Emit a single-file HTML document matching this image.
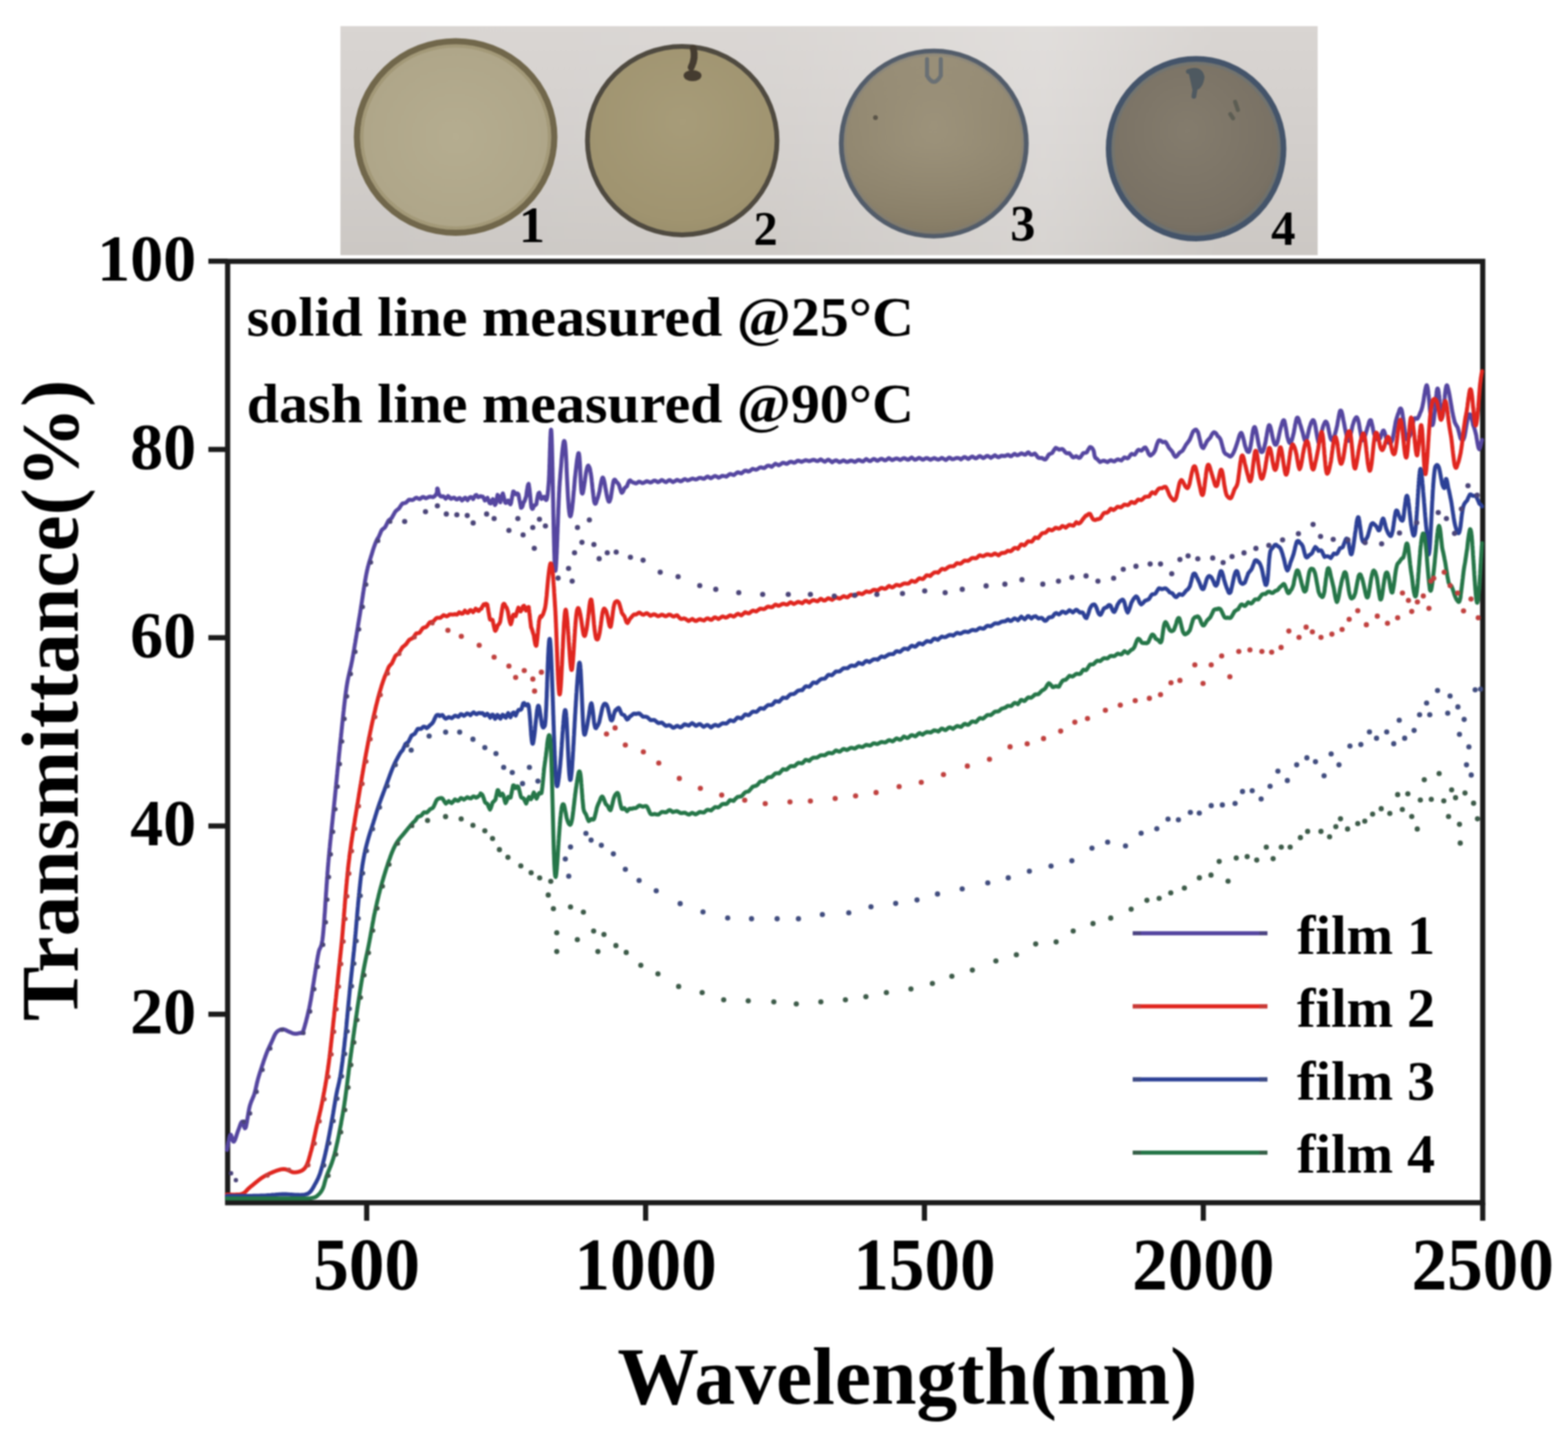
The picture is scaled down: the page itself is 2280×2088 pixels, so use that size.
<!DOCTYPE html><html><head><meta charset="utf-8"><style>html,body{margin:0;padding:0;background:#fff;}svg{display:block;filter:blur(1.3px)}</style></head><body>
<svg xmlns="http://www.w3.org/2000/svg" width="2280" height="2088" viewBox="0 0 2280 2088">
<defs>
<linearGradient id="pbg" x1="0" y1="0" x2="0" y2="1"><stop offset="0" stop-color="#d9d5d2"/><stop offset="0.5" stop-color="#d3cfcc"/><stop offset="1" stop-color="#ccc8c4"/></linearGradient>
<radialGradient id="c1" cx="0.5" cy="0.5" r="0.6"><stop offset="0" stop-color="#b5ad90"/><stop offset="0.8" stop-color="#afa689"/><stop offset="1" stop-color="#a39a76"/></radialGradient>
<radialGradient id="c2" cx="0.5" cy="0.4" r="0.65"><stop offset="0" stop-color="#a79c79"/><stop offset="0.8" stop-color="#a09470"/><stop offset="1" stop-color="#988d6b"/></radialGradient>
<radialGradient id="c3" cx="0.5" cy="0.4" r="0.65"><stop offset="0" stop-color="#9d937b"/><stop offset="0.8" stop-color="#918770"/><stop offset="1" stop-color="#877e6c"/></radialGradient>
<radialGradient id="c4" cx="0.45" cy="0.4" r="0.65"><stop offset="0" stop-color="#847c6d"/><stop offset="0.8" stop-color="#797164"/><stop offset="1" stop-color="#70695d"/></radialGradient>
<linearGradient id="phl" x1="0" y1="0" x2="1" y2="0"><stop offset="0" stop-color="#fff" stop-opacity="0"/><stop offset="0.45" stop-color="#fff" stop-opacity="0.06"/><stop offset="0.72" stop-color="#fff" stop-opacity="0.22"/><stop offset="0.8" stop-color="#fff" stop-opacity="0.12"/><stop offset="0.9" stop-color="#fff" stop-opacity="0"/><stop offset="1" stop-color="#fff" stop-opacity="0"/></linearGradient>
<linearGradient id="vs3" x1="0" y1="0" x2="0" y2="1"><stop offset="0" stop-color="#a49a84" stop-opacity="0.35"/><stop offset="0.5" stop-color="#8e846e" stop-opacity="0"/><stop offset="1" stop-color="#7a6f58" stop-opacity="0.45"/></linearGradient>
</defs>
<rect width="2280" height="2088" fill="#ffffff"/>
<rect x="495" y="38" width="1421" height="333" fill="url(#pbg)"/>
<rect x="495" y="38" width="1421" height="333" fill="url(#phl)"/>
<ellipse cx="662.5" cy="199.2" rx="143.5" ry="139.2" fill="url(#c1)" stroke="#71674b" stroke-width="9"/>
<ellipse cx="992" cy="204.4" rx="137.8" ry="137" fill="url(#c2)" stroke="#4f4a40" stroke-width="7"/>
<ellipse cx="1357.8" cy="208.7" rx="134.5" ry="134.5" fill="url(#c3)" stroke="#525c6a" stroke-width="7"/>
<ellipse cx="1739.2" cy="216.2" rx="127" ry="130.5" fill="url(#c4)" stroke="#44546a" stroke-width="8.5"/>
<ellipse cx="1357.8" cy="208.7" rx="132" ry="132" fill="url(#vs3)"/>
<ellipse cx="662.5" cy="199.2" rx="136.5" ry="132.5" fill="none" stroke="#978c68" stroke-opacity="0.5" stroke-width="5"/>
<ellipse cx="1739.2" cy="216.2" rx="121" ry="124.5" fill="none" stroke="#6a7478" stroke-opacity="0.5" stroke-width="5"/>
<ellipse cx="1357.8" cy="208.7" rx="129.5" ry="129.5" fill="none" stroke="#7c7f80" stroke-opacity="0.3" stroke-width="4"/>
<path d="M1008 70 Q1012 84 1005 98" fill="none" stroke="#453c30" stroke-width="10" stroke-linecap="round"/>
<ellipse cx="1007" cy="110" rx="13" ry="8" fill="#453c30"/>
<path d="M1348 86 L1348 110 Q1358 128 1368 110 L1368 86" fill="none" stroke="#6a7074" stroke-width="6" stroke-linecap="round"/>
<circle cx="1273" cy="171" r="3.5" fill="#5a5448"/>
<path d="M1728 104 Q1745 98 1748 112 Q1746 126 1738 128 L1736 140" fill="#4a5660" stroke="#4a5660" stroke-width="7" stroke-linecap="round" opacity="0.9"/>
<path d="M1796 148 L1800 160 M1789 166 L1793 172" stroke="#55584f" stroke-width="6" stroke-linecap="round" opacity="0.8"/>
<text x="754.8" y="352" font-size="75" font-family="Liberation Serif, Times New Roman, serif" font-weight="bold">1</text>
<text x="1095.8" y="355.5" font-size="70" font-family="Liberation Serif, Times New Roman, serif" font-weight="bold">2</text>
<text x="1469" y="350" font-size="73" font-family="Liberation Serif, Times New Roman, serif" font-weight="bold">3</text>
<text x="1848.3" y="355.5" font-size="71" font-family="Liberation Serif, Times New Roman, serif" font-weight="bold">4</text>
<rect x="331" y="380" width="1825" height="1368.8" fill="none" stroke="#1b1b1b" stroke-width="7.5"/>
<path d="M303 379.8H331M303 653.5H331M303 927.2H331M303 1200.9H331M303 1474.7H331M533.2 1748.8V1775M938.8 1748.8V1775M1344.2 1748.8V1775M1749.7 1748.8V1775M2156 1748.8V1775" stroke="#1b1b1b" stroke-width="7.5" fill="none"/>
<g fill="none" stroke-linejoin="round" stroke-linecap="round">
<path d="M330 1672L330.2 1671.1L330.4 1669.9L330.7 1668.5L331 1666.9L331.3 1665.1L331.6 1663.2L332 1661.3L332.4 1659.4L332.8 1657.6L333.1 1655.8L333.5 1654.1L333.9 1652.7L334.3 1651.5L334.7 1650.6L335 1650L335.7 1650L336.4 1651.3L337 1653.5L337.7 1656L338.4 1658.3L339.2 1659.8L340 1660L340.5 1659.5L341.1 1658.5L341.7 1657.3L342.3 1655.8L342.9 1654.1L343.5 1652.3L344.1 1650.4L344.7 1648.5L345.3 1646.7L345.9 1644.9L346.5 1643.3L347 1642L347.7 1640.2L348.4 1638.3L349 1636.5L349.6 1634.8L350.2 1633.4L350.8 1632.2L351.4 1631.4L352 1631L352.8 1631.8L353.6 1634L354.4 1636.8L355.3 1639.2L356.1 1640.6L357 1640L357.3 1639.4L357.5 1638.6L357.8 1637.6L358.1 1636.4L358.3 1635.1L358.6 1633.7L358.9 1632.2L359.2 1630.6L359.4 1628.9L359.7 1627.1L360 1625.4L360.3 1623.5L360.6 1621.7L360.9 1619.9L361.2 1618.1L361.5 1616.4L361.8 1614.7L362.1 1613.1L362.4 1611.6L362.7 1610.3L363 1609L363.5 1607.2L364 1605.5L364.6 1603.9L365.1 1602.4L365.7 1601L366.2 1599.7L366.8 1598.4L367.3 1597.1L367.9 1595.8L368.4 1594.5L369 1593.1L369.5 1591.6L370 1590L370.4 1588.7L370.8 1587.3L371.1 1585.9L371.5 1584.6L371.8 1583.2L372.1 1581.8L372.4 1580.3L372.8 1578.9L373.1 1577.4L373.4 1575.9L373.8 1574.3L374.2 1572.8L374.6 1571.1L375 1569.5L375.5 1567.8L376 1566L376.4 1564.7L376.8 1563.4L377.2 1562L377.7 1560.6L378.1 1559.1L378.6 1557.7L379.1 1556.1L379.6 1554.6L380.1 1553L380.6 1551.5L381.1 1549.9L381.6 1548.3L382.2 1546.8L382.7 1545.2L383.2 1543.7L383.7 1542.2L384.2 1540.8L384.7 1539.3L385.2 1538L385.7 1536.6L386.1 1535.4L386.6 1534.1L387 1533L387.7 1531.1L388.4 1529.4L389.1 1527.7L389.7 1526.2L390.3 1524.8L391 1523.5L391.5 1522.2L392.1 1520.9L392.7 1519.8L393.3 1518.6L393.9 1517.4L394.4 1516.2L395 1515L395.7 1513.4L396.4 1511.8L397.1 1510.2L397.8 1508.7L398.4 1507.1L399.1 1505.7L399.8 1504.4L400.5 1503.1L401.2 1502L402 1501L403.4 1499.6L404.9 1498.5L406.4 1497.7L407.9 1497.1L409.5 1496.8L411 1496.6L412.5 1496.7L414 1497.2L415.6 1497.8L417.1 1498.6L418.6 1499.4L420 1500L421.7 1500.7L423.3 1501.4L424.8 1502.1L426.4 1502.7L428 1503L429.6 1503.1L431.3 1503L433 1502.8L434.6 1502.4L436 1502L437.7 1502.2L439.1 1502.2L441 1498.7L441.3 1497.8L441.6 1496.8L442 1495.8L442.4 1494.6L442.7 1493.3L443.1 1492L443.5 1490.6L443.9 1489.1L444.3 1487.6L444.8 1486L445.2 1484.4L445.6 1482.7L446 1481.1L446.5 1479.4L446.9 1477.6L447.3 1475.9L447.7 1474.1L448.1 1472.4L448.5 1470.7L448.9 1469L449.3 1467.3L449.7 1465.6L450 1464L450.3 1462.6L450.6 1461.1L450.9 1459.7L451.1 1458.2L451.4 1456.8L451.7 1455.3L452 1453.8L452.2 1452.3L452.5 1450.8L452.7 1449.3L453 1447.8L453.2 1446.3L453.5 1444.8L453.7 1443.2L453.9 1441.7L454.2 1440.2L454.4 1438.7L454.7 1437.1L454.9 1435.6L455.1 1434.1L455.4 1432.6L455.6 1431L455.9 1429.5L456.1 1428L456.4 1426.5L456.6 1425L456.8 1423.5L457.1 1422L457.3 1420.4L457.6 1418.9L457.8 1417.3L458.1 1415.7L458.3 1414.2L458.6 1412.6L458.8 1411L459.1 1409.4L459.3 1407.8L459.6 1406.3L459.8 1404.7L460 1403.1L460.3 1401.6L460.5 1400.1L460.8 1398.5L461 1397L461.3 1395.6L461.5 1394.1L461.8 1392.7L462 1391.3L462.3 1389.9L462.5 1388.6L462.8 1387.3L463 1386L463.4 1384.3L463.8 1382.8L464.1 1381.6L464.5 1380.6L464.9 1379.8L465.3 1379L465.6 1378.3L466 1377.5L466.4 1376.6L466.8 1375.6L467.2 1374.4L467.6 1373L468 1371.2L468.4 1369.1L468.8 1366.6L469.2 1363.5L469.6 1360L469.7 1359L469.8 1358L469.9 1357L470 1355.9L470.1 1354.9L470.2 1353.7L470.3 1352.6L470.4 1351.4L470.5 1350.2L470.6 1348.9L470.8 1347.6L470.9 1346.3L471 1345L471.1 1343.7L471.2 1342.3L471.3 1340.9L471.4 1339.5L471.5 1338L471.6 1336.6L471.7 1335.1L471.8 1333.6L471.9 1332.1L472 1330.5L472.1 1329L472.3 1327.4L472.4 1325.8L472.5 1324.2L472.6 1322.6L472.7 1321L472.8 1319.4L472.9 1317.7L473 1316.1L473.1 1314.4L473.2 1312.8L473.3 1311.1L473.5 1309.4L473.6 1307.7L473.7 1306L473.8 1304.3L473.9 1302.6L474 1300.9L474.1 1299.2L474.2 1297.5L474.4 1295.8L474.5 1294.1L474.6 1292.4L474.7 1290.7L474.8 1289L474.9 1287.3L475 1285.6L475.2 1283.9L475.3 1282.3L475.4 1280.6L475.5 1278.9L475.6 1277.3L475.7 1275.7L475.9 1274L476 1272.4L476.1 1270.8L476.2 1269.2L476.3 1267.7L476.5 1266.1L476.6 1264.6L476.7 1263L476.8 1261.5L476.9 1260L477.1 1258.6L477.2 1257.1L477.3 1255.7L477.4 1254.1L477.6 1252.5L477.7 1250.8L477.9 1249.2L478 1247.7L478.2 1246.1L478.3 1244.5L478.4 1242.9L478.6 1241.3L478.7 1239.8L478.9 1238.2L479 1236.6L479.2 1235.1L479.3 1233.6L479.5 1232L479.6 1230.5L479.8 1228.9L479.9 1227.4L480.1 1225.9L480.2 1224.4L480.4 1222.9L480.5 1221.4L480.7 1219.8L480.8 1218.3L481 1216.8L481.1 1215.3L481.3 1213.8L481.5 1212.4L481.6 1210.9L481.8 1209.4L481.9 1207.9L482.1 1206.4L482.2 1204.9L482.4 1203.4L482.5 1201.9L482.7 1200.5L482.8 1199L483 1197.5L483.2 1196L483.3 1194.5L483.5 1193.1L483.6 1191.6L483.8 1190.1L483.9 1188.6L484.1 1187.1L484.2 1185.7L484.4 1184.2L484.6 1182.7L484.7 1181.2L484.9 1179.7L485 1178.2L485.2 1176.7L485.3 1175.2L485.5 1173.7L485.6 1172.2L485.8 1170.7L485.9 1169.2L486.1 1167.7L486.2 1166.2L486.4 1164.7L486.6 1163.2L486.7 1161.7L486.9 1160.1L487 1158.6L487.2 1157.1L487.3 1155.5L487.5 1154L487.6 1152.4L487.8 1150.9L487.9 1149.3L488.1 1147.8L488.2 1146.2L488.4 1144.7L488.5 1143.1L488.7 1141.5L488.8 1140L489 1138.4L489.2 1136.9L489.3 1135.3L489.5 1133.7L489.6 1132.2L489.8 1130.6L489.9 1129L490.1 1127.5L490.2 1125.9L490.4 1124.3L490.5 1122.8L490.7 1121.2L490.8 1119.7L491 1118.1L491.2 1116.6L491.3 1115L491.5 1113.5L491.6 1111.9L491.8 1110.4L491.9 1108.9L492.1 1107.3L492.2 1105.8L492.4 1104.3L492.5 1102.8L492.7 1101.2L492.8 1099.7L493 1098.2L493.1 1096.7L493.3 1095.2L493.4 1093.7L493.6 1092.3L493.7 1090.8L493.9 1089.3L494 1087.9L494.2 1086.4L494.3 1085L494.5 1083.5L494.6 1082.1L494.8 1080.7L494.9 1079.3L495.1 1077.9L495.2 1076.5L495.4 1075.1L495.5 1073.7L495.7 1072L495.9 1070.3L496 1068.7L496.2 1067L496.4 1065.3L496.6 1063.7L496.7 1062L496.9 1060.3L497.1 1058.7L497.2 1057L497.4 1055.4L497.6 1053.7L497.7 1052.1L497.9 1050.5L498.1 1048.8L498.3 1047.2L498.4 1045.6L498.6 1044L498.8 1042.4L498.9 1040.8L499.1 1039.3L499.3 1037.7L499.4 1036.1L499.6 1034.6L499.8 1033L499.9 1031.5L500.1 1030L500.3 1028.5L500.4 1027L500.6 1025.5L500.8 1024L500.9 1022.6L501.1 1021.1L501.3 1019.7L501.4 1018.3L501.6 1016.9L501.8 1015.5L501.9 1014.1L502.1 1012.7L502.3 1011.4L502.4 1010L502.6 1008.7L502.8 1007.4L502.9 1006.1L503.1 1004.9L503.3 1003.6L503.5 1002.4L503.6 1001.2L503.8 1000L504.1 998L504.4 996.1L504.7 994.2L505 992.5L505.3 990.9L505.6 989.3L505.9 987.8L506.2 986.3L506.5 984.9L506.8 983.5L507.1 982.2L507.4 980.9L507.7 979.6L508 978.3L508.3 977L508.6 975.8L508.9 974.5L509.2 973.2L509.5 971.9L509.8 970.5L510.2 969.1L510.5 967.7L510.8 966.2L511.1 964.7L511.5 963L511.8 961.3L512.2 959.6L512.5 957.7L512.7 956.5L513 955.2L513.2 953.9L513.4 952.6L513.7 951.3L513.9 949.9L514.1 948.5L514.4 947.1L514.6 945.7L514.9 944.2L515.1 942.8L515.4 941.3L515.6 939.8L515.9 938.3L516.1 936.8L516.4 935.2L516.7 933.7L516.9 932.2L517.2 930.6L517.4 929L517.7 927.5L518 925.9L518.2 924.3L518.5 922.7L518.7 921.2L519 919.6L519.3 918L519.5 916.4L519.8 914.9L520 913.3L520.3 911.7L520.5 910.2L520.8 908.6L521 907.1L521.3 905.6L521.5 904.1L521.8 902.6L522 901.1L522.3 899.6L522.5 898.2L522.7 896.8L523 895.4L523.2 894L523.4 892.6L523.7 890.9L523.9 889.3L524.2 887.6L524.5 886L524.7 884.3L525 882.6L525.2 881L525.5 879.3L525.8 877.6L526 876L526.3 874.4L526.5 872.7L526.8 871.1L527 869.5L527.3 867.9L527.5 866.3L527.7 864.7L528 863.1L528.2 861.6L528.4 860L528.7 858.5L528.9 857L529.1 855.5L529.4 854.1L529.6 852.6L529.8 851.2L530.1 849.8L530.3 848.4L530.5 847.1L530.7 845.8L530.9 844.5L531.1 843.2L531.4 842L531.6 840.8L531.8 839.6L532 838.5L532.4 836.2L532.8 834.2L533.2 832.3L533.6 830.5L533.9 828.9L534.3 827.4L534.6 826L534.9 824.6L535.3 823.3L535.6 822.1L536 820.8L536.3 819.5L536.7 818.2L537.1 816.9L537.5 815.5L538 814L538.5 812.4L538.9 811L539.3 809.7L539.8 808.2L540.2 806.8L540.7 805.4L541.1 803.9L541.6 802.4L542 800.9L542.5 799.4L543 797.9L543.5 796.4L544 794.9L544.6 793.5L545.1 791.9L545.7 790.4L546.3 788.9L546.9 787.5L547.5 786.1L548.1 784.9L548.7 783.6L549.4 782.5L550.1 781.9L550.9 780.3L551.6 778.4L552.5 776.5L553.3 774.6L554.1 772.7L555 770.8L555.9 770L556.7 769.3L557.7 768.5L558.6 767.9L559.5 767.2L560.4 765.9L561.3 764.1L562.2 762.3L563.1 760.4L564 758.7L564.9 756.9L565.8 756.1L566.7 755.5L567.7 754.8L568.6 754L569.6 753.3L570.5 751.5L571.5 749.7L572.5 748L573.4 746.3L574.4 744.6L575.3 743.2L576.3 742.4L577.3 741.6L578.2 740.8L579.2 740.1L580.1 739.5L581.1 737.9L582.1 736.4L583 735L584 733.6L585.4 732.1L586.7 731.8L588 731.5L589.3 731.3L590.6 730.6L591.9 729.3L593.2 728L594.6 726.7L596.1 726.6L597.8 726.9L599.5 727.2L601.4 726.3L602.7 725.3L604 724.2L605.5 723.7L607.1 724.4L608.7 725.2L610.4 725.7L612.1 724.4L613.8 723.1L615.6 722.6L617.4 723.6L619.1 724.6L620.8 724L622.5 723.2L624.1 722.4L625.7 722.2L627.1 722.5L628.4 722.7L629.7 722.9L630.8 722.3L631.7 721.7L633.7 719.6L634.8 717.5L635.4 715.6L635.5 713.6L635.6 711.8L635.6 710.6L636 710.3L636.5 710.8L636.9 712.1L637.2 713.9L637.6 716L638.2 718L638.9 719.8L640 721L641 721.8L642.2 722L643.5 721.6L644.9 721.8L646.4 723.3L648 725.1L649.7 723.6L651.5 721.4L653.4 722.8L654.7 724.7L656.1 725.3L657.5 724.5L659 723.8L660.5 723.6L662.1 724.9L663.7 726.2L665.3 726L666.9 724.5L668.6 724.1L670.2 725.9L671.8 727.7L673.4 726.5L675 724.4L676.6 723.7L678.2 725.6L679.8 727.3L681.5 725.1L683.1 723.2L684.8 722.7L686.4 723.6L688 725.7L689.6 722.9L691.2 720.3L692.7 719.8L694.1 721.7L695.5 723L696.8 722.3L698.7 721.5L700.4 722.1L702 722.2L703.5 724.3L704.9 727.7L706.3 726.9L707.5 725.3L708.8 723.8L710 726.8L712 731.5L713.6 732.1L715.1 727.8L716.7 725.7L718.5 731.2L719.7 734.3L720.9 732.6L722.2 726.2L723.5 719.5L724.8 721.6L726.2 725.9L727.5 730.4L728.8 723.9L730 720.2L731.2 717.4L732.3 721.3L733.4 725.9L734.5 730.7L735.6 731.4L736.7 730.4L737.8 729L738.9 727.8L740 730.5L740.8 731.8L741.5 732.7L742.3 733.2L743.1 731.3L743.8 727.2L744.6 723L745.4 718.8L746.2 714.7L746.9 714.7L747.7 715.6L748.5 716.7L749.2 718.3L750 718.7L750.6 717.9L751.3 717.4L751.9 717.4L752.5 717.6L753.2 718.1L753.8 719.1L754.5 722.4L755.1 725.8L755.8 729.1L756.4 732.3L757 735.4L757.6 738.4L758.2 738.2L758.8 737.7L759.4 736.8L760 735.5L760.4 734L760.9 732.2L761.3 730.4L761.7 730.1L762.2 729.5L762.6 728.8L763 727.8L763.4 726.7L763.8 725.6L764.2 724.4L764.6 723.2L765 722.1L765.4 720.1L765.7 717.1L766.1 714.3L766.5 711.8L766.9 709.5L767.2 707.5L767.6 705.9L768 704.7L768.3 704L768.7 703.6L769 705L769.3 707.1L769.6 709.5L770 712L770.3 714.7L770.6 717.6L770.9 720.5L771.2 723.5L771.5 726.6L771.8 729.6L772.1 732.7L772.4 735.7L772.7 737.4L773 738.3L773.4 739.1L773.7 739.6L774 739.9L774.3 739.9L774.7 739.7L775 739.1L775.5 737.5L776.1 735.4L776.6 734.9L777.1 735.1L777.7 735L778.2 734.6L778.8 734.1L779.3 733.6L779.9 733.2L780.5 729.1L781.1 725.7L781.7 722.5L782.3 719.7L783 717.2L784.3 716.3L785.7 720.5L787.2 725.5L788.8 724.7L790.3 722.5L791.7 722.3L792.9 725.9L794 727.1L794.4 727L794.8 726.6L795.1 725.7L795.4 724.3L795.7 723L795.9 721.6L796.2 720.2L796.4 718.7L796.5 717.2L796.7 715.5L796.9 713.7L797.1 711.8L797.2 709.8L797.4 707.6L797.6 705.2L797.8 702.7L798 700L798.1 698.9L798.2 697.6L798.2 696.2L798.3 694.6L798.4 692.9L798.5 691.1L798.6 689.2L798.6 687.2L798.7 685.1L798.8 682.9L798.9 680.7L798.9 678.3L799 676L799.1 673.5L799.2 671.1L799.2 668.6L799.3 666.1L799.4 663.6L799.5 661.1L799.5 658.6L799.6 656.1L799.7 653.6L799.8 651.2L799.9 648.9L799.9 646.5L800 644.3L800.1 642.1L800.2 640.1L800.2 638.1L800.3 636.2L800.4 634.4L800.5 632.8L800.6 631.2L800.6 629.8L800.7 628.6L800.8 627.5L800.9 626.6L801 625.8L801.1 625.2L801.1 624.8L801.2 624.7L801.3 624.7L801.4 624.9L801.5 625.4L801.6 626.1L801.7 627L801.8 628.3L801.8 628.8L801.9 629.3L801.9 629.9L801.9 630.5L802 631.2L802 632L802 632.7L802.1 633.6L802.1 634.4L802.2 635.3L802.2 636.3L802.2 637.3L802.3 638.3L802.3 639.4L802.3 640.5L802.4 641.7L802.4 642.8L802.4 644.1L802.5 645.3L802.5 646.6L802.6 647.9L802.6 649.3L802.6 650.7L802.7 652.1L802.7 653.6L802.7 655L802.8 656.6L802.8 658.1L802.9 659.7L802.9 661.3L802.9 662.9L803 664.5L803 666.2L803 667.9L803.1 669.6L803.1 671.4L803.2 673.1L803.2 674.9L803.2 676.7L803.3 678.5L803.3 680.4L803.4 682.2L803.4 684.1L803.4 686L803.5 687.9L803.5 689.8L803.5 691.7L803.6 693.7L803.6 695.6L803.7 697.6L803.7 699.6L803.7 701.6L803.8 703.5L803.8 705.5L803.9 707.6L803.9 709.6L803.9 711.6L804 713.6L804 715.7L804.1 717.8L804.1 719.9L804.1 722L804.2 724L804.2 726.1L804.3 728.2L804.3 730.3L804.4 732.4L804.4 734.5L804.4 736.6L804.5 738.7L804.5 740.8L804.6 742.8L804.6 744.9L804.6 747L804.7 749L804.7 751.1L804.8 753.1L804.8 755.1L804.9 757.2L804.9 759.2L804.9 761.2L805 763.1L805 765.1L805.1 767.1L805.1 769L805.2 770.9L805.2 772.8L805.2 774.7L805.3 776.6L805.3 778.5L805.4 780.3L805.4 782.1L805.5 783.9L805.5 785.7L805.5 787.4L805.6 789.1L805.6 790.8L805.7 792.5L805.7 794.1L805.8 795.8L805.8 797.4L805.8 798.9L805.9 800.5L805.9 802L806 803.4L806 804.9L806.1 806.3L806.1 807.7L806.2 809L806.2 810.3L806.2 811.6L806.3 812.8L806.3 814L806.4 815.2L806.4 816.3L806.5 817.4L806.5 818.4L806.6 819.4L806.6 820.4L806.7 821.3L806.7 822.2L806.7 823L806.8 823.8L806.8 824.5L806.9 825.2L806.9 825.9L807 826.4L807 827L807.1 827.5L807.1 827.9L807.2 828.3L807.2 828.7L807.3 829.1L807.3 829.4L807.4 829.7L807.5 829.8L807.6 829.9L807.6 829.8L807.7 829.7L807.8 829.5L807.9 829.2L807.9 828.8L808 828.1L808.1 827.5L808.2 826.7L808.2 825.9L808.3 825L808.4 824.1L808.5 823L808.5 821.9L808.6 820.8L808.7 819.6L808.8 818.3L808.8 816.9L808.9 815.5L809 814.1L809.1 812.6L809.2 811L809.2 809.4L809.3 807.7L809.4 806L809.5 804.3L809.6 802.5L809.6 800.6L809.7 798.8L809.8 796.9L809.9 794.9L810 792.9L810 790.9L810.1 788.9L810.2 786.8L810.3 784.7L810.4 782.6L810.4 780.5L810.5 778.4L810.6 776.2L810.7 774L810.8 771.8L810.8 769.6L810.9 767.4L811 765.2L811.1 763L811.2 760.7L811.3 758.5L811.3 756.3L811.4 754L811.5 751.8L811.6 749.6L811.7 747.4L811.8 745.2L811.8 743L811.9 740.8L812 738.7L812.1 736.7L812.2 734.7L812.3 732.7L812.3 730.8L812.4 728.9L812.5 727L812.6 725.1L812.7 723.3L812.8 721.5L812.8 719.8L812.9 718L813 716.4L813.1 714.7L813.2 713.1L813.3 711.6L813.3 710.1L813.4 708.6L813.5 707.2L813.6 705.9L813.7 704.6L813.8 703.3L813.8 702.2L813.9 701.1L814 700L814.2 697.7L814.4 695.4L814.6 693.1L814.7 690.8L814.9 688.5L815.1 686.2L815.3 683.9L815.5 681.7L815.7 679.5L815.9 677.3L816.1 674.6L816.3 672.3L816.4 669.9L816.6 667.6L816.8 665.4L817 663.3L817.2 661.2L817.4 659.1L817.6 657.2L817.8 655.3L818 653.5L818.2 651.8L818.4 650.3L818.6 648.8L818.8 647.4L819 646.1L819.2 645L819.3 643.9L819.5 643L819.7 642.3L819.9 641.6L820.1 641.3L820.3 641.2L820.5 641.2L820.7 641.4L820.9 641.8L821.1 642.3L821.3 643L821.4 643.5L821.5 644L821.6 644.7L821.7 645.5L821.8 646.3L821.9 647.2L822 648.3L822.1 649.4L822.2 650.5L822.3 651.8L822.4 653.1L822.5 654.5L822.6 656L822.7 657.5L822.8 659.1L822.9 660.8L823 662.5L823.1 664.2L823.2 666L823.3 667.9L823.4 669.8L823.5 671.7L823.6 673.7L823.7 675.7L823.7 677.7L823.8 679.8L823.9 681.9L824 685.1L824.1 687.1L824.2 689.1L824.3 691.1L824.4 693.1L824.5 695.1L824.6 697.1L824.7 699.2L824.8 701.2L824.9 703.2L825 705.2L825.1 707.2L825.2 709.2L825.3 711.2L825.4 713.2L825.5 715.1L825.6 717L825.7 718.9L825.8 720.8L825.9 722.6L826 724.4L826.1 726.1L826.3 727.8L826.4 729.5L826.5 731.1L826.6 732.6L826.7 734.1L826.8 735.6L826.9 737L827 738.3L827.1 739.5L827.3 740.7L827.4 741.8L827.5 742.9L827.6 743.8L827.7 744.7L827.9 745.5L828 746.2L828.1 747.1L828.2 747.9L828.4 748.6L828.5 749.2L828.6 749.7L828.8 750.1L828.9 750.4L829.1 750.7L829.2 750.8L829.4 750.7L829.6 750.6L829.7 750.3L829.9 749.9L830.1 749.4L830.3 748.7L830.5 748L830.6 747.2L830.8 746.2L831 745.2L831.2 744.1L831.4 742.9L831.6 741.6L831.8 740.3L832 738.4L832.2 736.5L832.4 734.5L832.6 732.5L832.9 730.4L833.1 728.2L833.3 726L833.5 723.8L833.7 721.5L833.9 719.2L834.1 716.8L834.3 714.5L834.6 712.1L834.8 709.7L835 707.3L835.2 704.9L835.4 702.4L835.6 700L835.8 697.6L836 695.3L836.3 693.3L836.5 691.4L836.7 689.4L836.9 687.5L837.1 685.6L837.3 683.8L837.5 682L837.7 680.2L837.9 678.5L838.1 676.8L838.3 675.2L838.5 673.7L838.7 672.2L838.8 670.8L839 669.5L839.2 668.3L839.4 667.1L839.6 666L839.7 665L839.9 664.2L840 663.4L840.2 662.4L840.4 661.6L840.5 660.8L840.7 660.2L840.8 659.7L841 659.2L841.2 658.9L841.4 658.9L841.6 659.1L841.8 659.5L841.9 660.2L842.1 661L842.3 662.1L842.4 663.3L842.5 664.6L842.7 666.1L842.8 667.8L842.9 669.5L843 671.4L843.2 673.3L843.3 675.4L843.4 677.4L843.5 679.6L843.6 681.8L843.7 684L843.8 686.2L843.9 688.4L844 690.6L844.1 692.9L844.2 695.3L844.3 697.6L844.4 699.8L844.5 701.9L844.7 704L844.8 706L844.9 707.8L845.1 709.6L845.2 711.2L845.3 712.6L845.5 713.9L845.7 715L845.8 715.9L846 716.7L846.2 717.2L846.5 717.6L846.8 717.7L847.1 717.4L847.4 716.9L847.7 716.1L848 714.4L848.3 712.6L848.7 710.6L849 708.4L849.4 706.1L849.7 703.7L850.1 701.2L850.5 698.6L850.8 696L851.2 693.4L851.6 690.8L852 688.3L852.3 686.3L852.7 684.5L853.1 682.8L853.5 681.3L853.8 679.9L854.2 678.8L854.6 677.9L854.9 677.3L855.3 677L855.6 677L856 678.4L856.3 678.4L856.5 678.5L856.8 678.9L857 679.4L857.3 680.1L857.5 680.9L857.8 681.9L858 683L858.3 684.2L858.5 685.5L858.8 686.9L859 688.4L859.3 689.9L859.5 691.6L859.8 693.3L860 695.1L860.3 697.4L860.5 699.8L860.8 702.3L861 704.7L861.3 707.1L861.5 709.5L861.8 711.9L862 714.2L862.3 716.5L862.6 718.7L862.8 720.8L863.1 722.9L863.3 724.8L863.6 726.7L863.8 728.5L864.1 729.7L864.4 730.6L864.6 731.3L864.9 731.9L865.2 732.3L865.4 732.5L865.7 732.5L866.1 732.3L866.5 731.6L867 730.5L867.4 729.2L867.8 727.5L868.3 726.3L868.7 725.2L869.2 723.9L869.6 722.4L870.1 720.9L870.5 719.2L871 717.4L871.4 715.7L871.9 713.9L872.3 710.5L872.8 708L873.2 705.6L873.7 703.4L874.1 701.2L874.5 699.3L875 697.6L875.4 696.2L875.8 695L876.2 694.5L876.6 694.5L877 694.9L877.4 695.7L877.8 696.8L878.2 698.2L878.6 699.8L879 701.7L879.4 703.7L879.8 705.9L880.1 708.4L880.5 710.3L880.9 712.2L881.2 714.2L881.6 716.1L881.9 718L882.3 719.9L882.6 721.6L883 723.2L883.4 724.5L883.7 725.7L884.1 726.8L884.5 728L884.8 728.8L885.2 729.4L885.6 729.5L886 729.4L886.4 728.9L886.7 728.1L887.1 727.1L887.5 725.8L887.9 724.4L888.3 722.9L888.6 720.5L889 718L889.4 715.5L889.8 712.9L890.2 710.4L890.6 707.9L891 705.4L891.4 703.1L891.8 701L892.2 699.4L892.6 698.5L893 697.8L893.5 697.4L893.9 697.4L894.7 698L895.5 699.3L896.3 700.6L897.1 701.2L898 702.1L898.8 703.2L899.7 704.4L900.6 706.8L901.4 709.7L902.3 712.4L903.1 714.7L904 716.6L904.8 716.3L905.7 715.1L906.6 713.4L907.4 711.3L908.3 709.6L909.1 709.1L910 708.4L910.8 707.7L911.7 707L912.5 704.6L913.4 702.4L914.2 700.6L915 699.3L916.3 698.5L917.3 699.3L918.3 700.2L919.5 701.1L921.4 701.7L924.3 702.9L925.4 702.6L926.5 702L927.8 701.2L929.2 700.3L930.6 700.7L932.2 701.5L933.8 702.3L935.4 702.3L937.1 701.4L938.8 700.5L940.6 699.7L942.3 700.3L944.1 700.9L945.8 701.6L947.5 701L949.2 699.9L950.8 698.9L952.4 698.9L954 699.7L955.4 700.4L956.8 701.1L958.6 700.4L960.4 699.1L962.1 698L963.7 698.5L965.3 699.6L966.9 700.6L968.4 701.1L969.9 700.1L971.4 699.1L972.8 698.2L974.3 698.2L975.7 699.2L977.1 700.1L978.6 701L980 700.3L981.6 699.4L983.1 698.5L984.4 697.7L985.7 698.2L987 698.8L988.3 699.3L989.6 699.9L991 699.5L992.5 698.5L994.1 697.4L995.9 696.6L997.8 697.5L1000 698.5L1001.2 698.2L1002.5 697.7L1003.9 697.1L1005.3 696.4L1006.8 695.9L1008.4 696.3L1010 696.7L1011.7 697.1L1013.4 696.7L1015.1 695.7L1016.8 694.8L1018.6 694.8L1020.4 695.3L1022.1 695.9L1023.8 696.2L1025.6 694.9L1027.3 693.6L1028.9 692.9L1030.5 693.7L1032.1 694.6L1033.6 695.4L1035.1 694.6L1036.4 693.7L1037.7 693L1038.9 692.3L1040 692.1L1042.4 693.1L1043.8 693.8L1044.5 694.2L1044.9 694.6L1045.3 694.4L1046.1 694L1047.7 693.3L1050.3 691.8L1054.4 692.5L1055.3 692.6L1056.3 693L1057.3 692.2L1058.4 691.4L1059.5 690.5L1060.7 689.6L1061.9 689.1L1063.2 689.6L1064.5 690L1065.8 690.4L1067.2 690.8L1068.6 689.6L1070.1 688.4L1071.6 687.2L1073.1 686.6L1074.6 687.2L1076.2 687.8L1077.8 688.4L1079.4 687.3L1081 686L1082.7 684.6L1084.3 684.2L1086 684.8L1087.7 685.5L1089.4 685.3L1091.1 684.1L1092.8 682.9L1094.5 681.7L1096.2 682.2L1097.9 682.6L1099.7 683L1101.4 682.2L1103.1 681L1104.7 679.8L1106.4 679.5L1108.1 679.9L1109.7 680.4L1111.3 680.6L1113 679.4L1114.5 678.2L1116.1 677.1L1117.7 677.1L1119.2 677.6L1120.6 678.1L1122.1 678.8L1123.5 677.6L1124.9 676.4L1126.2 675.3L1127.5 674.3L1128.8 674.9L1130.7 675.7L1132.5 676.6L1134.2 675.6L1136 674.4L1137.7 673.2L1139.3 672.9L1141 673.5L1142.5 674.1L1144.1 674.5L1145.7 673.5L1147.2 672.5L1148.7 671.6L1150.1 671.3L1151.6 671.8L1153 672.3L1154.4 672.8L1155.9 672.5L1157.3 671.6L1158.6 670.7L1160 669.8L1161.4 669.9L1162.8 670.5L1164.2 671.1L1165.5 671.7L1166.9 671L1168.3 670.4L1169.7 669.8L1171.1 669.2L1172.5 669.4L1174 669.8L1175.4 670.2L1176.9 670.6L1178.4 670.1L1179.9 669.5L1181.4 668.9L1182.9 668.6L1184.4 669.1L1185.9 669.6L1187.4 670.2L1188.9 670.5L1190.4 669.7L1191.9 668.8L1193.4 667.9L1194.9 668.8L1196.4 669.8L1197.9 670.7L1199.4 671.4L1200.9 670.4L1202.4 669.4L1204 668.4L1205.5 668.8L1207 669.9L1208.5 671.1L1210 672.3L1211.5 671.1L1213 670.3L1214.5 669.6L1216 669.3L1217.5 670.2L1219 671.1L1220.5 672L1222 671.6L1223.5 670.9L1225 670.2L1226.5 669.5L1228 670.2L1229.5 670.9L1231 671.6L1232.5 671.6L1234 671L1235.5 670.3L1237 669.7L1238.5 669.8L1240 670.4L1241.5 670.9L1243 671.7L1244.5 670.9L1246 670L1247.5 669.1L1249 668.8L1250.5 669.5L1252 670.2L1253.6 670.9L1255.1 670.8L1256.6 669.7L1258.1 668.5L1259.6 667.4L1261.1 668.4L1262.6 669.4L1264.1 670.4L1265.6 670.4L1267.1 669.3L1268.6 668.3L1270.1 667.3L1271.6 667.6L1273.1 668.5L1274.6 669.4L1276.1 669.9L1277.6 669L1279.1 668.2L1280.6 667.3L1282.1 667.1L1283.6 667.8L1285.1 668.6L1286.6 669.4L1288.1 669.1L1289.6 668.1L1291.1 667L1292.6 666.1L1294.1 667.1L1295.6 668.1L1297.1 669L1298.6 668.6L1300.1 667.9L1301.6 667.2L1303.2 666.6L1304.7 666.9L1306.2 667.5L1307.7 668.1L1309.2 668.8L1310.7 668L1312.2 667.1L1313.7 666.3L1315.2 666.2L1316.7 667L1318.2 667.7L1319.7 668.5L1321.2 668.3L1322.7 667.2L1324.2 666.1L1325.7 665.3L1327.2 666.4L1328.7 667.4L1330.2 668.5L1331.7 668.2L1333.2 667.4L1334.7 666.5L1336.2 665.7L1337.7 666.2L1339.2 667.1L1340.7 667.9L1342.2 668.4L1343.7 667.6L1345.2 666.9L1346.7 666.1L1348.2 666.1L1349.7 666.9L1351.2 667.7L1352.8 668.5L1354.3 667.8L1355.8 667.2L1357.3 666.6L1358.8 666.1L1360.3 666.8L1361.8 667.5L1363.3 668.1L1364.8 668.3L1366.3 667.5L1367.8 666.7L1369.3 665.8L1370.8 666.4L1372.3 667.2L1373.8 668L1375.3 668.9L1376.8 667.8L1378.3 666.7L1379.8 665.5L1381.4 665.6L1382.9 666.7L1384.5 667.7L1386 667.7L1387.6 667.1L1389.2 666.5L1390.8 665.9L1392.3 665.9L1393.9 666.3L1395.5 666.8L1397.1 668L1398.7 666.9L1400.2 665.8L1401.8 664.7L1403.4 664.7L1404.9 665.6L1406.5 666.5L1408 667.4L1409.5 666.3L1411.1 665.3L1412.5 664.2L1414 663.8L1415.5 664.7L1416.9 665.6L1418.4 666.4L1419.8 666.3L1421.1 665.3L1422.5 664.3L1423.8 663.3L1425.1 663.2L1426.4 664L1428.3 665.2L1430 666.1L1431.8 665L1433.4 663.9L1435 662.8L1436.6 663.1L1438.1 664L1439.6 664.8L1441 665.7L1442.5 664.7L1443.9 663.8L1445.3 662.8L1446.7 662L1448.1 662.9L1449.5 663.7L1450.9 664.6L1452.3 664.8L1453.8 663.9L1455.3 663.1L1456.8 662.6L1458.4 662.8L1460 663L1461.4 663.1L1462.9 662.6L1464.4 661.6L1465.9 661.3L1467.5 662.3L1469 663.3L1470.6 663.3L1472.2 662L1473.9 660.7L1475.5 660L1477.1 661L1478.8 661.9L1480.4 661.9L1482 660.9L1483.6 660L1485.2 659.2L1486.7 659.8L1488.3 660.4L1489.8 661L1491.2 661L1492.6 659.6L1494 658.3L1495.3 657.7L1496.6 658.9L1497.8 660.1L1499 661.2L1501.1 661.1L1503.1 660.2L1504.8 659.5L1506.4 661.2L1507.9 663.3L1509.3 665.2L1510.6 665.8L1511.9 665.9L1513.1 666L1514.4 665.8L1515.7 666.3L1517.1 667.2L1518.5 667.9L1519.7 668.2L1520.9 667.5L1522 665.8L1523.2 664L1524.3 662L1525.4 660.6L1526.6 660.1L1527.7 659.6L1528.9 659.1L1530.1 658.6L1531.3 656.5L1532.5 654.5L1533.8 652.7L1535.1 651.2L1536.5 651.7L1538 652.6L1539.2 653.5L1540.5 653.8L1541.8 653.3L1543.2 653L1544.6 652.8L1546 653.9L1547.5 655.7L1549 657.6L1550.5 658.9L1552 659L1553.5 659L1555 659L1556.5 660.9L1558 662.7L1559.4 664.4L1560.8 665.1L1562.2 664.6L1563.6 664L1564.9 663.3L1566.2 664.2L1567.7 665.1L1569.1 665.8L1570.6 665.4L1572 663.4L1573.4 661.3L1574.8 659.1L1576.2 658.7L1577.6 658.5L1578.9 658.3L1580.2 657.8L1581.4 655.6L1582.6 653.6L1583.7 651.8L1584.8 650.1L1585.9 650.2L1586.9 650.6L1587.8 651.3L1588.8 652.5L1589.6 654L1590.1 655.2L1590.5 656.4L1590.8 657.9L1591.1 659.6L1591.3 661.3L1591.7 663L1592.2 664.5L1592.8 665.8L1593.7 666.6L1594.9 667L1596.5 668.8L1597.5 669.8L1598.6 670.9L1599.8 671.9L1601.1 671.1L1602.4 670.6L1603.9 670.1L1605.4 669.8L1606.9 670.5L1608.5 671.2L1610.2 672L1611.8 671L1613.5 669.9L1615.3 669.1L1617 669.9L1618.7 670.7L1620.5 670.9L1622.2 669.7L1623.9 668.5L1625.6 667.9L1627.2 668.5L1628.8 669.1L1630.4 669.6L1631.9 668.1L1633.3 666.7L1634.8 665.1L1636.4 665.4L1637.9 666L1639.5 666.5L1641 665.6L1642.6 663.3L1644.1 661.1L1645.7 660L1647.2 660.5L1648.7 660.9L1650.1 661L1651.6 658.9L1653 656.7L1654.4 654.7L1655.7 653.9L1657 654.4L1658.2 654.8L1659.5 655.3L1660.6 654.7L1661.7 653.4L1662.7 652.2L1663.7 651.1L1665.6 650.7L1667.1 652.9L1668.4 655.3L1669.4 657.9L1670.3 660L1671.1 661L1671.9 661.9L1672.6 662.4L1673.5 662.2L1674.5 661.2L1675.2 660.4L1675.8 660.2L1676.5 659.6L1677.2 658.9L1677.8 658L1678.5 656.9L1679.1 655.7L1679.8 654.5L1680.5 651.8L1681.2 649.6L1681.8 647.5L1682.5 645.5L1683.2 643.7L1683.9 642L1684.7 640.7L1685.4 640.1L1686.8 640.3L1688.2 641.1L1689.7 642.3L1691.2 643L1692.7 642.6L1694.2 642.4L1695.6 643.5L1697 646.1L1698.4 648.6L1699.4 650.6L1700.3 652L1701.2 652.8L1702 653.8L1702.8 654.8L1703.7 655.8L1704.5 656.7L1705.4 658.1L1706.2 660.1L1707.2 661.9L1708.2 663.3L1709.2 664.4L1710.2 664L1711.1 663.2L1712.2 662.1L1713.2 660.8L1714.3 659.3L1715.4 658L1716.5 657.4L1717.7 656.6L1718.8 655.8L1719.9 654.9L1721.1 652.8L1722.2 650.8L1723.3 648.9L1724.4 646.9L1725.3 645.6L1726.1 644.6L1727 643.5L1727.9 642.3L1728.8 641L1729.7 639.7L1730.6 637.7L1731.5 635.6L1732.4 633.4L1733.2 631.3L1734.1 629.3L1734.9 627.4L1735.8 626.5L1736.6 625.7L1737.4 625.1L1738.1 624.8L1738.8 624.7L1739.5 624.9L1740.1 626.3L1740.7 626.5L1741.2 627.1L1741.7 628L1742.2 629.1L1742.6 630.5L1743 632.1L1743.4 633.8L1743.8 635.6L1744.2 637.3L1744.6 639L1745.1 640.7L1745.5 642.9L1746 645L1746.4 646.8L1747 648.4L1747.6 649.7L1748.2 650.6L1749 651.3L1749.8 651.6L1750.7 649.9L1751.7 648.2L1752.7 646.4L1753.7 644.3L1754.8 642L1755.8 640.6L1756.9 639.5L1757.9 638.3L1758.9 637.2L1759.9 636.2L1760.9 634.2L1761.8 632.5L1762.6 631.1L1763.4 630L1765.2 628.4L1766.7 628.9L1768 630L1769.2 631.7L1770.5 634.1L1772 635.2L1772.5 635.7L1773.1 636.4L1773.7 637.3L1774.3 638.3L1774.9 639.4L1775.5 641.3L1776.1 643.5L1776.7 645.8L1777.3 648.1L1777.9 650.3L1778.6 652.6L1779.2 654.8L1779.8 656.8L1780.4 657.8L1781.1 658.8L1781.7 659.5L1782.3 660.2L1782.9 660.5L1784.4 661L1786 662L1787.5 663.3L1789.1 663.9L1790.6 662.9L1792.2 660.8L1793.7 658.1L1794.2 657L1794.8 655.6L1795.3 654.3L1795.9 653L1796.4 651.6L1796.9 650.1L1797.5 648.5L1798 646.8L1798.6 645.2L1799.1 643.5L1799.6 641.8L1800.2 640.2L1800.7 638.2L1801.3 636.3L1801.8 634.6L1802.3 633L1802.9 631.7L1803.4 630.7L1804 629.9L1804.5 629.4L1805 629.4L1805.6 630.3L1806.2 631.6L1806.7 633.1L1807.3 635L1807.8 637L1808.4 639.3L1809 641.6L1809.5 644.1L1810.1 646.9L1810.6 648.7L1811.2 650.4L1811.8 652L1812.3 653.4L1812.8 654.7L1813.4 655.7L1813.9 656.4L1814.4 656.9L1814.9 656.9L1815.4 657.1L1815.8 657.1L1816.2 656.7L1816.5 656.1L1816.9 655.2L1817.2 654.1L1817.6 652.8L1817.9 651.3L1818.2 649.7L1818.6 647.9L1818.9 646.1L1819.2 644.2L1819.5 642.3L1819.9 640.4L1820.2 637.7L1820.5 635.5L1820.8 633.2L1821.2 631.1L1821.5 629.2L1821.8 627.3L1822.2 625.7L1822.5 624.2L1822.9 623L1823.2 622L1823.6 621.4L1824 621L1824.4 620.9L1824.8 621.2L1825.2 622L1825.6 623.3L1826 624.9L1826.5 626.6L1826.9 628.6L1827.3 630.7L1827.8 632.9L1828.2 635.3L1828.6 637.7L1829.1 640.1L1829.5 642.6L1830 645L1830.4 647.1L1830.9 648.9L1831.3 650.6L1831.8 652.2L1832.2 653.6L1832.7 654.9L1833.1 655.9L1833.6 656.7L1834 657.2L1834.5 657.4L1834.9 657.3L1835.3 657.2L1835.7 656.9L1836.2 656.4L1836.6 655.7L1837 654.7L1837.4 653.5L1837.9 652.1L1838.3 650.6L1838.7 648.9L1839.1 647.1L1839.6 645.3L1840 643.4L1840.4 641.5L1840.8 639L1841.2 636.4L1841.7 634L1842.1 631.5L1842.5 629.2L1842.9 627L1843.3 625L1843.7 623.1L1844.1 621.4L1844.5 619.9L1844.9 618.7L1845.3 618.2L1845.7 618.2L1846.2 618.6L1846.7 619.5L1847.2 620.9L1847.7 622.6L1848.2 624.6L1848.7 626.9L1849.2 629.3L1849.6 632L1850.1 634.2L1850.6 636.2L1851 638.2L1851.5 640.1L1852 641.9L1852.5 643.5L1853 644.8L1853.5 645.8L1854 646.4L1854.5 646.7L1855 646.5L1855.4 646.6L1855.8 646.3L1856.2 645.7L1856.7 644.8L1857.1 643.7L1857.5 642.3L1858 640.8L1858.4 639L1858.9 637.1L1859.3 635.1L1859.8 632.9L1860.2 630.7L1860.7 628.6L1861.1 626.6L1861.6 624.7L1862 622.9L1862.5 621.3L1862.9 619.8L1863.4 618.3L1863.8 616.7L1864.3 615.2L1864.7 613.9L1865.1 612.8L1865.6 611.9L1866 611.3L1866.5 611L1866.9 611.1L1867.4 611.5L1867.9 613L1868.3 614.9L1868.8 617L1869.2 619.3L1869.7 621.8L1870.1 624.4L1870.6 627L1871 629.7L1871.4 632.4L1871.9 635.1L1872.3 636.4L1872.8 638.2L1873.2 639.8L1873.7 641.2L1874.1 642.4L1874.6 643.3L1875.1 643.9L1875.5 644.1L1876 643.9L1876.4 643.4L1876.8 643L1877.3 642.5L1877.7 641.6L1878.1 640.6L1878.6 639.4L1879 637.9L1879.4 636.4L1879.9 634.7L1880.3 632.9L1880.8 631.1L1881.2 629.4L1881.7 626.9L1882.1 624.3L1882.6 621.8L1883 619.4L1883.4 617L1883.9 614.8L1884.3 612.7L1884.8 610.7L1885.2 609L1885.7 607.8L1886.1 607.4L1886.6 607.2L1887 607.3L1887.5 607.9L1888 608.8L1888.5 610L1889 611.6L1889.5 613.4L1890 615.5L1890.5 616.8L1891 618.3L1891.5 619.9L1892 621.6L1892.5 623.3L1893 625.1L1893.5 626.8L1894 628.4L1894.5 630L1895 632.3L1895.5 634.4L1896 636.3L1896.5 638L1897 639.4L1897.5 640.4L1898 641.1L1898.5 641.5L1899.1 640.9L1899.6 639.7L1900.1 638.1L1900.7 636.2L1901.2 634.2L1901.7 631.9L1902.3 629.6L1902.8 627.1L1903.4 624.5L1903.9 622.5L1904.4 620.8L1905 619.1L1905.5 617.5L1906 616L1906.5 614.8L1907 613.7L1907.5 612.9L1908 612.2L1908.5 611.3L1909 610.8L1909.5 610.8L1909.9 611.1L1910.3 611.7L1910.8 612.5L1911.2 613.7L1911.6 615L1912 616.5L1912.4 618.2L1912.8 620.4L1913.2 622.8L1913.6 625.2L1914 627.7L1914.4 630L1914.8 632.4L1915.2 634.6L1915.6 636.6L1916 638.5L1916.4 640.2L1916.8 641.7L1917.2 643.8L1917.6 643.9L1918 643.6L1918.4 642.8L1918.9 641.7L1919.3 640.2L1919.8 638.4L1920.2 636.3L1920.6 634L1921.1 631.5L1921.5 628.9L1921.9 627.2L1922.4 625.5L1922.8 623.8L1923.3 622.2L1923.7 620.6L1924.2 619.2L1924.6 618L1925.1 616.9L1925.5 616.2L1926 615.1L1926.5 614L1927 613.2L1927.5 612.9L1928 613L1928.5 613.5L1929.1 614.2L1929.6 615.3L1930.1 616.5L1930.7 618.3L1931.2 620.9L1931.8 623.6L1932.3 626.3L1932.9 629.1L1933.4 631.7L1934 634.3L1934.6 636.7L1935.1 638.2L1935.7 639.1L1936.3 639.8L1936.9 640.1L1937.4 640L1938 639.4L1938.4 638.8L1938.8 637.8L1939.2 636.7L1939.6 635.5L1940 634.6L1940.5 633.5L1940.9 632.2L1941.3 630.8L1941.7 629.3L1942.1 627.7L1942.6 626L1943 624.3L1943.4 622.6L1943.8 620.8L1944.3 619.1L1944.7 616.6L1945.1 614.1L1945.5 611.7L1946 609.3L1946.4 607L1946.8 604.9L1947.2 602.8L1947.6 601L1948 599.3L1948.4 597.8L1948.8 597.2L1949.2 597L1949.6 597L1950 597.2L1950.4 597.8L1950.8 598.6L1951.1 599.7L1951.5 601.1L1951.9 602.6L1952.2 604.4L1952.6 606.3L1952.9 608.4L1953.3 610.3L1953.6 611.9L1954 613.5L1954.3 615.2L1954.7 617L1955 618.8L1955.3 620.6L1955.7 622.4L1956 624.1L1956.4 625.8L1956.7 627.4L1957.1 628.9L1957.4 630.3L1957.8 632.1L1958.1 634L1958.5 635.7L1958.9 637.2L1959.2 638.5L1959.6 639.5L1960 640.3L1960.5 640.8L1960.9 641L1961.4 640.9L1961.9 640.5L1962.4 637.8L1962.9 636.1L1963.4 634.1L1963.9 632L1964.4 629.7L1965 627.3L1965.5 624.9L1966 622.4L1966.5 620L1967 618.1L1967.6 616.4L1968.1 614.7L1968.6 613.1L1969.1 611.7L1969.6 610.5L1970.1 609.4L1970.6 608.6L1971.1 608L1971.5 607.2L1972 606.8L1972.5 606.7L1972.9 606.9L1973.4 607.4L1973.9 608.3L1974.3 609.4L1974.8 610.7L1975.2 612.1L1975.6 613.9L1976.1 616.2L1976.5 618.6L1976.9 621L1977.3 623.5L1977.8 625.9L1978.2 628.3L1978.6 630.6L1979 632.8L1979.4 634.9L1979.9 636.8L1980.3 638.3L1980.7 639.2L1981.1 639.8L1981.6 640.2L1982 640.2L1982.5 639.7L1983.1 638.8L1983.6 637.5L1984.1 635.9L1984.6 634.1L1985.2 632.7L1985.7 631.1L1986.2 629.3L1986.7 627.5L1987.3 625.6L1987.8 623.8L1988.3 622L1988.8 620.3L1989.4 619.1L1989.9 616.8L1990.4 614.9L1990.9 613.2L1991.5 612L1992 611.2L1992.5 610.8L1993.1 610.8L1993.6 611.3L1994.1 613.1L1994.6 615.1L1995.2 617.4L1995.7 619.8L1996.2 622.4L1996.7 625.1L1997.3 627.8L1997.8 630.5L1998.3 631.6L1998.8 633.2L1999.4 634.7L1999.9 636L2000.4 637.1L2000.9 638L2001.5 638.5L2002 638.7L2003 639L2004 639.2L2005 638.6L2006 637.6L2007 637.2L2008 634L2009 631L2010 628.3L2011 626.3L2012 626L2012.8 627.4L2013.5 629.4L2014.2 631.9L2014.9 634.7L2015.7 637.7L2016.4 639.9L2017.1 641.3L2017.9 642.5L2018.6 643.4L2019.4 643.8L2020.2 643.7L2021.1 644L2022 644.2L2022.3 644L2022.7 643.6L2023.1 643.1L2023.4 642.4L2023.8 641.6L2024.2 640.7L2024.6 639.6L2025 638.3L2025.4 636.2L2025.8 634L2026.2 631.7L2026.7 629.4L2027.1 627L2027.5 624.6L2027.9 622.1L2028.4 619.7L2028.8 617.2L2029.2 614.7L2029.6 612.5L2030.1 611L2030.5 609.4L2030.9 607.9L2031.3 606.5L2031.8 605.2L2032.2 603.9L2032.6 602.7L2033 601.7L2033.4 600.7L2033.8 599.9L2034.2 598.4L2034.6 597.2L2034.9 596.1L2035.3 595.3L2035.7 594.6L2036 594.2L2036.4 594L2036.8 594L2037.1 594.3L2037.5 594.8L2037.8 595.5L2038.2 596.4L2038.5 597.6L2038.9 599.4L2039.2 601.3L2039.5 603.3L2039.8 605.5L2040.2 607.7L2040.5 610L2040.8 612.4L2041.1 614.7L2041.4 617.1L2041.7 619.6L2042 621.9L2042.3 624.3L2042.6 626.6L2042.9 628.9L2043.2 631.8L2043.5 633.3L2043.8 634.6L2044.1 635.8L2044.4 636.8L2044.7 637.7L2045 638.3L2045.4 638.8L2045.7 639L2046 639L2046.5 638.6L2047.1 637.7L2047.6 636.7L2048.1 636.5L2048.6 636L2049.2 635.3L2049.7 634.3L2050.2 633.2L2050.7 631.9L2051.3 630.6L2051.8 629.1L2052.3 626.6L2052.8 623.9L2053.4 621.2L2053.9 618.6L2054.4 616.1L2054.9 613.8L2055.5 611.7L2056 609.9L2057 608.2L2058 608.1L2059 608.4L2060 608.8L2061.1 608.8L2062.1 607.1L2063.1 605.2L2064.1 603L2065 600.4L2066 598.3L2066.4 597.6L2066.7 596.7L2067.1 595.6L2067.4 594.3L2067.8 592.9L2068.2 591.4L2068.5 589.9L2068.9 588.2L2069.2 586.5L2069.6 584.7L2069.9 582.9L2070.3 580.2L2070.6 577.9L2071 575.6L2071.3 573.4L2071.7 571.3L2072 569.3L2072.3 567.4L2072.7 565.7L2073 564.2L2073.3 562.8L2073.7 561.7L2074 560.9L2074.3 560.2L2074.7 560.2L2075 560.7L2075.2 561.2L2075.4 561.9L2075.7 562.8L2075.9 563.8L2076.1 565.1L2076.3 566.4L2076.5 567.9L2076.7 569.5L2076.9 571.3L2077.1 573.1L2077.4 575.1L2077.6 577.1L2077.8 579.2L2078 581.4L2078.2 583.6L2078.4 585.8L2078.6 588.1L2078.8 590.4L2079 593.4L2079.2 595.3L2079.4 597.2L2079.6 599.1L2079.8 601L2080 602.9L2080.2 604.6L2080.4 606.3L2080.6 608L2080.8 609.5L2081 611L2081.2 612.4L2081.4 613.6L2081.6 614.7L2081.8 615.7L2082 616.5L2082.2 617.2L2082.4 617.7L2082.6 618L2082.8 618.2L2083 618.1L2083.2 617.8L2083.4 617.3L2083.6 616.8L2083.8 616.3L2084 615.5L2084.2 614.6L2084.4 613.6L2084.6 612.3L2084.8 611L2085 609.5L2085.2 607.9L2085.4 606.2L2085.6 604.3L2085.8 602.5L2086 600.5L2086.2 598.6L2086.4 596.5L2086.6 594.5L2086.8 592.5L2086.9 590.4L2087.1 588.4L2087.3 586.4L2087.5 584.5L2087.7 582.6L2087.9 580.8L2088.1 578.5L2088.3 576.5L2088.5 574.6L2088.7 572.8L2088.8 571.2L2089 569.8L2089.2 568.5L2089.4 567.4L2089.6 566.4L2089.8 565.7L2090 565.2L2090.3 564.9L2090.5 564.9L2090.8 565.3L2091 565.9L2091.3 566.8L2091.6 568L2091.8 569.3L2092.1 570.9L2092.3 572.6L2092.6 574.6L2092.9 577L2093.1 579.5L2093.4 582L2093.6 584.5L2093.9 587.1L2094.1 589.6L2094.4 592L2094.7 594.4L2094.9 596.6L2095.2 598.7L2095.4 600.6L2095.7 602.3L2096 603.8L2096.2 605.1L2096.5 606L2096.7 606.7L2097 607.3L2097.2 606.8L2097.5 606.1L2097.7 605.1L2097.9 604L2098.2 602.6L2098.4 601L2098.6 599.2L2098.8 597.3L2099.1 595.3L2099.3 593.1L2099.5 590.9L2099.8 588.5L2100 586.1L2100.2 583.7L2100.4 581.3L2100.7 578.8L2100.9 576.4L2101.1 574L2101.4 571.7L2101.6 569.6L2101.8 568L2102.1 566.4L2102.3 565L2102.5 563.7L2102.8 562.6L2103 561.6L2103.3 560.9L2103.5 560.5L2103.8 560.2L2104 560.3L2104.3 560.6L2104.6 561.1L2104.8 561.9L2105.1 562.9L2105.4 564.1L2105.7 565.5L2106 566.6L2106.3 567.7L2106.6 569L2106.9 570.4L2107.2 571.8L2107.5 573.4L2107.8 575L2108.1 576.7L2108.4 578.5L2108.7 580.2L2109 582L2109.3 583.8L2109.6 585.5L2109.9 587.2L2110.2 588.9L2110.5 590.5L2110.8 592.5L2111.1 594.4L2111.4 596.2L2111.7 597.8L2112 599.4L2112.5 601.6L2112.9 603.8L2113.4 606L2113.9 608.1L2114.4 610.1L2114.8 612.1L2115.3 613.9L2115.8 614.9L2116.2 615.9L2116.7 616.7L2117.2 617.6L2117.6 618.4L2118.1 619.2L2118.6 620L2119.1 620.7L2119.5 621.5L2120 623.1L2120.7 625.8L2121.5 628.7L2122.2 631.7L2123 634.6L2123.7 637.4L2124.4 638.3L2125.2 639.3L2125.9 640L2126.6 640.2L2127.3 639.9L2128 638.9L2128.3 638.1L2128.6 637.3L2129 636.4L2129.3 635.4L2129.6 634.1L2129.9 632.8L2130.2 631.2L2130.5 629.6L2130.8 627.9L2131.1 626.1L2131.4 624.3L2131.7 622.4L2132 620.6L2132.3 618.8L2132.6 617L2132.9 615.3L2133.2 613.9L2133.5 612L2133.8 610.2L2134.1 608.7L2134.4 607.3L2134.7 606.1L2135 605.2L2135.9 603.4L2136.7 602.5L2137.6 602.6L2138.4 604.6L2139.3 607.1L2140.2 610L2141.1 613.3L2142 617.9L2142.3 618.6L2142.7 619.4L2143 620.3L2143.4 621.3L2143.7 622.5L2144.1 623.7L2144.5 625L2144.8 626.3L2145.2 627.7L2145.6 629.2L2145.9 630.6L2146.3 632L2146.7 633.9L2147 636.2L2147.4 638.4L2147.8 640.6L2148.1 642.6L2148.4 644.5L2148.8 646.3L2149.1 647.9L2149.4 649.4L2149.7 650.6L2150 651.6L2150.9 653.2L2151.8 651.4L2152.6 648.8L2153.4 645.9L2154 643.1L2154.6 640.9L2155 639.6" stroke="#5546a0" stroke-width="5.8"/>
<path d="M330 1737L330.9 1737L332 1737L333.4 1737L334.9 1737L336.6 1737.1L338.3 1737.1L340.1 1737.1L342 1737.1L343.8 1737L345.6 1736.9L347.3 1736.8L348.9 1736.6L350.4 1736.3L351.7 1736L353.2 1735.4L354.5 1734.7L355.6 1734L356.6 1733.1L357.6 1732.2L358.5 1731.1L359.5 1730.1L360.6 1728.9L361.9 1727.7L363.4 1726.4L364.3 1725.6L365.3 1724.8L366.4 1724L367.5 1723.1L368.6 1722.2L369.7 1721.2L370.9 1720.2L372.1 1719.2L373.3 1718.2L374.6 1717.2L375.8 1716.2L377.1 1715.2L378.4 1714.3L379.7 1713.3L381 1712.4L382.4 1711.6L383.7 1710.8L385 1710L386.3 1709.3L387.7 1708.5L389.2 1707.8L390.6 1707.1L392.1 1706.3L393.7 1705.6L395.2 1705L396.7 1704.3L398.3 1703.7L399.8 1703.1L401.3 1702.5L402.8 1702L404.3 1701.5L405.7 1701.1L407.1 1700.7L408.5 1700.4L409.8 1700.2L411 1700L412.8 1699.9L414.4 1700.1L416 1700.4L417.5 1700.9L419 1701.5L420.4 1702.1L421.7 1702.8L423.1 1703.4L424.4 1704L425.7 1704.4L427.1 1704.7L428.4 1704.7L429.9 1704.6L431.4 1704.4L432.9 1704.2L434.4 1703.8L435.8 1703.4L437.3 1702.8L438.7 1702.2L440 1701.4L441.3 1700.4L442.5 1699.3L443.6 1698L444.3 1697L445 1695.9L445.6 1694.7L446.2 1693.5L446.8 1692.1L447.4 1690.7L447.9 1689.3L448.4 1687.8L448.9 1686.2L449.4 1684.6L449.8 1682.9L450.3 1681.2L450.8 1679.5L451.2 1677.8L451.7 1676L452.2 1674.3L452.6 1673L452.9 1671.7L453.2 1670.4L453.6 1669.1L453.9 1667.7L454.2 1666.4L454.5 1665L454.9 1663.6L455.2 1662.2L455.5 1660.7L455.8 1659.3L456.1 1657.8L456.4 1656.3L456.7 1654.8L457.1 1653.3L457.4 1651.7L457.7 1650.2L458.1 1648.6L458.4 1647L458.8 1645.3L459.1 1643.7L459.5 1642L459.8 1640.7L460.1 1639.3L460.4 1638L460.7 1636.6L461.1 1635.2L461.4 1633.9L461.7 1632.5L462.1 1631.1L462.4 1629.6L462.8 1628.2L463.1 1626.8L463.4 1625.3L463.8 1623.8L464.1 1622.4L464.5 1620.9L464.8 1619.3L465.2 1617.8L465.6 1616.3L465.9 1614.7L466.3 1613.2L466.6 1611.6L467 1610L467.3 1608.3L467.6 1606.7L468 1605.1L468.3 1603.4L468.7 1601.7L469 1600L469.3 1598.7L469.5 1597.3L469.8 1596L470 1594.6L470.3 1593.3L470.5 1591.9L470.8 1590.6L471 1589.2L471.3 1587.9L471.6 1586.5L471.8 1585.1L472.1 1583.7L472.3 1582.3L472.6 1580.9L472.8 1579.5L473.1 1578L473.3 1576.6L473.6 1575.1L473.8 1573.7L474.1 1572.2L474.3 1570.7L474.6 1569.2L474.8 1567.6L475.1 1566.1L475.3 1564.5L475.6 1562.9L475.8 1561.3L476 1559.7L476.3 1558.1L476.5 1556.4L476.8 1554.7L477 1553L477.3 1551.3L477.5 1549.6L477.8 1547.8L478 1546L478.2 1544.7L478.4 1543.4L478.5 1542L478.7 1540.6L478.9 1539.2L479.1 1537.8L479.2 1536.4L479.4 1535L479.6 1533.5L479.8 1532.1L479.9 1530.6L480.1 1529.1L480.3 1527.6L480.5 1526.1L480.6 1524.5L480.8 1523L481 1521.4L481.2 1519.9L481.3 1518.3L481.5 1516.7L481.7 1515.2L481.9 1513.6L482 1512L482.2 1510.4L482.4 1508.8L482.6 1507.2L482.7 1505.6L482.9 1504L483.1 1502.4L483.2 1500.8L483.4 1499.2L483.6 1497.6L483.7 1496L483.9 1494.4L484.1 1492.8L484.3 1491.2L484.4 1489.6L484.6 1488.1L484.7 1486.5L484.9 1485L485.1 1483.4L485.2 1481.9L485.4 1480.3L485.6 1478.8L485.7 1477.3L485.9 1475.8L486 1474.3L486.2 1472.9L486.3 1471.4L486.5 1470L486.7 1468.4L486.8 1466.8L487 1465.1L487.2 1463.5L487.4 1461.9L487.5 1460.3L487.7 1458.6L487.9 1457L488.1 1455.4L488.2 1453.8L488.4 1452.1L488.6 1450.5L488.7 1448.9L488.9 1447.3L489.1 1445.7L489.2 1444.1L489.4 1442.5L489.6 1440.9L489.7 1439.4L489.9 1437.8L490 1436.2L490.2 1434.7L490.4 1433.1L490.5 1431.6L490.7 1430L490.8 1428.5L491 1427L491.1 1425.5L491.3 1424L491.4 1422.6L491.6 1421.1L491.7 1419.6L491.9 1418.2L492 1416.8L492.2 1415.4L492.3 1414L492.5 1412.6L492.6 1411.2L492.7 1409.9L492.9 1408.5L493 1407.2L493.1 1405.9L493.3 1404.7L493.4 1403.4L493.6 1401.6L493.8 1399.8L493.9 1398.2L494.1 1396.7L494.2 1395.3L494.4 1393.9L494.5 1392.7L494.7 1391.4L494.8 1390.2L494.9 1389.1L495 1388L495.2 1386.8L495.3 1385.7L495.4 1384.6L495.5 1383.5L495.6 1382.3L495.8 1381.1L495.9 1379.9L496 1378.6L496.2 1377.2L496.3 1375.7L496.5 1374.2L496.6 1372.5L496.8 1370.8L497 1368.9L497.2 1366.9L497.4 1364.8L497.6 1362.5L497.8 1360L497.9 1358.9L498 1357.8L498.1 1356.7L498.2 1355.5L498.3 1354.3L498.4 1353.1L498.5 1351.9L498.6 1350.6L498.7 1349.3L498.8 1348L498.9 1346.7L499 1345.3L499.2 1343.9L499.3 1342.5L499.4 1341.1L499.5 1339.7L499.6 1338.3L499.7 1336.8L499.8 1335.3L500 1333.8L500.1 1332.3L500.2 1330.8L500.3 1329.3L500.4 1327.7L500.6 1326.1L500.7 1324.6L500.8 1323L500.9 1321.4L501.1 1319.8L501.2 1318.2L501.3 1316.6L501.4 1314.9L501.6 1313.3L501.7 1311.6L501.8 1310L502 1308.4L502.1 1306.7L502.2 1305L502.4 1303.4L502.5 1301.7L502.7 1300.1L502.8 1298.4L502.9 1296.7L503.1 1295.1L503.2 1293.4L503.4 1291.7L503.5 1290.1L503.6 1288.4L503.8 1286.8L503.9 1285.1L504.1 1283.5L504.2 1281.9L504.4 1280.2L504.5 1278.6L504.7 1277L504.8 1275.4L505 1273.8L505.1 1272.2L505.3 1270.7L505.5 1269.1L505.6 1267.6L505.8 1266L505.9 1264.5L506.1 1263L506.2 1261.5L506.4 1260L506.6 1258.6L506.7 1257.1L506.9 1255.7L507.1 1254.1L507.3 1252.5L507.5 1250.9L507.7 1249.4L507.9 1247.8L508 1246.2L508.2 1244.7L508.4 1243.1L508.6 1241.6L508.8 1240L509 1238.5L509.3 1237L509.5 1235.4L509.7 1233.9L509.9 1232.4L510.1 1230.9L510.3 1229.4L510.5 1227.9L510.7 1226.4L510.9 1224.9L511.2 1223.4L511.4 1221.9L511.6 1220.4L511.8 1218.9L512 1217.5L512.3 1216L512.5 1214.5L512.7 1213L512.9 1211.6L513.2 1210.1L513.4 1208.6L513.6 1207.2L513.8 1205.7L514.1 1204.3L514.3 1202.8L514.5 1201.3L514.8 1199.9L515 1198.4L515.2 1197L515.5 1195.5L515.7 1194.1L515.9 1192.6L516.2 1191.1L516.4 1189.7L516.6 1188.2L516.9 1186.8L517.1 1185.3L517.4 1183.9L517.6 1182.4L517.8 1180.9L518.1 1179.5L518.3 1178L518.6 1176.5L518.8 1175.1L519 1173.6L519.3 1172.1L519.5 1170.6L519.8 1169.2L520 1167.7L520.3 1166.2L520.5 1164.7L520.7 1163.2L521 1161.7L521.2 1160.2L521.5 1158.7L521.7 1157.2L522 1155.6L522.2 1154.1L522.5 1152.6L522.7 1151.1L523 1149.5L523.2 1148L523.5 1146.4L523.8 1144.9L524 1143.4L524.3 1141.8L524.5 1140.3L524.8 1138.7L525 1137.1L525.3 1135.6L525.6 1134L525.8 1132.5L526.1 1130.9L526.4 1129.4L526.6 1127.8L526.9 1126.3L527.2 1124.7L527.4 1123.2L527.7 1121.6L528 1120.1L528.2 1118.5L528.5 1117L528.8 1115.5L529 1113.9L529.3 1112.4L529.6 1110.9L529.8 1109.4L530.1 1107.9L530.4 1106.3L530.6 1104.8L530.9 1103.3L531.2 1101.8L531.4 1100.4L531.7 1098.9L532 1097.4L532.2 1095.9L532.5 1094.5L532.8 1093L533.1 1091.6L533.3 1090.2L533.6 1088.7L533.9 1087.3L534.1 1085.9L534.4 1084.5L534.7 1083.1L534.9 1081.7L535.2 1080.4L535.4 1079L535.7 1077.7L536 1076.3L536.2 1075L536.5 1073.7L536.8 1072L537.2 1070.3L537.5 1068.5L537.9 1066.8L538.2 1065.1L538.6 1063.4L538.9 1061.8L539.3 1060.1L539.6 1058.4L540 1056.8L540.3 1055.1L540.7 1053.5L541 1051.9L541.4 1050.3L541.7 1048.7L542.1 1047.1L542.5 1045.5L542.8 1043.9L543.2 1042.3L543.5 1040.8L543.9 1039.3L544.2 1037.7L544.6 1036.2L544.9 1034.7L545.3 1033.2L545.6 1031.8L546 1030.3L546.3 1028.9L546.6 1027.4L547 1026L547.3 1024.6L547.7 1023.2L548 1021.9L548.4 1020.5L548.7 1019.2L549.1 1017.8L549.4 1016.5L549.7 1015.2L550.1 1013.9L550.4 1012.7L550.7 1011.4L551.1 1010.2L551.4 1009L551.7 1007.8L552.1 1006.7L552.4 1005.5L553 1003.5L553.5 1001.6L554.1 999.8L554.6 998L555.1 996.3L555.7 994.7L556.2 993.1L556.7 991.6L557.2 990.1L557.7 988.7L558.2 987.3L558.7 986L559.2 984.6L559.7 983.3L560.2 982.1L560.7 981L561.3 979.8L561.8 978.5L562.4 977.2L562.9 975.8L563.5 974.3L564.1 972.7L564.7 971.1L565.4 969.7L566 968.7L566.7 967.9L567.5 967.1L568.2 966.2L569.1 965.4L569.9 964.6L570.7 962.8L571.6 960.8L572.5 958.9L573.4 956.9L574.3 954.9L575.2 953.3L576.2 952.6L577.1 952L578 951.4L579 950.8L579.9 950.2L580.9 947.8L581.9 946.3L582.8 944.8L583.8 943.3L584.7 941.8L585.6 940.8L586.6 940L587.5 939.2L588.4 938.5L589.5 937.6L590.7 936.4L591.8 934.8L592.9 933.3L594 931.8L595.1 930.4L596.2 929.8L597.3 929.2L598.4 928.6L599.5 928L600.6 927.6L601.7 925.9L602.9 924.3L604 922.6L605.2 921.1L606.3 920.9L607.5 920.7L608.8 920.5L610 920.2L611.1 918.6L612.3 916.9L613.5 915.2L614.6 913.4L615.8 912.7L617 912.4L618.3 912.1L619.5 911.8L620.7 910.6L622 908.9L623.2 907.1L624.5 905.4L625.7 904.5L627 904.3L628.3 904.1L629.6 904L630.8 902.7L632.1 901.3L633.4 899.9L634.7 898.7L636 898.3L637.4 898.3L638.9 898.4L640.4 898.4L641.9 897.1L643.5 895.8L645 894.5L646.5 895L648.1 895.6L649.6 896.2L651.2 895.4L652.7 894.3L654.3 893.3L655.8 893.3L657.3 893.7L658.7 893.7L660.2 893.3L661.6 893L663 893.5L664.3 893.7L666.1 892.2L667.8 890.2L669.5 891.1L671.2 892.3L672.9 892.2L674.5 890L676 887.9L677.6 889.5L679.1 891L680.6 891.1L682 889.1L683.4 887.3L684.7 887.1L686 888.3L687.9 890.2L689.8 887.9L691.6 885.1L693.2 886L694.8 887.9L696.2 888.4L697.6 886.4L698.9 885.4L700 885L701.2 882.3L702.2 880.6L702.9 879.4L703.5 878.6L704.1 878.5L704.7 879.8L705.5 878.8L706 878.4L706.4 878L706.8 877.9L707.3 878.1L707.7 878.4L708.2 878.8L708.7 879.3L709.1 882L709.7 885.3L710.2 888.7L710.8 892.1L711.4 895.5L712 898.8L712.6 901L713.3 901L714 901.1L714.8 901.1L715.5 901.2L716.3 901.6L717.1 905.6L717.9 909.5L718.8 913.2L719.6 916.7L720.4 917.2L721.2 916L722 914.3L722.8 912.2L723.2 910.8L723.7 909.1L724.1 908.7L724.6 908.5L725 908.1L725.4 907.6L725.9 906.9L726.3 906.1L726.8 905.2L727.2 904.2L727.7 901.5L728.1 898.7L728.6 895.9L729 893L729.5 890.3L729.9 887.5L730.3 884.9L730.8 882.4L731.2 880.1L731.6 879.1L732 878.5L732.4 878.1L732.8 877.9L733.2 878L733.6 878.3L734.1 879.2L734.6 880.5L735.1 881.7L735.6 882L736.1 882.6L736.6 883.5L737 884.6L737.5 885.9L737.9 887.2L738.4 888.6L738.8 890.2L739.2 893L739.7 895.8L740.1 898.3L740.6 900.7L741.1 902.7L741.5 904.5L742 905.9L742.8 907.7L743.7 905.1L744.5 901.9L745.3 898.2L746.1 894.2L746.9 893.6L747.8 894L748.8 894.6L749.9 895.8L751 892L752.3 888L753.8 883.5L755.3 886.1L757 889L758.7 886.5L760.4 881.7L762 880.7L763.5 884.2L764.8 887.7L766 887.1L766.7 885.2L767.3 883.9L767.9 883.1L768.3 882.6L768.8 882.6L769.1 885.4L769.5 888.2L769.8 891.1L770.2 894L770.5 897L770.8 900L771.2 903.1L771.6 906.4L772 909.8L772.3 912.3L772.6 912.7L772.9 913.5L773.3 914.4L773.6 915.4L773.9 916.5L774.3 917.6L774.6 918.7L774.9 919.8L775.3 920.9L775.6 921.9L775.9 922.9L776.3 923.9L776.6 926.5L777 928.9L777.3 931.1L777.7 933.1L778 934.9L778.3 936.4L778.7 937.6L779 938.4L779.3 938.8L779.5 939L779.8 939L780 938.7L780.3 936.8L780.6 934.8L780.8 932.6L781.1 930.3L781.4 927.8L781.6 925.3L781.9 922.7L782.2 920L782.4 917.3L782.7 914.5L783 911.8L783.2 909L783.5 906.2L783.7 903.5L784 902.3L784.3 901.1L784.5 900L784.8 899.1L785 898.2L785.3 897.4L785.5 896.8L785.8 896.4L786 896.1L787.2 897L788.3 895.1L789.5 893.7L790.6 890.4L792 885.9L792.2 885.4L792.3 884.8L792.5 884L792.7 883.2L792.8 882.2L793 881.2L793.2 880L793.4 878.7L793.6 877.4L793.8 875.9L793.9 874.4L794.1 872.8L794.3 871.1L794.5 869.3L794.7 867.5L794.9 865.6L795.1 863.1L795.3 860.8L795.5 858.5L795.7 856.2L795.9 854L796.1 851.8L796.3 849.6L796.5 847.4L796.7 845.3L796.9 843.3L797.1 841.3L797.3 839.4L797.5 837.5L797.7 835.7L797.9 834L798.1 832.4L798.3 830.8L798.5 829.2L798.7 827.8L798.9 826.4L799.1 825.2L799.3 824L799.5 822.9L799.7 822L799.8 821.2L800 820.5L800.2 819.9L800.4 819.5L800.5 819.2L800.7 819.1L800.9 819.1L801.1 819.2L801.2 819.4L801.4 819.7L801.6 820.1L801.7 820.5L801.9 821.1L802.1 821.7L802.2 822.5L802.4 823.3L802.6 824.2L802.7 825.2L802.9 826.2L803 827.3L803.2 828.5L803.3 829.8L803.5 831.1L803.6 832.5L803.8 833.9L803.9 835.4L804.1 837L804.2 838.8L804.4 840.6L804.5 842.5L804.7 844.4L804.8 846.4L805 848.5L805.1 850.5L805.3 852.7L805.4 854.8L805.6 857L805.7 859.3L805.8 861.5L806 863.8L806.1 866.1L806.3 868.5L806.4 870.8L806.6 873.2L806.7 875.6L806.9 878L807 880.3L807.2 882.7L807.3 884L807.4 885.2L807.4 886.5L807.5 887.9L807.6 889.3L807.7 890.7L807.7 892.2L807.8 893.8L807.9 895.3L808 897L808 898.3L808.1 899.9L808.2 901.5L808.2 903.2L808.3 904.8L808.4 906.6L808.5 908.3L808.5 910.1L808.6 911.9L808.7 913.7L808.8 915.5L808.8 917.4L808.9 919.2L809 921.1L809 923L809.1 925L809.2 926.9L809.3 928.8L809.3 930.8L809.4 932.8L809.5 934.7L809.5 936.7L809.6 938.7L809.7 940.7L809.8 942.6L809.8 944.6L809.9 946.6L810 948.6L810.1 950.5L810.1 952.5L810.2 954.5L810.3 956.4L810.3 958.3L810.4 960.2L810.5 962.1L810.6 964L810.6 965.9L810.7 967.7L810.8 969.5L810.9 971.3L810.9 973.1L811 974.9L811.1 976.6L811.2 978.3L811.2 979.9L811.3 981.5L811.4 983.1L811.5 984.7L811.5 986.2L811.6 987.7L811.7 989.1L811.8 990.5L811.9 991.9L811.9 993.2L812 994.5L812.1 995.8L812.2 997.1L812.3 998.3L812.3 999.5L812.4 1000.6L812.5 1001.6L812.6 1002.6L812.7 1003.6L812.8 1004.5L812.8 1005.3L812.9 1006.1L813 1006.7L813.1 1007.4L813.2 1007.9L813.3 1008.4L813.3 1008.9L813.4 1009.2L813.5 1009.5L813.6 1009.7L813.7 1009.8L813.8 1009.8L813.9 1009.8L814 1009.6L814.1 1009.3L814.2 1009L814.3 1008.5L814.4 1008L814.5 1007.3L814.6 1006.6L814.7 1005.8L814.8 1004.9L814.9 1004L815 1002.9L815.1 1001.8L815.2 1000.6L815.3 999.4L815.4 998.1L815.5 996.7L815.6 995.2L815.7 993.7L815.8 992.2L815.9 990.6L816 988.9L816.1 987.6L816.2 985.7L816.3 983.7L816.4 981.7L816.5 979.7L816.6 977.6L816.7 975.5L816.8 973.3L816.9 971.2L817 969L817.2 966.7L817.3 964.5L817.4 962.2L817.5 960L817.6 957.7L817.7 955.4L817.8 953.1L817.9 950.8L818 948.5L818.1 946.1L818.2 943.8L818.4 941.5L818.5 939.2L818.6 936.9L818.7 934.6L818.8 932.4L818.9 930.1L819 927.9L819.1 925.7L819.2 923.5L819.4 921.3L819.5 919.2L819.6 917.1L819.7 915L819.8 913L819.9 911L820 909.1L820.1 907.4L820.2 905.8L820.3 904.2L820.5 902.6L820.6 901.1L820.7 899.7L820.8 898.3L820.9 897L821 895.8L821.1 894.6L821.2 893.5L821.3 892.4L821.4 891.5L821.5 890.6L821.7 889.8L821.8 889.1L821.9 888.4L822 887.9L822.1 887.4L822.2 887L822.3 886.7L822.4 886.6L822.5 886.5L822.7 886.5L822.8 886.8L823 887.2L823.1 887.7L823.3 888.4L823.4 889.3L823.6 890.3L823.7 891.4L823.9 892.6L824 894.5L824.2 895.7L824.3 896.9L824.5 898.3L824.6 899.7L824.8 901.3L824.9 902.9L825.1 904.6L825.2 906.3L825.4 908.1L825.5 910L825.7 912L825.8 913.9L826 916L826.1 918L826.3 920.1L826.4 922.2L826.6 924.4L826.7 926.5L826.8 928.6L827 930.8L827.1 932.9L827.3 935L827.4 937.1L827.6 939.2L827.7 941.3L827.9 943.3L828 945.3L828.2 947.6L828.3 949.9L828.5 952.1L828.6 954.2L828.8 956.2L828.9 958.2L829.1 960L829.2 961.8L829.4 963.5L829.5 965.1L829.7 966.6L829.8 968L830 969.2L830.1 970.4L830.3 971.4L830.4 972.2L830.6 972.9L830.7 973.5L830.9 973.9L831 974.1L831.1 974.2L831.3 974.2L831.4 974L831.6 973.7L831.7 973.3L831.9 972.8L832 971.7L832.2 970.6L832.3 969.4L832.4 968.1L832.6 966.8L832.7 965.3L832.9 963.8L833 962.2L833.2 960.5L833.3 958.7L833.4 956.8L833.6 954.9L833.7 953L833.9 951L834 948.9L834.1 946.8L834.3 944.7L834.4 942.5L834.6 940.3L834.7 938L834.8 935.8L835 933.5L835.1 931.2L835.3 928.9L835.4 926.6L835.6 924.3L835.7 922L835.9 919.7L836 917.4L836.1 915.5L836.3 913.5L836.4 911.6L836.6 909.7L836.7 907.9L836.9 906.1L837 904.3L837.2 902.6L837.3 901L837.5 899.4L837.6 897.8L837.8 896.4L837.9 895L838.1 893.7L838.3 892.4L838.4 891.3L838.6 890.2L838.7 889.3L838.9 888.4L839 887.6L839.2 887L839.4 886.5L839.5 886L839.7 885.7L840.1 884.7L840.4 884.2L840.8 884.2L841.2 884.4L841.5 885L841.9 885.9L842.3 887.1L842.7 888.5L843.1 890.1L843.5 891.8L843.9 893.7L844.3 896.2L844.7 898.9L845.2 901.6L845.6 904.4L846 907.1L846.4 909.8L846.8 912.4L847.2 915L847.6 917.4L848 919.6L848.4 921.9L848.8 923L849.1 923.9L849.5 924.5L849.9 924.8L850.2 924.7L850.6 924.3L850.9 923.7L851.1 922.9L851.4 921.8L851.7 920.6L851.9 919.2L852.2 918.1L852.5 917L852.7 915.7L853 914.3L853.2 912.8L853.5 911.2L853.7 909.4L854 907.7L854.2 905.8L854.4 903.9L854.7 902L854.9 900.1L855.2 898.1L855.4 896.2L855.6 894.3L855.9 892.5L856.1 890.3L856.3 888.1L856.6 885.9L856.8 883.8L857 881.9L857.3 880L857.5 878.3L857.7 876.8L858 875.4L858.2 874.3L858.5 873.3L858.7 872.5L859 872L859.2 871.7L859.4 871.6L859.6 871.8L859.9 872.1L860.1 872.8L860.3 874L860.5 875.3L860.7 876.8L860.9 878.5L861.2 880.2L861.4 882.1L861.6 884.1L861.8 886.2L862 888.3L862.2 890.6L862.4 892.9L862.7 895.2L862.9 897.6L863.1 900L863.3 902.4L863.5 904.9L863.7 907.3L864 909.7L864.2 911.7L864.4 913.5L864.6 915.4L864.8 917.2L865.1 918.9L865.3 920.5L865.5 922L865.7 923.4L866 924.7L866.2 925.9L866.4 926.9L866.7 927.8L866.9 928.6L867.2 929.1L867.4 929.5L867.7 929.7L867.9 929.7L868.2 929.8L868.5 929.9L868.8 929.8L869.2 929.4L869.5 928.9L869.8 928.1L870.2 927.2L870.5 926.1L870.8 924.8L871.2 923.4L871.5 922L871.9 920.4L872.2 918.4L872.6 915.9L872.9 913.3L873.3 910.7L873.7 908.1L874 905.5L874.4 902.9L874.7 900.3L875.1 897.8L875.4 895.4L875.8 893L876.1 891L876.4 889.7L876.8 888.4L877.1 887.4L877.4 886.5L877.8 885.8L878.1 885.2L878.4 884.9L878.7 884.8L879.2 885.2L879.8 886.1L880.3 886.7L880.8 887.4L881.3 888.4L881.8 889.8L882.2 891.4L882.7 893.2L883.2 895L883.7 896.9L884.1 899L884.6 901.7L885 904.3L885.5 906.5L886 908.4L886.4 910L886.9 911L887.4 911.5L887.7 911.5L888.1 911.1L888.4 909.8L888.7 908.3L889 906.6L889.3 904.8L889.6 902.7L889.9 900.6L890.2 898.3L890.5 895.9L890.8 893.5L891.1 891L891.4 888.6L891.8 886.1L892.1 883.8L892.4 882.2L892.8 880.7L893.1 879.3L893.5 878L893.9 876.9L894.2 876.1L894.7 875.4L895.1 875.1L895.5 875L896 874.6L896.6 874.2L897.1 874.1L897.8 874.2L898.4 874.7L899.1 875.3L899.8 876.2L900.5 877.9L901.2 880.2L901.9 882.6L902.6 885.1L903.4 887.7L904.1 891L904.9 892L905.6 893.1L906.4 894.1L907.1 895L907.8 895.7L908.6 897.8L909.3 900L910 902L910.6 903.7L911.3 905.1L912.5 905.9L913.5 904.4L914.5 902.6L915.4 900.7L916.3 899.3L917.2 898.5L918.2 897.4L919.4 895.9L920.8 894.3L922.4 893.4L924.3 893.7L925.4 893.2L926.7 892.4L928 891.5L929.4 890.6L930.9 891.4L932.4 892.4L934 893.5L935.7 893.8L937.4 893L939.1 892.1L940.8 891.6L942.5 892.8L944.2 894.1L945.9 895.4L947.6 894.5L949.3 893.8L950.9 893.2L952.5 893.6L954 894.5L955.4 895.3L956.8 896.1L958.6 895.5L960.4 894.6L962.1 893.7L963.7 894.1L965.3 894.9L966.9 895.8L968.4 896L969.9 895.2L971.4 894.4L972.8 893.7L974.3 893.8L975.7 894.6L977.1 895.4L978.6 896.3L980 896.5L981.6 895.7L983.2 895L984.6 894.6L986.1 896.2L987.5 897.7L988.9 899.2L990.3 900L991.8 899.8L993.2 899.5L994.8 899.2L996.4 899.7L998.2 901L1000 902.2L1001.3 903L1002.6 902.3L1003.9 901.5L1005.3 900.7L1006.6 899.9L1008 900.9L1009.3 901.8L1010.8 902.7L1012.2 902.9L1013.7 902.1L1015.2 901.3L1016.8 900.5L1018.4 900.5L1020.1 901.2L1021.9 901.8L1023.7 902.3L1025.6 900.8L1027.6 899.3L1029.6 899.2L1030.8 899.9L1032.1 900.6L1033.4 901.3L1034.7 901.2L1036 900.1L1037.4 899L1038.8 897.8L1040.2 897.7L1041.7 898.5L1043.2 899.3L1044.7 900.1L1046.2 899.1L1047.7 898.1L1049.2 897.1L1050.8 896.3L1052.4 896.9L1053.9 897.5L1055.5 898.1L1057.1 897.6L1058.7 896.4L1060.3 895.3L1061.9 894.6L1063.5 895.2L1065.1 895.9L1066.7 896.5L1068.3 895.8L1069.9 894.4L1071.5 893.1L1073.1 892.5L1074.6 893.2L1076.2 894L1077.7 894.8L1079.2 893.8L1080.7 892.6L1082.1 891.3L1083.6 890.2L1085 890.8L1086.5 891.3L1088 891.9L1089.4 891.7L1090.9 890.5L1092.3 889.4L1093.8 888.3L1095.2 887.9L1096.7 888.3L1098.2 888.6L1099.6 889L1101.1 888L1102.5 887L1104 886L1105.5 885L1106.9 885.2L1108.4 885.4L1109.8 885.6L1111.3 885.6L1112.8 884.6L1114.2 883.5L1115.7 882.5L1117.1 882L1118.6 882.3L1120 882.6L1121.5 883L1123 882.7L1124.4 881.5L1125.9 880.3L1127.3 879.1L1128.8 879.5L1130.3 880.2L1131.8 880.8L1133.3 880.6L1134.8 879.7L1136.3 878.9L1137.8 878.1L1139.3 877.9L1140.8 878.3L1142.3 878.7L1143.8 879.1L1145.3 878.9L1146.8 877.6L1148.3 876.4L1149.8 875.7L1151.3 876.5L1152.8 877.4L1154.4 878.3L1155.9 877.5L1157.4 876.7L1158.9 875.9L1160.4 875.1L1161.9 875.4L1163.4 875.9L1164.9 876.4L1166.4 877.2L1167.9 876L1169.4 874.8L1170.9 873.6L1172.4 873.6L1173.9 874.5L1175.4 875.4L1176.9 876.2L1178.4 874.8L1179.9 873.9L1181.4 873.1L1182.9 872.6L1184.4 873.1L1185.9 873.6L1187.4 874.1L1188.9 874.3L1190.4 873L1191.9 871.8L1193.4 870.6L1194.9 871.4L1196.4 872.3L1197.9 873.2L1199.4 873.2L1200.9 872.1L1202.4 871.1L1204 870L1205.5 870.1L1207 870.8L1208.5 871.5L1210 872.3L1211.5 871.1L1213 870.1L1214.5 869.1L1216 868.6L1217.5 869.2L1219 869.8L1220.5 870.4L1222 869.9L1223.5 868.9L1225 867.8L1226.5 866.8L1228 867.3L1229.5 867.9L1231 868.4L1232.5 868.5L1234 867.3L1235.5 866.1L1237 864.9L1238.5 865L1240 865.5L1241.5 866.1L1243 866.5L1244.5 865.4L1246 864.2L1247.5 863L1249 862.4L1250.5 862.9L1252 863.4L1253.6 863.9L1255.1 863L1256.6 862L1258.1 860.9L1259.6 859.9L1261.1 860.3L1262.6 860.6L1264.1 860.9L1265.6 860.6L1267.1 859.6L1268.6 858.6L1270.1 857.7L1271.6 857.6L1273.1 857.9L1274.6 858.1L1276.1 858.7L1277.6 857.5L1279.1 856.4L1280.6 855.3L1282.1 854.8L1283.6 855.3L1285.1 855.8L1286.6 856.2L1288.1 855.8L1289.6 854.5L1291.1 853.1L1292.6 852L1294.1 852.7L1295.6 853.5L1297.1 854.2L1298.6 853.8L1300.1 852.6L1301.6 851.5L1303.2 850.3L1304.7 850.5L1306.2 851L1307.7 851.6L1309.2 851.3L1310.7 850.5L1312.2 849.6L1313.7 848.7L1315.2 848.3L1316.7 848.4L1318.2 848.6L1319.7 848.7L1321.2 848.5L1322.7 847.1L1324.2 845.7L1325.7 844.5L1327.2 845L1328.6 845.5L1330 846L1331.5 845.7L1332.9 844.4L1334.3 843L1335.7 841.6L1337.1 840.9L1338.5 841.3L1340 841.6L1341.4 841.9L1342.8 841.4L1344.2 839.8L1345.6 838.3L1347 836.7L1348.5 836.5L1349.9 836.8L1351.3 837.2L1352.7 837.6L1354.1 835.9L1355.5 834.8L1357 833.6L1358.4 832.4L1359.8 832.3L1361.2 832.2L1362.6 832.2L1364 832.7L1365.5 831.2L1366.9 829.8L1368.3 828.3L1369.7 827.1L1371.1 827.4L1372.5 827.7L1374 828.1L1375.4 827.3L1376.8 826.2L1378.2 825.2L1379.7 824.2L1381.1 823.5L1382.6 823.5L1384 823.4L1385.5 823.4L1387 823.1L1388.5 821.7L1389.9 820.2L1391.4 818.8L1392.9 819L1394.4 819.4L1395.9 819.7L1397.4 819.2L1398.9 818L1400.4 816.8L1401.9 815.6L1403.3 815.1L1404.8 815.3L1406.3 815.4L1407.7 815.5L1409.2 814.6L1410.6 813.5L1412 812.4L1413.4 811.4L1414.8 811.4L1416.2 811.5L1417.5 811.6L1418.8 811.8L1420.2 811.4L1421.4 810.1L1422.7 808.9L1424 807.7L1425.2 807.4L1426.4 807.9L1428.2 808.7L1430 808.7L1431.7 807.7L1433.4 806.9L1434.9 806.1L1436.5 806.1L1437.9 806.5L1439.4 806.9L1440.8 807.4L1442.2 807.2L1443.6 806.4L1445 805.6L1446.4 804.8L1447.7 805.3L1449.1 806L1450.6 806.6L1452 807.5L1453.5 806.3L1455.1 805L1456.6 804.1L1458.3 804L1460 803.9L1461.3 803.6L1462.6 803L1463.9 802L1465.3 800.9L1466.7 801L1468.1 801.3L1469.5 801.6L1471 800.6L1472.5 799.1L1474 797.6L1475.5 796.7L1477 796.9L1478.6 797.1L1480.1 798L1481.6 795.8L1483.2 793.7L1484.7 791.6L1486.2 791.6L1487.7 792.3L1489.1 793L1490.6 792L1492 790.4L1493.4 788.7L1494.8 787.1L1496.1 787.1L1497.4 787.3L1498.7 787.5L1499.9 787.7L1501.1 786.7L1502.2 785.2L1503.3 783.7L1505.2 781.5L1506.9 781.9L1508.4 782.3L1509.7 782.5L1511 780.5L1512.1 779.2L1513.1 777.9L1514.2 776.6L1515.2 775.5L1516.2 775.2L1517.3 775L1518.6 774.8L1519.9 774.7L1521.4 773.6L1523.1 771.8L1525 769.8L1526.2 770.1L1527.4 770.5L1528.7 771L1530.1 771.1L1531.6 769.9L1533.1 768.7L1534.6 767.5L1536.2 767.6L1537.9 768.1L1539.5 768.7L1541.2 768.3L1542.9 766.5L1544.6 764.8L1546.3 765.2L1548.1 766.2L1549.8 767.3L1551.5 765.6L1553.1 764.4L1554.8 763.2L1556.4 763.4L1558 763.8L1559.5 764.2L1560.9 764.4L1562.4 762.6L1563.7 760.9L1565 759.3L1566.2 760L1567.3 760.7L1568.3 761.3L1570.4 760.4L1572.2 758.3L1573.7 756.3L1574.9 754.4L1575.9 753.4L1576.7 752.4L1577.4 751.4L1578.1 750.6L1578.8 749.9L1579.5 749.4L1580.3 749.7L1581.3 748.5L1582.6 747.5L1583.8 747.1L1585.1 747.1L1586.3 749.4L1587.5 751.9L1588.8 754.3L1590.1 755.6L1591.4 756L1592.8 756L1594.3 755.4L1595.3 755L1596.3 755L1597.3 754.8L1598.2 754.5L1599.1 754L1600.1 753.7L1601.1 752L1602.2 750.2L1603.4 748.4L1604.7 746.4L1606.2 745.7L1607.8 745.5L1609.6 745.5L1611.7 743.9L1612.8 742.5L1613.9 741L1615.1 739.6L1616.3 740.2L1617.7 740.9L1619 741.6L1620.5 740.8L1622 739.5L1623.5 738.1L1625 736.8L1626.6 737.1L1628.2 737.4L1629.8 737.8L1631.4 736.6L1633.1 735.1L1634.7 733.7L1636.4 733.8L1638 734.1L1639.6 734.5L1641.2 733.9L1642.8 732.1L1644.3 730.3L1645.8 729.9L1647.3 730.6L1648.7 731.3L1650.1 731.4L1651.4 730.1L1652.7 728.8L1653.9 727.5L1655 726.3L1657 726.8L1658.8 727.3L1660.5 726.6L1662 725.2L1663.5 723.7L1664.9 722.4L1666.2 722.3L1667.5 722.2L1668.7 722.1L1669.8 722L1671 721.8L1672.1 720.1L1673.2 718.3L1674.3 716.6L1675.5 715.8L1676.7 716.4L1678.3 717.1L1679.9 717.7L1681.4 714.8L1683 712.9L1684.4 711L1685.9 710.1L1687.3 709.9L1688.7 709.9L1690.1 709.8L1691.4 708.8L1692.7 708.1L1694 707.8L1695 707.9L1696 709.4L1696.9 711.1L1697.8 713.1L1698.7 715.3L1699.6 717.7L1700.5 719.9L1701.3 721.3L1702.2 722.7L1703 723.8L1703.8 724.8L1704.6 725.5L1705.4 726.3L1706.2 727.3L1707 727.7L1707.6 727.6L1708.1 727.3L1708.7 726.7L1709.2 725.8L1709.8 724.8L1710.3 723.4L1710.9 721.3L1711.4 719L1711.9 716.7L1712.5 714.3L1713 711.9L1713.5 709.5L1714 707.1L1714.5 704.8L1715 702.7L1715.5 701.4L1716 700.3L1716.5 699.4L1717 698.7L1717.4 698.2L1717.9 698L1718.8 698.5L1719.7 700L1720.6 701.5L1721.4 702.9L1722.2 704.6L1723 706.3L1723.8 707.6L1724.7 708.5L1725.6 709.4L1726.5 709.8L1726.9 709.6L1727.4 709.1L1727.9 708.3L1728.3 707.3L1728.8 706.1L1729.3 704.7L1729.8 703.2L1730.3 700.3L1730.8 697.9L1731.3 695.5L1731.8 693L1732.3 690.6L1732.8 688.3L1733.3 686.1L1733.9 684L1734.4 682L1734.9 680.3L1735.4 679.2L1735.9 678.4L1736.4 678L1736.9 677.9L1737.4 678.1L1737.8 678.6L1738.2 679.4L1738.6 680.4L1739 681.7L1739.4 683.2L1739.8 684.8L1740.2 686.8L1740.6 688.3L1741 689.9L1741.4 691.7L1741.7 693.5L1742.1 695.4L1742.5 697.3L1742.9 699.2L1743.3 701.1L1743.7 703L1744.1 704.9L1744.5 706.6L1744.9 708.3L1745.3 710.2L1745.7 712.1L1746 713.9L1746.4 715.5L1746.8 716.8L1747.1 718L1747.5 718.9L1747.8 719.5L1748.2 719.8L1748.5 719.9L1748.9 719.6L1749.2 719.1L1749.5 718.4L1749.8 717.5L1750.1 715.8L1750.4 714.2L1750.7 712.4L1751 710.4L1751.3 708.4L1751.6 706.3L1751.8 704.1L1752.1 701.8L1752.4 699.5L1752.7 697.2L1753 694.9L1753.3 692.6L1753.5 690.4L1753.8 688.2L1754.1 686.1L1754.4 684.1L1754.7 682.2L1755 680.4L1755.3 679.1L1755.6 678L1755.9 677.1L1756.2 676.4L1756.6 675.9L1756.9 675.7L1757.4 675.8L1757.9 676.4L1758.4 677.3L1758.9 678.6L1759.4 680.1L1759.9 681.9L1760.4 684L1761 685.6L1761.5 687.3L1762 689.1L1762.6 690.9L1763.1 692.7L1763.6 694.5L1764.2 696.2L1764.7 697.8L1765.2 699.6L1765.7 701.6L1766.2 703.3L1766.7 704.7L1767.2 705.8L1767.7 706.5L1768.3 706.9L1769 706.7L1769.6 705.9L1770.2 704.8L1770.8 702.3L1771.3 699.6L1771.9 696.7L1772.5 693.9L1773 691.1L1773.6 688.4L1774.1 686.1L1774.7 684.1L1775.3 683L1775.8 683L1776.4 683.7L1776.7 684.5L1777.1 685.5L1777.4 686.7L1777.7 688.1L1778 689.7L1778.3 691.4L1778.6 693.3L1778.9 695.3L1779.2 697.4L1779.5 699.6L1779.8 701.9L1780.1 703.9L1780.4 705.7L1780.7 707.5L1781.1 709.3L1781.4 711L1781.7 712.7L1782 714.3L1782.4 715.8L1782.7 717.1L1783.1 718.3L1783.4 719.4L1783.8 720.3L1784.2 720.9L1784.6 721.4L1785 721.6L1785.8 722.8L1786.7 723.7L1787.6 724.2L1788.5 724.5L1789.5 724.5L1790.5 723.5L1791.5 721.2L1792.5 718.6L1793.5 715.9L1794.5 713L1795.4 710.9L1796.3 709.6L1797.2 708.3L1798 706.9L1798.4 706.1L1798.7 705.2L1799.1 704.1L1799.4 702.9L1799.7 701.6L1800 699.9L1800.4 697.8L1800.7 695.7L1800.9 693.5L1801.2 691.3L1801.5 689.1L1801.8 686.9L1802.1 684.6L1802.4 682.4L1802.6 680.2L1802.9 678.1L1803.2 676L1803.4 674L1803.7 672L1804 670.1L1804.3 668.4L1804.5 666.7L1804.8 665.2L1805.1 664L1805.4 663.3L1805.7 662.8L1806 662.4L1806.4 662.2L1806.7 662.3L1807.1 662.7L1807.5 663.5L1807.9 664.6L1808.3 665.9L1808.8 667.6L1809.2 669.5L1809.6 671.6L1810.1 673.9L1810.5 675.5L1811 677.2L1811.4 679L1811.9 680.8L1812.3 682.7L1812.8 684.5L1813.2 686.3L1813.7 688L1814.1 689.7L1814.6 691.1L1815 692.5L1815.4 694.4L1815.9 696.1L1816.3 697.5L1816.7 698.6L1817.1 699.4L1817.5 699.8L1817.8 699.9L1818.2 699.6L1818.5 699.2L1818.8 698.4L1819.1 697.5L1819.4 696.4L1819.7 695.1L1820.1 693.4L1820.4 691.3L1820.7 689.1L1821 686.8L1821.2 684.4L1821.5 682L1821.8 679.5L1822.1 677.1L1822.4 674.7L1822.7 672.3L1823 669.9L1823.3 667.6L1823.6 665.5L1823.9 663.4L1824.1 661.5L1824.4 659.7L1824.7 658.1L1825 656.7L1825.3 656L1825.6 655.5L1825.9 655.3L1826.2 655.4L1826.5 655.8L1826.8 656.5L1827.1 657.4L1827.4 658.6L1827.7 660.1L1828 661.7L1828.3 663.6L1828.6 665.6L1828.9 667.7L1829.2 670L1829.5 672.3L1829.8 674.7L1830.1 676.7L1830.4 678.7L1830.7 680.7L1831 682.7L1831.3 684.7L1831.6 686.5L1831.9 688.3L1832.3 690L1832.6 691.5L1832.9 692.8L1833.2 693.9L1833.5 694.9L1833.9 695.6L1834.2 696L1834.6 696.2L1834.9 696L1835.2 695.9L1835.5 695.7L1835.9 695.2L1836.2 694.6L1836.5 693.8L1836.9 692.7L1837.2 691.6L1837.6 690.3L1837.9 688.8L1838.3 687.3L1838.7 685.6L1839 683.9L1839.4 682.1L1839.8 680.3L1840.1 677.9L1840.5 675.6L1840.8 673.2L1841.2 670.9L1841.6 668.7L1841.9 666.4L1842.3 664.3L1842.7 662.2L1843 660.3L1843.4 658.4L1843.7 656.7L1844.1 655.2L1844.4 653.8L1844.7 652.6L1845.1 651.7L1845.4 651.3L1845.7 651.2L1846.1 651.3L1846.6 651.9L1847 652.9L1847.4 654.2L1847.8 655.8L1848.3 657.7L1848.7 659.8L1849.1 662L1849.5 664.4L1849.9 666.8L1850.2 669.6L1850.6 671.6L1851 673.5L1851.4 675.4L1851.8 677.2L1852.2 678.8L1852.5 680.3L1852.9 681.5L1853.3 682.4L1853.7 683L1854 683.3L1854.4 683.3L1854.8 682.9L1855.1 682.3L1855.4 681.7L1855.8 680.7L1856.1 679.5L1856.5 678.1L1856.8 676.4L1857.1 674.5L1857.4 672.5L1857.8 670.4L1858.1 668.2L1858.4 665.9L1858.7 663.7L1859 661.5L1859.4 659.4L1859.7 657.3L1860 655.4L1860.3 653.8L1860.7 652.4L1861 651.4L1861.3 650.6L1861.7 650.3L1862 650.3L1862.3 650.7L1862.6 651.5L1862.9 652.5L1863.1 653.4L1863.4 654.7L1863.7 656.1L1864 657.7L1864.3 659.5L1864.6 661.3L1864.8 663.2L1865.1 665.2L1865.4 667.2L1865.7 669.2L1866 671.3L1866.3 673.3L1866.6 675.2L1866.9 677.1L1867.2 678.9L1867.5 680.6L1867.8 682.5L1868.1 684.3L1868.4 685.9L1868.7 687.2L1869 688.4L1869.3 689.3L1869.7 689.9L1870 690.2L1870.3 690.2L1870.6 689.9L1870.9 689.4L1871.2 688.6L1871.6 687.7L1871.9 686.6L1872.2 685.6L1872.5 683.6L1872.9 681.5L1873.2 679.3L1873.5 677L1873.9 674.6L1874.2 672.2L1874.5 669.7L1874.9 667.2L1875.2 664.7L1875.6 662.2L1875.9 659.8L1876.2 657.4L1876.6 655.2L1876.9 653.6L1877.3 652.1L1877.6 650.7L1878 649.5L1878.3 648.4L1878.7 647.6L1879 646.9L1879.3 646.4L1879.7 646.1L1880 646.2L1880.4 646.5L1880.8 647.3L1881.2 648.5L1881.7 649L1882.1 649.8L1882.5 650.8L1882.9 652L1883.3 653.4L1883.8 654.9L1884.2 656.6L1884.6 658.3L1885 660L1885.4 661.8L1885.8 664.3L1886.2 667L1886.7 669.6L1887.1 672L1887.5 674.3L1887.9 676.4L1888.3 678.3L1888.8 679.9L1889.2 681.2L1889.6 682.2L1890 681.6L1890.4 681.1L1890.7 680.3L1891.1 679.2L1891.5 677.9L1891.9 676.3L1892.2 674.6L1892.6 672.7L1893 670.6L1893.3 668.4L1893.7 666.1L1894.1 663.8L1894.4 661.3L1894.8 659.3L1895.2 657.4L1895.6 655.4L1895.9 653.5L1896.3 651.7L1896.7 650L1897 648.4L1897.4 646.9L1897.8 645.5L1898.1 644.4L1898.5 643.4L1898.9 642.7L1899.3 642.6L1899.6 641.8L1900 641.3L1900.4 641.1L1900.7 641.3L1901.1 641.7L1901.4 642.4L1901.8 643.3L1902.1 644.4L1902.5 645.7L1902.8 647.2L1903.1 648.8L1903.5 650.5L1903.8 653L1904.2 655.6L1904.5 658.2L1904.9 660.8L1905.2 663.5L1905.6 666.1L1905.9 668.6L1906.3 671.1L1906.6 673.5L1907 675.7L1907.4 677.8L1907.7 679.8L1908.1 681L1908.5 681.8L1908.8 682.3L1909.2 682.6L1909.6 682.6L1910 682.2L1910.3 681.7L1910.6 680.9L1911 679.9L1911.3 678.7L1911.6 677.3L1912 675.7L1912.3 674L1912.7 672.4L1913 671L1913.4 669.5L1913.8 667.9L1914.1 666.2L1914.5 664.5L1914.8 662.7L1915.2 660.8L1915.6 658.9L1915.9 657L1916.3 655.1L1916.7 653.3L1917 651.5L1917.4 649.1L1917.7 646.6L1918.1 644.3L1918.5 642L1918.8 639.9L1919.1 637.8L1919.5 635.9L1919.8 634.2L1920.2 632.6L1920.5 631.2L1920.8 630L1921.1 628.9L1921.4 628.2L1921.7 628L1922 628.3L1922.2 628.7L1922.5 629.4L1922.7 630.2L1922.9 631.2L1923.2 632.4L1923.4 633.7L1923.6 635.1L1923.8 636.7L1924 638.4L1924.2 640.2L1924.4 642.2L1924.6 644.2L1924.8 646.3L1924.9 648.5L1925.1 650.7L1925.3 653L1925.5 655.3L1925.6 657.6L1925.8 660L1926 661.8L1926.2 663.9L1926.4 665.9L1926.5 668L1926.7 670L1926.9 672L1927.1 673.9L1927.2 675.7L1927.4 677.5L1927.6 679.2L1927.8 680.8L1928 682.2L1928.2 683.6L1928.4 684.8L1928.6 685.9L1928.8 686.8L1929.1 687.6L1929.3 688.2L1929.5 688.6L1929.8 688.8L1930 688.8L1930.3 688.5L1930.6 688.1L1930.8 687.8L1931.1 687.4L1931.5 686.7L1931.8 685.9L1932.1 684.9L1932.4 683.8L1932.7 682.5L1933.1 681.1L1933.4 679.6L1933.7 678L1934.1 676.3L1934.4 674.6L1934.8 672.7L1935.1 672L1935.5 669.3L1935.8 666.7L1936.2 664.1L1936.5 661.4L1936.9 658.8L1937.2 656.1L1937.6 653.6L1937.9 651L1938.3 648.6L1938.6 646.2L1938.9 643.9L1939.3 641.7L1939.6 639.9L1939.9 638.8L1940.2 637.8L1940.5 637L1940.9 636.3L1941.2 635.8L1941.4 635.4L1941.7 635.3L1942 635.3L1942.4 635.7L1942.7 636.4L1943 637.5L1943.4 638.8L1943.7 640.3L1944 642.1L1944.3 642.4L1944.5 644L1944.8 645.8L1945.1 647.6L1945.3 649.6L1945.6 651.7L1945.9 653.8L1946.1 656L1946.4 658.1L1946.7 660.2L1946.9 662.2L1947.2 664.1L1947.5 665.9L1947.7 667.5L1948 668.9L1948.3 670.2L1948.6 671.4L1949 672.6L1949.3 673.5L1949.6 674.1L1950 674.4L1950.3 674.4L1950.6 674.1L1950.9 673.7L1951.3 673L1951.6 672.2L1951.9 671.1L1952.3 670L1952.6 668.7L1953 667.3L1953.4 665.7L1953.7 663.4L1954.1 661L1954.5 658.5L1954.9 656L1955.2 653.4L1955.6 650.9L1956 648.3L1956.4 645.7L1956.8 643.1L1957.1 640.6L1957.5 638.2L1957.9 636.6L1958.3 635L1958.6 633.6L1959 632.3L1959.4 631L1959.7 630L1960.1 629L1960.4 628.3L1960.7 627.7L1961.1 627.3L1961.4 627.1L1961.7 627.1L1962 627L1962.3 627L1962.5 627.1L1962.8 627.5L1963 628.1L1963.3 628.9L1963.5 629.8L1963.7 630.9L1963.9 632.1L1964.1 633.5L1964.3 635L1964.5 636.6L1964.7 638.3L1964.9 640.1L1965.1 642L1965.3 643.9L1965.5 645.9L1965.7 647.9L1965.9 649.9L1966.1 651.9L1966.3 653.9L1966.5 655.9L1966.7 658.2L1966.9 660.5L1967.1 662.7L1967.3 664.8L1967.5 666.9L1967.7 668.9L1967.9 670.8L1968.1 672.5L1968.3 674.2L1968.5 675.7L1968.7 677L1969 678.2L1969.2 679.3L1969.5 680.1L1969.7 680.7L1970 681.1L1970.3 681.3L1970.6 681.3L1970.9 681L1971.2 679.5L1971.6 678.3L1971.9 676.9L1972.2 675.4L1972.6 673.6L1972.9 671.8L1973.3 669.8L1973.7 667.6L1974 665.4L1974.4 663.1L1974.8 660.7L1975.1 658.3L1975.5 655.9L1975.9 653.9L1976.3 651.8L1976.6 649.8L1977 647.9L1977.4 646L1977.8 644.1L1978.1 642.4L1978.5 640.7L1978.9 639.1L1979.2 637.7L1979.6 636.4L1980 635.2L1980.3 634.7L1980.7 633.3L1981 632.2L1981.3 631.3L1981.7 630.6L1982 630.3L1982.3 630.1L1982.6 630.2L1982.9 630.6L1983.2 631.1L1983.5 631.8L1983.8 632.6L1984 633.7L1984.3 634.8L1984.6 636.4L1984.9 638.4L1985.2 640.5L1985.5 642.7L1985.7 644.9L1986 647.3L1986.3 649.7L1986.6 652.1L1986.8 654.6L1987.1 657.1L1987.4 659.6L1987.7 662L1987.9 664.5L1988.2 666.9L1988.5 669.3L1988.7 671.6L1989 673.8L1989.2 674.9L1989.5 676.5L1989.8 678L1990 679.4L1990.3 680.6L1990.5 681.7L1990.8 682.6L1991 683.4L1991.3 684L1991.5 684.4L1991.8 684.5L1992 684.5L1992.2 684.2L1992.5 683.7L1992.7 683L1992.9 682.2L1993.2 681.1L1993.4 680L1993.6 678.8L1993.8 677.6L1994 676.3L1994.3 674.9L1994.5 673.3L1994.7 671.7L1994.9 670L1995.1 668.2L1995.3 666.4L1995.5 664.5L1995.7 662.5L1995.9 660.5L1996.1 658.6L1996.3 656.6L1996.5 654.6L1996.7 652.6L1996.9 650.7L1997.1 648.8L1997.3 646.9L1997.5 645.2L1997.7 643.4L1998 641.8L1998.2 639.9L1998.4 638.2L1998.6 636.6L1998.8 635.2L1999.1 633.8L1999.3 632.7L1999.5 631.7L1999.8 630.8L2000 630.2L2000.5 629.3L2001.1 629L2001.7 629.3L2002.3 630L2002.9 631.6L2003.5 633.9L2004.1 636.4L2004.7 639.1L2005.3 641.9L2005.9 644.7L2006.5 647.4L2007.1 649.8L2007.7 651.5L2008.3 652.8L2008.9 653.8L2009.5 654.4L2010 654.5L2010.6 654L2011.2 652.9L2011.8 651.7L2012.4 650.4L2012.9 648.8L2013.5 647L2014 645.2L2014.5 643.3L2015.1 641.5L2015.6 639.9L2016.2 638.6L2016.8 637L2017.4 635.8L2018 635.2L2018.5 635.2L2019.1 635.7L2019.7 636.7L2020.3 637.9L2020.9 640L2021.5 642.6L2022.1 645.3L2022.7 648.2L2023.3 650.9L2023.9 653.6L2024.5 656.2L2025.1 658.2L2025.7 659.3L2026.3 660.1L2026.9 660.5L2027.5 660.3L2028 659.5L2028.3 658.8L2028.5 657.9L2028.8 656.8L2029.1 655.6L2029.3 654.1L2029.6 652.6L2029.8 651.2L2030.1 649.6L2030.3 648L2030.5 646.2L2030.8 644.3L2031 642.4L2031.2 640.5L2031.5 638.4L2031.7 636.4L2031.9 634.4L2032.2 632.3L2032.4 630.3L2032.6 628.3L2032.9 626.4L2033.1 624.5L2033.3 622.7L2033.6 621L2033.8 619.5L2034 618.8L2034.3 617.1L2034.5 615.6L2034.8 614.2L2035 613L2035.2 612L2035.5 611.2L2035.7 610.6L2036 610.3L2036.2 610.2L2036.5 610.4L2036.7 610.7L2036.9 611.3L2037.2 612L2037.4 613L2037.7 614L2037.9 615.2L2038.2 616.6L2038.4 618.1L2038.7 620L2038.9 622.2L2039.2 624.5L2039.4 626.8L2039.7 629.2L2039.9 631.7L2040.2 634.2L2040.4 636.7L2040.7 639.2L2040.9 641.7L2041.2 644.1L2041.4 646.6L2041.7 648.9L2041.9 651.2L2042.2 653.5L2042.4 655.6L2042.7 657.7L2042.9 659.6L2043.2 660.8L2043.4 662L2043.6 663L2043.9 663.9L2044.1 664.6L2044.3 665L2044.6 665.3L2044.8 665.4L2045 665.2L2045.2 664.9L2045.4 664.3L2045.6 663.6L2045.8 662.6L2046 661.5L2046.1 660.3L2046.3 658.8L2046.5 657.3L2046.7 655.6L2046.9 653.8L2047 651.9L2047.2 649.9L2047.4 647.8L2047.6 645.8L2047.7 643.9L2047.9 642L2048.1 640L2048.2 637.9L2048.4 635.9L2048.6 633.8L2048.7 631.8L2048.9 629.7L2049.1 627.7L2049.2 625.7L2049.4 623.8L2049.6 621.9L2049.7 620.1L2049.9 618.3L2050.1 616.6L2050.2 615.1L2050.4 613.6L2050.6 612.3L2050.7 611.1L2050.9 610L2051.1 609.1L2051.3 608.3L2051.4 607.8L2051.6 607.4L2051.8 607.2L2052 608L2052.2 607.8L2052.4 607.8L2052.6 608L2052.8 608.4L2053 609L2053.3 609.7L2053.5 610.7L2053.7 611.7L2053.9 613L2054.1 614.3L2054.3 615.7L2054.6 617.3L2054.8 618.9L2055 620.6L2055.2 622.4L2055.4 624.2L2055.7 626.1L2055.9 628L2056.1 629.9L2056.3 631.8L2056.6 633.8L2056.8 636.3L2057 638.7L2057.2 641.1L2057.4 643.4L2057.7 645.6L2057.9 647.8L2058.1 649.8L2058.3 651.7L2058.5 653.5L2058.7 655.2L2059 656.7L2059.2 658.1L2059.4 659.3L2059.6 660.3L2059.8 661.1L2060 661.7L2060.3 662.1L2060.6 662.2L2060.8 661.9L2061.1 660.9L2061.4 659.3L2061.6 657.5L2061.9 655.4L2062.2 653.1L2062.4 650.7L2062.7 648.1L2063 645.4L2063.2 642.7L2063.5 640L2063.8 637.2L2064 634.5L2064.3 631.8L2064.5 629.2L2064.8 626.7L2065 624.4L2065.3 622.3L2065.5 620.5L2065.8 619.4L2066 618.7L2066.3 618.2L2066.5 618.1L2066.8 618.4L2067 619L2067.1 619.6L2067.3 620.4L2067.4 621.3L2067.6 622.4L2067.7 623.6L2067.8 625L2068 626.5L2068.1 628.1L2068.2 629.8L2068.4 631.6L2068.5 633.5L2068.6 635.6L2068.7 637.6L2068.9 639.8L2069 642L2069.1 644.3L2069.2 646.6L2069.4 649L2069.5 651.3L2069.6 653.8L2069.7 656.2L2069.9 658.6L2070 661.1L2070.1 663.2L2070.3 665.3L2070.4 667.3L2070.5 669.3L2070.6 671.2L2070.8 673.1L2070.9 675L2071 676.7L2071.1 678.4L2071.3 680L2071.4 681.5L2071.5 682.9L2071.6 684.2L2071.8 685.4L2071.9 686.4L2072 687.3L2072.2 688L2072.3 688.6L2072.4 689.1L2072.6 689.3L2072.7 689.4L2072.9 689.3L2073 689L2073.1 688.6L2073.2 688.2L2073.3 687.6L2073.4 686.9L2073.5 686.2L2073.7 685.3L2073.8 684.3L2073.9 683.3L2074 682.2L2074.1 681L2074.2 679.7L2074.3 678.4L2074.4 676.9L2074.5 675.6L2074.7 674.3L2074.8 673L2074.9 671.6L2075 670.2L2075.1 668.7L2075.2 667.2L2075.3 665.7L2075.5 664.1L2075.6 662.4L2075.7 660.7L2075.8 659L2075.9 657.3L2076 655.5L2076.1 653.7L2076.3 651.9L2076.4 650.1L2076.5 648.3L2076.6 646.5L2076.7 644.6L2076.8 642.8L2077 640.9L2077.1 639.1L2077.2 637.2L2077.3 635.4L2077.4 633.6L2077.6 631.8L2077.7 630L2077.8 628.3L2077.9 626.6L2078 624.9L2078.2 623.2L2078.3 621.6L2078.4 620L2078.5 618.4L2078.6 616.9L2078.8 615.5L2078.9 614.1L2079 611.5L2079.1 609.9L2079.3 608.4L2079.4 607L2079.5 605.6L2079.6 604.4L2079.8 603.2L2079.9 602L2080 601L2080.5 596.8L2081.1 593.1L2081.7 589.9L2082.2 587L2082.8 584.4L2083.4 582.2L2084 581.2L2084.6 580.5L2085.2 580.1L2085.8 580L2086.3 580.2L2086.9 580.5L2087.5 581L2088 582.1L2088.4 582.2L2088.7 582.6L2089.1 583.4L2089.5 584.4L2089.8 585.7L2090.2 587.1L2090.5 588.7L2090.9 590.5L2091.2 592.3L2091.6 594.1L2091.9 595.9L2092.2 597.7L2092.6 599.6L2092.9 601.8L2093.3 603.8L2093.6 605.7L2094 607.3L2094.3 608.6L2094.7 609.6L2095 610.2L2095.4 610.5L2095.8 610.1L2096.2 609.4L2096.6 608.2L2097.1 606.3L2097.5 603.8L2097.9 601.2L2098.3 598.5L2098.7 595.8L2099.1 593.2L2099.5 590.6L2099.9 588.4L2100.4 586.4L2100.8 584.7L2101.2 583.6L2101.6 583L2102 583.6L2102.2 584.2L2102.5 584.9L2102.7 585.8L2102.9 586.8L2103.2 587.9L2103.4 589.2L2103.6 590.5L2103.8 591.9L2104.1 593.4L2104.3 595.1L2104.5 596.7L2104.8 598.5L2105 600.3L2105.2 602.2L2105.4 604.1L2105.7 606.1L2105.9 608.1L2106.1 610.5L2106.4 612.1L2106.6 613.8L2106.8 615.4L2107.1 617L2107.3 618.7L2107.5 620.3L2107.8 621.9L2108 623.5L2108.3 625L2108.5 626.4L2108.8 627.9L2109 629.2L2109.2 630.5L2109.5 631.8L2109.7 633.2L2109.9 634.6L2110.2 636.1L2110.4 637.7L2110.6 639.5L2110.9 641.6L2111.1 643.7L2111.4 645.9L2111.6 648.1L2111.8 650.2L2112.1 652.4L2112.3 654.6L2112.6 656.7L2112.8 658.8L2113.1 660.9L2113.3 663L2113.6 665L2113.8 666.9L2114 668.8L2114.3 670.7L2114.5 672.4L2114.8 674.1L2115 675.7L2115.3 676.7L2115.5 677.5L2115.8 678.3L2116 678.9L2116.3 679.5L2116.5 679.9L2116.8 680.1L2117 680.3L2117.4 680.2L2117.8 679.7L2118.2 679L2118.6 678L2119 676.7L2119.4 675.2L2119.8 674.2L2120.2 673.1L2120.7 671.9L2121.1 670.5L2121.5 669L2121.9 667.4L2122.3 665.7L2122.7 664L2123.1 662.2L2123.5 660.4L2123.9 658.6L2124.2 656.6L2124.6 654L2125 651.5L2125.2 650L2125.5 648.4L2125.7 646.8L2125.9 645.2L2126.1 643.5L2126.3 641.8L2126.6 640L2126.8 638.3L2127 636.5L2127.2 634.6L2127.4 632.8L2127.6 630.9L2127.8 629L2128 627.1L2128.2 625.2L2128.5 623.3L2128.7 621.8L2128.9 620.4L2129.1 619L2129.3 617.6L2129.5 616.2L2129.7 614.8L2129.9 613.5L2130.1 612.1L2130.3 610.8L2130.5 609.5L2130.7 608.3L2130.9 607L2131.2 605.8L2131.4 604.7L2131.6 603.6L2131.8 602.5L2132 601.5L2132.3 599.9L2132.7 598.2L2133 596.3L2133.3 593.7L2133.7 591.1L2134 588.5L2134.3 585.9L2134.7 583.4L2135 580.9L2135.3 578.5L2135.7 576.2L2136 574.1L2136.3 572L2136.7 570.2L2137 568.5L2137.3 567.1L2137.7 566.3L2138 566L2138.3 566.1L2138.7 566.5L2139 567.2L2139.2 567.8L2139.4 568.7L2139.6 569.8L2139.8 571L2140 572.5L2140.2 574.1L2140.5 575.9L2140.7 577.9L2140.9 579.9L2141.1 582.1L2141.3 584.3L2141.5 586.6L2141.7 589L2141.9 591.5L2142.1 592.9L2142.4 595L2142.6 597.1L2142.8 599.2L2143 601.2L2143.2 603.2L2143.4 605.2L2143.6 607L2143.8 608.8L2144 610.5L2144.2 612.1L2144.4 613.6L2144.6 614.9L2144.8 616L2145 617L2145.2 617.7L2145.4 618.3L2145.6 618.6L2145.8 618.8L2146 618.6L2146.2 618.3L2146.3 617.8L2146.5 617.2L2146.7 616.7L2146.8 616.1L2147 615.3L2147.1 614.4L2147.3 613.4L2147.5 612.3L2147.6 611.1L2147.8 609.8L2148 608.4L2148.1 606.9L2148.3 605.3L2148.5 603.7L2148.6 602L2148.8 600.3L2148.9 598.5L2149.1 596.7L2149.2 594.9L2149.4 593L2149.6 591.2L2149.7 589.3L2149.9 587.4L2150 585.5L2150.2 583.6L2150.3 581.7L2150.5 579.8L2150.6 578L2150.7 576.2L2150.9 574.4L2151 572.9L2151.1 571.1L2151.3 569.3L2151.4 567.6L2151.5 566.1L2151.6 564.6L2151.8 563.2L2151.9 561.9L2152 560.8L2152.3 557.6L2152.7 554.8L2153 552.4L2153.2 550.2L2153.5 548.4L2153.8 546.8L2154 545.4L2154.2 544.2L2154.4 543.1L2154.6 542.1L2154.7 541.3L2154.9 540.5L2155 539.7" stroke="#e0261f" stroke-width="5.8"/>
<path d="M330 1739L330.8 1739L331.7 1739L332.7 1739L333.8 1739L335 1739L336.3 1739L337.7 1739L339.1 1738.9L340.5 1738.9L342.1 1738.9L343.7 1738.9L345.3 1738.9L347 1738.9L348.7 1738.9L350.4 1738.9L352.2 1738.9L354 1738.9L355.7 1738.9L357.5 1738.8L359.3 1738.8L361.1 1738.8L362.9 1738.8L364.6 1738.8L366.4 1738.8L368.1 1738.7L369.8 1738.7L371.4 1738.7L373 1738.7L374.5 1738.6L376 1738.6L377.4 1738.6L378.7 1738.5L380 1738.5L382 1738.4L383.9 1738.3L385.8 1738.3L387.6 1738.1L389.3 1738L391 1737.9L392.7 1737.8L394.2 1737.7L395.8 1737.5L397.3 1737.4L398.8 1737.3L400.2 1737.2L401.6 1737L403 1736.9L404.4 1736.8L405.7 1736.7L407.1 1736.7L408.4 1736.6L409.7 1736.5L411 1736.5L412.8 1736.5L414.6 1736.5L416.3 1736.5L418 1736.6L419.6 1736.7L421.2 1736.8L422.8 1736.9L424.2 1737L425.6 1737.1L427 1737.2L428.3 1737.3L429.6 1737.4L430.8 1737.5L432 1737.5L434.1 1737.5L436 1737.6L437.6 1737.6L439 1737.5L440.4 1737.4L441.7 1737.3L443 1737L444.8 1736.5L446.5 1736L448 1735.3L449.5 1734.3L451 1733L451.9 1732L452.8 1730.8L453.7 1729.5L454.6 1728.1L455.5 1726.6L456.3 1725.1L457.2 1723.5L458 1722L458.7 1720.7L459.5 1719.4L460.2 1718L460.9 1716.7L461.6 1715.3L462.3 1713.9L463 1712.3L463.6 1710.7L464.3 1709L464.8 1707.8L465.2 1706.5L465.7 1705.2L466.1 1703.8L466.5 1702.4L467 1701L467.4 1699.6L467.8 1698.1L468.2 1696.6L468.7 1695L469.1 1693.4L469.6 1691.7L470 1690L470.3 1688.7L470.7 1687.3L471 1686L471.4 1684.6L471.7 1683.2L472.1 1681.8L472.4 1680.3L472.7 1678.9L473.1 1677.4L473.4 1675.8L473.8 1674.3L474.2 1672.7L474.5 1671L474.9 1669.3L475.2 1667.6L475.6 1665.8L476 1664L476.3 1662.7L476.5 1661.4L476.8 1660.1L477.1 1658.7L477.4 1657.3L477.6 1655.8L477.9 1654.4L478.2 1652.9L478.5 1651.4L478.8 1649.9L479.1 1648.4L479.4 1646.8L479.6 1645.3L479.9 1643.7L480.2 1642.2L480.5 1640.6L480.8 1639.1L481.1 1637.5L481.4 1636L481.6 1634.4L481.9 1632.9L482.2 1631.4L482.5 1629.9L482.7 1628.5L483 1627L483.3 1625.4L483.6 1623.9L483.8 1622.3L484.1 1620.8L484.4 1619.2L484.6 1617.7L484.9 1616.1L485.1 1614.6L485.4 1613L485.6 1611.5L485.9 1610L486.2 1608.4L486.4 1606.9L486.7 1605.4L486.9 1603.9L487.2 1602.4L487.4 1600.9L487.7 1599.4L487.9 1597.9L488.2 1596.4L488.5 1594.9L488.7 1593.5L489 1592L489.3 1590.4L489.6 1588.9L489.9 1587.4L490.2 1586L490.5 1584.6L490.8 1583.2L491.2 1581.9L491.5 1580.5L491.8 1579.1L492.1 1577.8L492.4 1576.4L492.8 1575L493.1 1573.5L493.4 1572L493.7 1570.5L494 1568.9L494.3 1567.3L494.7 1565.6L495 1563.8L495.3 1562L495.6 1560L495.8 1558.8L496 1557.5L496.2 1556.2L496.4 1554.9L496.6 1553.6L496.7 1552.2L496.9 1550.9L497.1 1549.5L497.3 1548.1L497.5 1546.7L497.7 1545.2L497.9 1543.8L498.1 1542.3L498.2 1540.8L498.4 1539.3L498.6 1537.8L498.8 1536.2L499 1534.7L499.2 1533.1L499.4 1531.5L499.5 1530L499.7 1528.3L499.9 1526.7L500.1 1525.1L500.3 1523.4L500.5 1521.8L500.7 1520.1L500.9 1518.4L501 1516.7L501.2 1515L501.4 1513.2L501.6 1511.5L501.8 1509.8L502 1508L502.1 1506.7L502.3 1505.3L502.4 1503.9L502.6 1502.5L502.7 1501.1L502.9 1499.7L503 1498.2L503.2 1496.8L503.3 1495.3L503.5 1493.8L503.6 1492.3L503.8 1490.8L503.9 1489.3L504 1487.8L504.2 1486.2L504.3 1484.7L504.5 1483.1L504.6 1481.6L504.8 1480L504.9 1478.4L505.1 1476.9L505.2 1475.3L505.4 1473.7L505.5 1472.1L505.7 1470.6L505.8 1469L506 1467.4L506.1 1465.8L506.3 1464.2L506.4 1462.7L506.6 1461.1L506.7 1459.5L506.9 1458L507 1456.4L507.1 1454.9L507.3 1453.3L507.4 1451.8L507.6 1450.3L507.7 1448.8L507.9 1447.3L508 1445.8L508.2 1444.3L508.3 1442.9L508.5 1441.4L508.6 1440L508.8 1438.4L508.9 1436.9L509.1 1435.4L509.2 1434L509.4 1432.6L509.5 1431.2L509.6 1429.8L509.8 1428.5L509.9 1427.2L510.1 1425.9L510.2 1424.7L510.3 1423.4L510.4 1422.2L510.6 1421L510.7 1419.7L510.8 1418.5L511 1417.3L511.1 1416L511.2 1414.8L511.4 1413.5L511.5 1412.2L511.7 1410.9L511.8 1409.6L511.9 1408.2L512.1 1406.9L512.2 1405.4L512.4 1404L512.6 1402.5L512.7 1400.9L512.9 1399.3L513.1 1397.7L513.2 1396L513.4 1394.2L513.6 1392.4L513.8 1390.5L514 1388.6L514.2 1386.5L514.4 1384.4L514.7 1382.3L514.9 1380L515 1378.9L515.1 1377.7L515.2 1376.6L515.4 1375.4L515.5 1374.1L515.6 1372.9L515.7 1371.6L515.8 1370.3L516 1369L516.1 1367.7L516.2 1366.3L516.3 1364.9L516.5 1363.5L516.6 1362.1L516.7 1360.7L516.8 1359.2L517 1357.8L517.1 1356.3L517.2 1354.8L517.4 1353.3L517.5 1351.8L517.6 1350.2L517.8 1348.7L517.9 1347.1L518 1345.5L518.2 1343.9L518.3 1342.3L518.4 1340.7L518.6 1339.1L518.7 1337.5L518.9 1335.8L519 1334.2L519.2 1332.6L519.3 1330.9L519.4 1329.2L519.6 1327.6L519.7 1325.9L519.9 1324.2L520 1322.6L520.2 1320.9L520.3 1319.2L520.5 1317.5L520.6 1315.9L520.8 1314.2L520.9 1312.5L521.1 1310.8L521.3 1309.1L521.4 1307.5L521.6 1305.8L521.7 1304.1L521.9 1302.5L522 1300.8L522.2 1299.2L522.4 1297.5L522.5 1295.9L522.7 1294.3L522.9 1292.7L523 1291.1L523.2 1289.5L523.4 1287.9L523.5 1286.3L523.7 1284.7L523.9 1283.2L524 1281.6L524.2 1280.1L524.4 1278.6L524.5 1277.1L524.7 1275.6L524.9 1274.2L525.1 1272.7L525.2 1271.3L525.4 1269.9L525.6 1268.5L525.8 1267.1L525.9 1265.7L526.1 1264.4L526.3 1263.1L526.5 1261.8L526.7 1260.5L526.8 1259.3L527 1258.1L527.2 1256.9L527.4 1255.7L527.7 1253.7L528.1 1251.7L528.4 1249.7L528.8 1247.8L529.1 1245.9L529.5 1244.1L529.8 1242.3L530.2 1240.5L530.6 1238.8L530.9 1237.1L531.3 1235.4L531.7 1233.7L532.1 1232.1L532.5 1230.5L532.9 1229L533.3 1227.4L533.7 1225.9L534.1 1224.4L534.5 1223L534.9 1221.5L535.3 1220.1L535.7 1218.7L536.1 1217.3L536.5 1215.9L536.9 1214.6L537.3 1213.3L537.7 1211.9L538.1 1210.6L538.5 1209.4L538.9 1208.1L539.4 1206.8L539.8 1205.6L540.2 1204.3L540.6 1203.1L541 1201.9L541.4 1200.6L541.8 1199.4L542.2 1198.2L542.6 1197L543 1195.8L543.3 1194.6L543.7 1193.4L544.1 1192.2L544.5 1191L544.9 1189.8L545.2 1188.6L545.6 1187.4L546.1 1185.6L546.7 1183.9L547.2 1182.2L547.7 1180.6L548.2 1178.9L548.8 1177.3L549.3 1175.7L549.8 1174.2L550.3 1172.6L550.8 1171.1L551.3 1169.7L551.8 1168.2L552.3 1166.8L552.8 1165.3L553.3 1164L553.8 1162.6L554.3 1161.2L554.8 1159.9L555.3 1158.5L555.8 1157.2L556.3 1155.9L556.8 1154.6L557.3 1153.3L557.7 1152L558.2 1150.8L558.7 1149.5L559.2 1148.2L559.6 1147L560.1 1145.7L560.6 1144.5L561 1143.2L561.5 1142L562.1 1140.4L562.7 1138.7L563.3 1137.2L563.8 1135.6L564.4 1134.1L564.9 1132.6L565.5 1131.1L566 1129.6L566.5 1128.2L567.1 1126.7L567.6 1125.3L568.1 1123.9L568.6 1122.5L569.2 1121.2L569.7 1119.8L570.2 1118.5L570.8 1117.1L571.3 1115.8L571.9 1114.4L572.5 1113.1L573.1 1111.8L573.7 1110.5L574.3 1109.1L575 1107.8L575.7 1106.4L576.4 1105L577.2 1103.6L577.9 1102.2L578.7 1100.8L579.5 1099.4L580.3 1098L581.1 1096.5L581.9 1095.1L582.8 1093.9L583.6 1092.8L584.4 1091.9L585.3 1091.2L586.1 1089.5L586.9 1087.6L587.8 1085.7L588.6 1083.9L589.4 1082L590.2 1081.3L591 1080.7L591.8 1080.2L592.5 1079.6L593.3 1079.1L594.4 1077.7L595.4 1075.6L596.4 1073.6L597.4 1071.6L598.4 1069.6L599.4 1069L600.4 1068.4L601.4 1067.8L602.4 1067.3L603.4 1066.7L604.3 1064.9L605.3 1063.2L606.3 1061.6L607.2 1060L608.2 1059.6L609.2 1059.6L610.8 1059.9L612.4 1059.8L614.1 1058.1L615.7 1056.6L617.4 1056.6L619 1057.7L620.6 1058.7L622.1 1057.5L623.6 1056.2L625 1054.7L626 1053.8L627 1053.1L627.9 1052.3L628.8 1051.3L629.6 1050.2L630.5 1048.6L631.3 1046.7L632.1 1044.8L633 1043.1L633.8 1041.4L634.7 1040.1L635.6 1039.7L636.5 1039.5L637.9 1039.7L639.2 1041.2L640.6 1040.4L642 1040L643.4 1039.6L644.9 1041.7L646.5 1043.9L648.2 1045L650 1044.1L651.3 1043.4L652.7 1042.6L654.1 1043.2L655.5 1043.8L657 1044.3L658.5 1043.1L660 1041.8L661.6 1040.6L663.2 1041.1L664.9 1041.7L666.5 1042.3L668.3 1040.3L670 1038.3L671.4 1038.5L672.8 1039.6L674.3 1040.9L675.9 1040L677.5 1038.7L679.1 1037.3L680.7 1037.7L682.4 1038.6L684 1039.9L685.6 1038.3L687.2 1036.7L688.8 1035.7L690.3 1036.9L691.8 1038.1L693.2 1038.5L694.5 1037.5L695.7 1036.8L697.8 1036.6L699.6 1037.3L701.3 1036.8L702.8 1037.7L704.2 1039.9L705.6 1040.4L707 1039.1L708.4 1037.7L710 1039.2L711.4 1041.3L712.8 1043.6L714.1 1041.4L715.5 1039.2L716.8 1039.1L718.3 1042.1L719.8 1045.2L721.4 1043.4L723.1 1039.5L725 1040.8L726.3 1043.6L727.7 1045L729.1 1042.2L730.7 1039.3L732.3 1039.9L733.9 1042.6L735.6 1043.6L737.2 1039.9L738.9 1036.8L740.6 1039.9L742.3 1042.9L743.9 1040.1L745.5 1036.6L747 1036L748.4 1038.3L749.8 1040.5L751.3 1037L752.8 1034.2L754.2 1032.1L755.6 1032.2L757 1032.1L758.3 1030.9L759.6 1026.6L760.9 1022.5L762.1 1022.2L763.2 1023.7L764.3 1025.5L765.4 1025.7L766.4 1024.5L767.3 1024L767.6 1024.1L767.9 1024.3L768.2 1024.8L768.5 1025.4L768.8 1026.3L769 1028.2L769.3 1030.1L769.5 1032.2L769.8 1034.3L770 1036.6L770.2 1038.8L770.4 1041.1L770.6 1043.5L770.8 1045.9L771 1048.3L771.2 1050.7L771.3 1053.2L771.5 1055.6L771.7 1058L771.8 1060.4L772 1062.8L772.2 1065.1L772.3 1067.4L772.5 1069.6L772.6 1070.6L772.8 1072.2L772.9 1073.7L773.1 1075.1L773.2 1076.4L773.4 1077.5L773.6 1078.6L773.7 1079.5L773.9 1080.2L774.1 1080.8L774.2 1081.2L774.4 1081.5L774.6 1081.5L774.8 1081.4L775 1081L775.2 1080.4L775.4 1079.6L775.6 1078.5L775.8 1077.3L776 1076L776.2 1074.4L776.4 1073.2L776.6 1072L776.8 1070.6L777 1069.1L777.2 1067.5L777.4 1065.9L777.6 1064.1L777.8 1062.3L778 1060.5L778.1 1058.6L778.3 1056.7L778.5 1054.8L778.7 1052.9L778.9 1051L779.1 1049.1L779.3 1047.3L779.5 1045.5L779.8 1043.8L780 1042.2L780.2 1039.6L780.4 1037.6L780.6 1035.7L780.8 1034L781 1032.4L781.3 1031L781.5 1029.7L781.7 1028.6L782 1027.7L782.2 1026.9L782.6 1026.2L783.1 1026.2L783.5 1026.7L784 1028.2L784.5 1030.7L784.9 1033.5L785.4 1036.6L785.9 1039.9L786.4 1043.3L786.9 1046.8L787.4 1050.2L788 1054.1L788.5 1055.5L789 1056.7L789.4 1057.5L789.9 1057.9L790.4 1057.8L790.9 1057.1L791.3 1056.1L791.8 1056.1L792.2 1055.2L792.3 1054.8L792.4 1054.4L792.5 1053.8L792.6 1053.1L792.7 1052.4L792.8 1051.5L792.9 1050.6L793 1049.6L793.1 1048.5L793.2 1047.3L793.3 1046.1L793.4 1044.7L793.5 1043.4L793.6 1041.9L793.7 1040.4L793.7 1038.8L793.8 1037.1L793.9 1035.4L794 1033.7L794.1 1031.9L794.2 1030L794.3 1028.1L794.4 1026.2L794.5 1024.2L794.5 1022.1L794.6 1020.1L794.7 1018L794.8 1015.9L794.9 1013.7L795 1011.5L795 1008.8L795.1 1006.4L795.2 1004L795.3 1001.7L795.4 999.3L795.5 996.9L795.5 994.5L795.6 992.2L795.7 989.8L795.8 987.4L795.9 985.1L796 982.8L796 980.4L796.1 978.2L796.2 975.9L796.3 973.6L796.4 971.4L796.4 969.2L796.5 967.1L796.6 964.9L796.7 962.8L796.8 960.8L796.9 958.8L796.9 956.8L797 954.9L797.1 953L797.2 951.2L797.3 949.5L797.4 947.8L797.5 946.1L797.5 944.5L797.6 943L797.7 941.6L797.8 940.2L797.9 938.9L798 937.7L798.1 936.5L798.2 935.4L798.2 934.3L798.3 933.4L798.4 932.5L798.5 931.8L798.6 931.1L798.7 930.5L798.8 930L798.9 929.5L799 929.2L799.1 929L799.2 928.9L799.3 928.9L799.4 929L799.5 929.2L799.6 929.6L799.7 930L799.8 930.3L799.8 930.7L799.9 931.1L799.9 931.6L800 932.1L800.1 932.7L800.1 933.3L800.2 934L800.3 934.7L800.3 935.5L800.4 936.3L800.4 937.1L800.5 938L800.6 939L800.6 939.9L800.7 940.9L800.8 942L800.8 943L800.9 944.1L801 945.3L801 946.5L801.1 947.7L801.1 948.9L801.2 950.2L801.3 951.5L801.3 952.9L801.4 954.3L801.5 955.7L801.5 957.1L801.6 958.6L801.7 960.1L801.7 961.6L801.8 963.1L801.9 964.7L801.9 966.3L802 967.9L802.1 969.5L802.1 971.2L802.2 972.9L802.3 974.6L802.3 976.3L802.4 978.1L802.5 979.8L802.5 981.6L802.6 983.4L802.7 985.2L802.7 987.1L802.8 988.9L802.9 990.8L802.9 992.7L803 994.6L803.1 996.5L803.1 998.4L803.2 1000.3L803.3 1002.2L803.3 1004.2L803.4 1006.1L803.5 1008.1L803.5 1010.1L803.6 1012.1L803.7 1014L803.8 1016L803.8 1018L803.9 1020L804 1022L804 1024.1L804.1 1026.2L804.2 1028.3L804.2 1030.4L804.3 1032.5L804.4 1034.6L804.4 1036.8L804.5 1038.9L804.6 1041L804.7 1043.1L804.7 1045.3L804.8 1047.4L804.9 1049.5L804.9 1051.6L805 1053.7L805.1 1055.8L805.2 1058L805.2 1060.1L805.3 1062.1L805.4 1064.2L805.4 1066.3L805.5 1068.4L805.6 1070.4L805.7 1072.5L805.7 1074.5L805.8 1076.5L805.9 1078.6L806 1080.6L806 1082.5L806.1 1084.5L806.2 1086.5L806.2 1088.4L806.3 1090.3L806.4 1092.2L806.5 1094.1L806.5 1096L806.6 1097.8L806.7 1099.6L806.8 1101.4L806.8 1103.2L806.9 1105L807 1106.7L807.1 1108.4L807.1 1110.1L807.2 1111.7L807.3 1113.3L807.4 1114.9L807.4 1116.5L807.5 1118L807.6 1119.5L807.7 1121L807.7 1122.4L807.8 1123.8L807.9 1125.2L808 1126.6L808 1128L808.1 1129.1L808.2 1130.2L808.3 1131.2L808.4 1132.2L808.4 1133.1L808.5 1134L808.6 1134.9L808.7 1135.8L808.7 1136.6L808.8 1137.3L808.9 1138L809 1138.7L809 1139.3L809.1 1139.9L809.2 1140.4L809.3 1140.9L809.4 1141.3L809.4 1141.7L809.5 1142.1L809.6 1142.4L809.8 1142.8L809.9 1143.1L810.1 1143.2L810.2 1143.2L810.4 1143L810.5 1142.7L810.7 1142.3L810.9 1141.7L811 1141L811.2 1140.2L811.4 1139.2L811.5 1138.1L811.7 1137L811.9 1135.7L812.1 1134.4L812.2 1133.3L812.4 1132.2L812.6 1130.9L812.8 1129.5L812.9 1128.1L813.1 1126.6L813.3 1125L813.5 1123.3L813.7 1121.6L813.8 1119.8L814 1118L814.2 1116.1L814.4 1114.1L814.6 1112.2L814.8 1110.1L814.9 1108.1L815.1 1106L815.3 1103.8L815.5 1101.7L815.7 1099.5L815.9 1097.3L816 1094.8L816.2 1092.2L816.4 1089.6L816.6 1087L816.8 1084.4L816.9 1081.8L817.1 1079.2L817.3 1076.6L817.5 1074L817.7 1071.5L817.8 1069L818 1066.5L818.2 1064.1L818.4 1061.7L818.5 1059.4L818.7 1057.1L818.9 1054.9L819.1 1052.7L819.2 1050.6L819.4 1048.5L819.6 1046.6L819.7 1044.7L819.9 1042.9L820 1041.2L820.2 1039.9L820.4 1038.7L820.5 1037.6L820.7 1036.5L820.8 1035.6L821 1034.8L821.1 1034.1L821.3 1033.5L821.4 1033L821.6 1032.6L821.7 1032.4L821.9 1032.3L822 1032.3L822.1 1032.5L822.3 1032.8L822.4 1033.2L822.6 1033.8L822.7 1034.5L822.8 1035.4L823 1036.3L823.1 1037.4L823.2 1038.6L823.3 1039.9L823.4 1041.3L823.6 1042.8L823.7 1044.4L823.8 1046L823.9 1047.8L824 1049.9L824.1 1051.5L824.2 1053.3L824.3 1055.1L824.4 1057L824.5 1058.9L824.6 1060.9L824.7 1062.9L824.8 1065L824.9 1067.1L825 1069.3L825.1 1071.5L825.2 1073.7L825.3 1076L825.4 1078.2L825.5 1080.5L825.6 1082.8L825.7 1085L825.8 1087.3L825.9 1089.6L826 1091.9L826.1 1094.1L826.2 1096.3L826.3 1098.5L826.4 1100.7L826.5 1102.8L826.6 1104.9L826.7 1107L826.8 1109L826.9 1110.9L827 1112.8L827.1 1114.7L827.2 1116.4L827.3 1118.1L827.4 1119.7L827.5 1121.2L827.6 1122.7L827.7 1124L827.8 1125.3L827.9 1126.4L828 1127.6L828.2 1128.8L828.3 1129.9L828.4 1130.9L828.5 1131.8L828.6 1132.5L828.8 1133.1L828.9 1133.6L829 1134L829.2 1134.2L829.3 1134.2L829.5 1134.2L829.6 1133.9L829.7 1133.7L829.8 1133.4L829.9 1133.1L830 1132.7L830.1 1132.2L830.2 1131.7L830.2 1131.1L830.3 1130.5L830.4 1129.8L830.5 1129.1L830.6 1128.3L830.7 1127.4L830.8 1126.6L830.9 1125.6L831 1124.6L831.1 1123.6L831.3 1122.5L831.4 1121.4L831.5 1120.3L831.6 1119.1L831.7 1117.8L831.8 1116.5L831.9 1115.2L832 1113.1L832.1 1111.5L832.2 1109.9L832.3 1108.2L832.4 1106.5L832.6 1104.7L832.7 1102.9L832.8 1101.1L832.9 1099.3L833 1097.4L833.1 1095.5L833.2 1093.6L833.4 1091.7L833.5 1089.7L833.6 1087.7L833.7 1085.7L833.8 1083.6L834 1081.6L834.1 1079.5L834.2 1077.4L834.3 1075.3L834.4 1073.2L834.5 1071.1L834.7 1068.9L834.8 1066.8L834.9 1064.6L835 1062.4L835.1 1060.3L835.3 1058.1L835.4 1055.9L835.5 1053.7L835.6 1051.5L835.7 1049.3L835.9 1047.1L836 1044.9L836.1 1042.9L836.2 1040.9L836.3 1038.9L836.5 1036.9L836.6 1034.9L836.7 1032.9L836.8 1031L836.9 1029L837.1 1027.1L837.2 1025.2L837.3 1023.2L837.4 1021.3L837.5 1019.4L837.7 1017.6L837.8 1015.7L837.9 1013.9L838 1012L838.1 1010.3L838.2 1008.5L838.4 1006.7L838.5 1005L838.6 1003.3L838.7 1001.6L838.8 1000L838.9 998.3L839 996.7L839.2 995.2L839.3 993.6L839.4 992.1L839.5 990.7L839.6 989.2L839.7 987.9L839.8 986.5L839.9 985.2L840 984.4L840.1 982.9L840.2 981.5L840.4 980.2L840.5 978.9L840.6 977.6L840.7 976.4L840.8 975.2L840.9 974.1L841 973L841.1 972L841.2 971.1L841.3 970.1L841.4 969.3L841.5 968.5L841.5 967.8L841.6 967.1L841.7 966.5L841.8 965.9L841.9 965.4L842 965L842.1 964.4L842.3 964L842.4 963.7L842.6 963.5L842.7 963.5L842.8 963.6L843 963.9L843.1 964.3L843.2 964.7L843.3 965.3L843.5 966.1L843.6 966.9L843.7 967.8L843.8 968.8L843.9 969.9L844 971.3L844.2 972.8L844.3 974.4L844.4 976.1L844.5 977.9L844.6 979.7L844.7 981.6L844.8 983.6L844.9 985.6L845 987.7L845.1 989.8L845.2 992L845.3 994.2L845.4 996.4L845.5 998.7L845.6 1001L845.7 1003.3L845.8 1005.7L845.9 1008.1L846 1010.4L846.1 1012.8L846.2 1015.2L846.3 1017.6L846.4 1020L846.5 1022.4L846.6 1024.8L846.7 1027.2L846.8 1029.5L846.9 1031.8L847 1034.1L847.1 1036.4L847.2 1038.6L847.3 1040.8L847.4 1043L847.5 1045.1L847.6 1047.2L847.7 1049.2L847.8 1051.2L847.9 1053.1L848 1054.9L848.1 1056L848.2 1057.5L848.3 1058.9L848.4 1060.2L848.5 1061.4L848.6 1062.6L848.8 1063.6L848.9 1064.5L849 1065.4L849.1 1066.1L849.2 1066.7L849.4 1067.2L849.5 1067.6L849.8 1068.2L850.1 1068.3L850.4 1068.1L850.8 1067.5L851.1 1066.5L851.4 1065.3L851.8 1063.7L852.1 1062.2L852.5 1060.8L852.9 1059.3L853.2 1057.6L853.6 1055.7L854 1053.7L854.3 1051.7L854.7 1049.6L855 1047.5L855.4 1045.3L855.8 1043.2L856.1 1041.6L856.5 1038.9L856.9 1036.3L857.2 1033.8L857.6 1031.5L857.9 1029.5L858.2 1027.6L858.6 1026L858.9 1024.7L859.2 1023.7L859.5 1023L859.9 1022.6L860.2 1023.1L860.6 1024.3L860.9 1025.8L861.2 1027.6L861.5 1029.6L861.8 1031.8L862.1 1034.2L862.4 1036.7L862.7 1039.3L863 1041.9L863.2 1044.6L863.5 1047.3L863.8 1049.9L864.1 1052L864.4 1053.7L864.8 1055.3L865.1 1056.6L865.4 1057.6L865.8 1058.4L866.2 1058.8L866.6 1058.9L867 1058.5L867.4 1057.9L867.8 1056.9L868.2 1056.2L868.7 1055.7L869.1 1055.1L869.6 1054.2L870 1053.2L870.5 1052.1L871 1050.9L871.5 1049.5L872 1047L872.5 1044.6L873 1042.2L873.6 1039.8L874.1 1037.4L874.6 1035.1L875.1 1032.8L875.6 1030.6L876.1 1028.6L876.6 1027.3L877.1 1026.1L877.6 1025.1L878 1024.3L878.5 1023.7L879 1023.3L879.4 1023.2L880.1 1023.5L880.7 1023.5L881.3 1023.9L882 1024.8L882.6 1026L883.2 1027.4L883.8 1029L884.4 1031.3L885 1034L885.6 1036.6L886.2 1039.1L886.7 1041.5L887.3 1043.8L887.8 1045.7L888.4 1047L888.9 1047.5L889.4 1047.6L890.1 1047.1L890.7 1045.9L891.3 1044.2L891.8 1042L892.3 1040.1L892.8 1038.3L893.4 1036.5L893.9 1034.7L894.6 1033.3L895.3 1032.2L896 1032.7L896.9 1031.1L897.7 1030.2L898.7 1029.6L899.6 1029.2L900.7 1030.7L901.8 1033.4L902.9 1036.2L904 1038.3L905.2 1038.9L906.4 1039.4L907.5 1039.8L908.6 1041.2L909.7 1043.2L910.8 1044.9L911.8 1046.3L913.2 1045.5L914.5 1043.7L915.7 1042L916.8 1041.3L918 1040.6L919.3 1039.4L920.7 1038.1L922.4 1037.6L924.3 1038.1L925.4 1038L926.6 1037.6L927.9 1037.3L929.2 1037.1L930.5 1038L931.9 1039.3L933.4 1040.7L934.9 1042.1L936.4 1042.2L937.9 1042.2L939.5 1042.2L941.1 1042.7L942.7 1044.2L944.3 1045.7L945.9 1047.2L947.6 1047.1L949.2 1047L950.5 1046.8L951.9 1047.1L953.3 1048.3L954.8 1049.5L956.3 1050.8L957.7 1051.5L959.3 1051.2L960.8 1050.9L962.3 1050.6L963.8 1051.8L965.4 1053.2L966.9 1054.6L968.4 1055.5L970 1055.1L971.5 1054.7L973 1054.3L974.4 1054.9L975.9 1056L977.3 1057.1L978.7 1058.1L980 1058.1L981.7 1057.1L983.3 1055.9L984.9 1055.3L986.4 1056.2L987.9 1057L989.4 1057.7L990.9 1057L992.3 1055.8L993.8 1054.5L995.2 1053.2L996.7 1053.4L998.2 1054L999.8 1054.6L1001.4 1055.1L1003.1 1053.8L1004.8 1052.5L1006.2 1051.5L1007.6 1052.1L1009 1053.2L1010.5 1054.3L1012 1055.4L1013.5 1054.6L1015.1 1053.7L1016.6 1052.9L1018.2 1053L1019.8 1054.3L1021.4 1055.6L1023 1056.8L1024.6 1056.1L1026.2 1055.1L1027.8 1054.1L1029.3 1054.3L1030.9 1055.5L1032.5 1056.7L1034 1057.8L1035.5 1056.5L1037 1055.5L1038.5 1054.4L1040 1053.9L1041.5 1054.5L1043 1055.1L1044.4 1055.7L1045.9 1054.8L1047.3 1053.8L1048.7 1052.9L1050.2 1051.9L1051.6 1051.7L1053 1051.8L1054.5 1051.9L1055.9 1052L1057.4 1051.3L1058.9 1049.8L1060.4 1048.2L1062 1047.2L1063.5 1047.7L1065.1 1048.2L1066.8 1048.7L1068.1 1047.7L1069.4 1046.3L1070.8 1044.9L1072.1 1043.4L1073.5 1043.3L1074.9 1043.8L1076.3 1044.2L1077.7 1044.7L1079.1 1043.5L1080.6 1041.9L1082 1040.3L1083.5 1038.8L1084.9 1039.1L1086.4 1039.6L1087.9 1040L1089.4 1039.6L1090.8 1038.1L1092.3 1036.7L1093.8 1035.2L1095.3 1034.6L1096.7 1034.8L1098.2 1035L1099.7 1035.2L1101.1 1034.2L1102.6 1032.7L1104 1031.2L1105.4 1029.8L1106.8 1029.9L1108.1 1030.1L1109.5 1030.3L1110.9 1030.6L1112.3 1028.9L1113.6 1027.8L1115 1026.6L1116.4 1025.4L1117.8 1025.2L1119.2 1025.1L1120.5 1025.1L1121.9 1025L1123.3 1024.2L1124.7 1022.7L1126 1021.1L1127.4 1019.5L1128.8 1019.7L1130.2 1019.9L1131.6 1020.2L1132.9 1020.4L1134.3 1018.8L1135.7 1017.4L1137.1 1016L1138.4 1014.5L1139.8 1014.6L1141.2 1014.7L1142.6 1014.8L1143.9 1014.9L1145.3 1013.4L1146.6 1012.1L1147.9 1010.9L1149.2 1009.7L1150.5 1009.3L1151.8 1009.3L1153.1 1009.2L1154.4 1009.1L1155.7 1008.2L1157.1 1007.1L1158.4 1005.9L1159.7 1004.8L1161 1004L1162.4 1003.8L1163.7 1003.6L1165.1 1003.4L1166.5 1003.6L1167.9 1001.9L1169.3 1000.2L1170.7 998.6L1172.2 997.8L1173.7 998.1L1175.3 998.3L1176.8 998.6L1178.4 997.1L1179.6 995.6L1180.8 994.1L1182.1 992.6L1183.4 992.3L1184.7 992.5L1185.9 992.8L1187.3 993.1L1188.6 991.8L1189.9 990.6L1191.3 989.4L1192.6 988.2L1194 987.4L1195.4 987.2L1196.8 987L1198.2 986.8L1199.6 986.7L1201 985.1L1202.4 983.5L1203.8 981.8L1205.3 981.2L1206.7 981.4L1208.1 981.7L1209.6 981.9L1211 980.6L1212.4 979.2L1213.9 977.8L1215.3 976.4L1216.7 976.3L1218.2 976.3L1219.6 976.4L1221 976.2L1222.4 975L1223.8 973.9L1225.2 972.7L1226.6 971.7L1228 971.7L1229.5 971.7L1230.9 971.7L1232.4 971.6L1233.8 970.5L1235.3 969.3L1236.8 968.2L1238.2 967.7L1239.7 967.9L1241.1 968.1L1242.6 968.3L1244 967.9L1245.5 966.5L1247 965.2L1248.4 963.8L1249.9 964.3L1251.3 964.8L1252.8 965.3L1254.3 965.6L1255.7 964.2L1257.2 962.9L1258.6 961.5L1260.1 960.9L1261.6 961.5L1263 962.1L1264.5 962.7L1265.9 961.4L1267.4 960.5L1268.8 959.6L1270.3 958.7L1271.8 958.6L1273.2 958.7L1274.7 958.7L1276.1 959.3L1277.6 958L1279 956.7L1280.4 955.4L1281.9 954.5L1283.3 954.9L1284.7 955.2L1286.1 955.5L1287.5 954.7L1288.9 953.7L1290.4 952.8L1291.8 951.8L1293.2 951.3L1294.6 951.2L1296 951.2L1297.4 951.2L1298.9 951.1L1300.3 949.7L1301.7 948.3L1303.1 947L1304.5 946.8L1305.9 947.2L1307.4 947.6L1308.8 947.9L1310.2 946.6L1311.6 945.4L1313 944.3L1314.4 943.1L1315.9 943.2L1317.3 943.4L1318.7 943.5L1320.1 944.2L1321.5 942.7L1322.9 941.3L1324.4 939.8L1325.8 938.8L1327.2 939.3L1328.7 939.8L1330.1 940.3L1331.6 940.1L1333 938.6L1334.5 937.1L1336 935.6L1337.4 935.4L1338.9 936L1340.3 936.5L1341.8 937.1L1343.2 935.6L1344.7 934.4L1346.2 933.2L1347.6 932.1L1349.1 932.4L1350.5 932.7L1352 933L1353.5 933.3L1354.9 931.8L1356.4 930.3L1357.8 928.8L1359.3 928.5L1360.8 929.1L1362.2 929.8L1363.7 930.4L1365.1 928.9L1366.6 927.9L1368 926.8L1369.5 925.7L1371 926L1372.4 926.3L1373.9 926.5L1375.3 926.2L1376.8 925.3L1378.3 924.4L1379.8 923.5L1381.4 923.2L1382.9 923.3L1384.5 923.5L1386 924.3L1387.6 923L1389.2 921.8L1390.8 920.5L1392.3 920.2L1393.9 920.8L1395.5 921.4L1397.1 921.2L1398.7 920.3L1400.2 919.5L1401.8 918.6L1403.4 918.4L1404.9 918.6L1406.5 918.8L1408 919.1L1409.5 918.2L1411.1 917.3L1412.5 916.4L1414 915.9L1415.5 916.1L1416.9 916.4L1418.4 916.7L1419.8 916.5L1421.1 915.5L1422.5 914.5L1423.8 913.5L1425.1 913.2L1426.4 913.5L1428.2 913.9L1429.9 914.2L1431.5 913.2L1433.1 911.8L1434.6 910.5L1436.1 909.8L1437.5 910.1L1438.9 910.4L1440.3 910.7L1441.6 910L1442.9 909L1444.3 908L1445.6 907L1446.9 906.3L1448.2 906.4L1449.6 906.5L1450.9 906.6L1452.3 906.3L1453.8 905.4L1455.3 904.5L1456.8 903.9L1458.4 903.7L1460 903.5L1461.4 903.4L1462.8 902.8L1464.2 901.5L1465.7 900.7L1467.2 901.7L1468.8 902.9L1470.4 902.8L1472 901.5L1473.6 900.2L1475.2 899.1L1476.9 899.9L1478.5 900.6L1480.2 902L1481.8 900.1L1483.5 898.2L1485.1 896.6L1486.7 898L1488.3 899.3L1489.9 900.6L1491.5 899.1L1493 897.5L1494.4 895.9L1495.9 896L1497.2 897.2L1498.6 898.3L1499.9 899.4L1501.1 898.1L1502.2 897.2L1503.3 896.5L1505.9 896L1508.1 897.7L1510 899.4L1511.6 899L1513.1 898.6L1514.4 898.3L1515.6 899L1516.8 900.4L1518 901.6L1519.3 902.7L1520.7 902.7L1522.1 901.4L1523.4 899.9L1524.5 898.4L1525.6 897.6L1526.7 897.5L1527.9 897.4L1529.1 897.3L1530.5 896.7L1532 894.6L1533.8 892.3L1535.8 891.3L1537 892L1538.3 892.7L1539.7 893.5L1541.2 892.4L1542.8 890.9L1544.4 889.3L1546.1 889.4L1547.9 890.5L1549.6 891.5L1551.4 890.4L1553.2 888.8L1555 887.2L1556.7 888.3L1558.4 889.4L1560.1 890.5L1561.7 889.1L1563.2 887.8L1564.6 886.6L1566 887.1L1567.2 888.1L1568.3 889L1570.5 890.9L1572.2 890.3L1573.5 890.3L1574.6 890.8L1575.5 892.5L1576.4 894.6L1577.2 896.4L1578.1 897.8L1579.2 898.6L1580 898.8L1580.8 896.6L1581.6 894.7L1582.4 892.6L1583.2 890.2L1583.9 887.7L1584.7 885.2L1585.5 883.5L1586.3 882.2L1587.1 881L1587.8 880.1L1588.6 879.5L1589.3 879.2L1590 879.2L1590.9 878.8L1591.7 879.1L1592.4 880L1593.1 881.2L1593.9 882.7L1594.6 884.3L1595.3 886.3L1596.1 888.7L1596.9 890.8L1597.8 892.4L1598.7 893.5L1599.6 894L1600.7 893.5L1601.8 891.6L1602.9 889.3L1604 886.9L1605.2 884.7L1606.4 884.1L1607.5 883.5L1608.7 883.1L1609.7 882.8L1610.8 881.1L1611.7 880.2L1613 879.7L1614.1 880L1615.1 881.2L1616.1 883.5L1617.1 885.9L1618.1 887.9L1619.1 889.4L1620.3 889.8L1621.1 888.7L1621.9 887.2L1622.7 885.3L1623.6 883.2L1624.4 880.8L1625.3 878.8L1626.2 877.4L1627.1 876.1L1627.9 874.9L1628.8 874L1629.6 873.3L1630.4 873.3L1631.2 872.3L1632 871.9L1632.7 872.1L1633.5 872.9L1634.2 874L1634.8 875.5L1635.5 878L1636.2 880.8L1636.8 883.6L1637.5 886L1638.3 888.1L1639 889.7L1639.8 890.7L1640.4 889.6L1641.1 888.4L1641.7 886.9L1642.4 885L1643.1 883L1643.8 880.7L1644.5 878.4L1645.2 876.3L1646 874.9L1646.7 873.6L1647.4 872.3L1648.1 871.2L1648.8 870.2L1649.4 869.5L1650.1 869.1L1650.7 868.1L1651.7 867.2L1652.6 867.3L1653.4 868.1L1654.2 869.3L1655 870.7L1655.9 873.2L1656.8 875.6L1658 877.5L1659.3 878.9L1660.3 878.3L1661.4 877.4L1662.6 876.2L1663.8 874.8L1665.1 873.4L1666.5 872.9L1667.9 872.4L1669.2 871.8L1670.6 871.1L1672 869L1673.2 866.9L1674.5 865L1675.6 864.1L1676.7 864L1678.2 863.8L1679.5 863.5L1680.8 862.2L1681.9 860.2L1683.1 858.3L1684.1 856.6L1685.2 855.3L1686.3 855.5L1687.5 855.9L1689.1 856.8L1690.6 856.4L1692.2 855.9L1693.7 855.5L1695.3 855.6L1696.8 857L1698.4 858.4L1699.6 859.7L1700.7 861.3L1701.8 861.6L1702.9 862.1L1704 862.5L1705.1 863L1706.4 864.9L1707.7 866.6L1709.2 868L1710.4 868.3L1711.8 867L1713.2 865.5L1714.7 863.9L1716.3 864.1L1717.8 864.7L1719.4 865.1L1721 863.4L1722.5 861.7L1723.9 859.8L1725.3 858.2L1726.5 857.5L1727.3 856.8L1728.1 855.9L1728.8 854.8L1729.5 853.4L1730.2 852.6L1730.8 850.2L1731.4 847.8L1732.1 845.5L1732.7 843.2L1733.2 840.9L1733.8 838.8L1734.4 836.8L1735 835L1735.6 834.3L1736.2 833.9L1736.8 833.9L1737.4 834.1L1738.1 834.8L1738.8 836L1739.4 837.6L1740.1 839.1L1740.8 840.2L1741.5 841.6L1742.1 843L1742.8 844.6L1743.5 846.1L1744.2 847.6L1744.8 849L1745.5 850.9L1746.2 852.8L1746.9 854.4L1747.5 855.6L1748.2 856.4L1749 856.7L1749.8 856.6L1750.6 855.4L1751.3 853.3L1752.1 850.9L1752.9 848.2L1753.7 845.5L1754.5 842.8L1755.3 840.7L1756.1 839.5L1756.8 838.5L1757.6 837.8L1758.3 837.5L1759 837.6L1759.9 838.6L1760.7 838.7L1761.5 839.6L1762.3 840.9L1763.1 842.5L1763.9 844.1L1764.6 845.7L1765.4 847.6L1766.1 849.5L1766.9 850.9L1767.7 851.6L1768.3 851.6L1768.9 851L1769.5 850L1770.1 849L1770.7 846.5L1771.3 843.9L1771.9 841.3L1772.5 838.7L1773.1 836.2L1773.8 833.9L1774.4 831.9L1775 830.4L1775.7 830.4L1776.4 831.1L1776.9 831.9L1777.3 833.1L1777.8 834.6L1778.3 836.3L1778.8 838.3L1779.3 840.4L1779.8 842.7L1780.4 844.6L1780.9 846.2L1781.4 847.9L1781.9 849.6L1782.5 851.2L1783 852.7L1783.5 854.2L1784.1 855.5L1784.6 856.6L1785.1 857.8L1785.6 859.3L1786.2 860.6L1786.7 861.6L1787.2 862.1L1787.7 862.3L1788.2 862.2L1788.7 861.8L1789.2 861.1L1789.7 860.1L1790.2 857.7L1790.7 855.7L1791.2 853.6L1791.7 851.4L1792.2 849.1L1792.7 846.7L1793.2 844.4L1793.7 842L1794.2 839.7L1794.7 837.5L1795.2 835.7L1795.7 834.2L1796.2 832.9L1796.6 831.8L1797.1 831L1797.6 830.4L1798 830.1L1798.7 830.4L1799.2 831.2L1799.8 832.7L1800.3 834.3L1800.7 836.1L1801.2 838.1L1801.7 840.2L1802.2 842.3L1802.7 844.2L1803.3 845.9L1804 847.1L1804.8 847.9L1805.7 848.7L1806.7 849L1807.3 848.9L1807.9 848.6L1808.6 848.1L1809.3 847.4L1810 847.4L1810.8 845.4L1811.6 843.3L1812.4 841L1813.3 838.6L1814.2 836.2L1815 833.7L1815.9 832.6L1816.8 831.5L1817.7 830.4L1818.6 829.3L1819.5 828.2L1820.4 826.8L1821.3 824.3L1822.2 821.9L1823.1 819.6L1823.9 817.4L1824.7 815.4L1825.5 814.7L1826.3 814.6L1827 814.7L1827.7 815.1L1828.4 815.6L1829.1 816.5L1829.8 817.7L1830.5 817.5L1831.1 818.2L1831.8 819.3L1832.4 820.5L1833 822L1833.6 823.6L1834.2 825.3L1834.8 827.2L1835.3 829.5L1835.9 832L1836.4 834.6L1836.9 837.1L1837.4 839.5L1837.9 841.7L1838.3 843.9L1838.8 845.8L1839.3 847.5L1839.7 849L1840.1 850.3L1840.6 850.6L1841 850.6L1841.4 850.2L1841.7 849.6L1842 848.9L1842.2 848.1L1842.4 847L1842.7 845.9L1842.9 844.6L1843.1 843.1L1843.3 841.6L1843.4 839.9L1843.6 838.2L1843.8 836.4L1843.9 834.5L1844.1 832.5L1844.2 830.5L1844.4 828.4L1844.5 826.4L1844.7 824.2L1844.8 822.1L1845 820L1845.1 818L1845.3 816.2L1845.4 814.3L1845.6 812.5L1845.8 810.8L1846 809.1L1846.2 807.5L1846.4 806L1846.6 804.7L1846.8 803.4L1847.1 802.3L1847.3 801.3L1847.6 800.4L1847.9 799.8L1849.1 798.1L1850.5 796.6L1852.1 794.3L1853.7 792.4L1855.4 792L1857.1 793.5L1858.7 794.6L1860.3 795.5L1861.7 797.2L1862.3 798.3L1862.8 799.7L1863.4 801.2L1863.9 802.6L1864.4 804.1L1864.9 805.7L1865.4 807.3L1865.8 809L1866.3 810.6L1866.8 812.3L1867.2 814L1867.7 816L1868.2 818.3L1868.7 820.6L1869.2 822.6L1869.7 824.5L1870.2 826.2L1870.8 827.6L1871.3 828.7L1871.9 829.5L1872.5 829.1L1873 828.4L1873.4 827.5L1873.9 826.3L1874.4 825L1874.9 823.4L1875.4 821.7L1875.9 819.9L1876.4 817.9L1877 816.5L1877.5 815.2L1878 813.8L1878.6 812.3L1879.1 810.8L1879.7 809.3L1880.2 807.7L1880.8 806.2L1881.3 804.2L1881.9 801.7L1882.5 799.4L1883 797.1L1883.5 794.9L1884.1 792.8L1884.6 790.8L1885.2 789L1885.7 787.6L1886.2 787.1L1886.7 786.7L1887.2 786.4L1887.7 786.5L1888.5 786.9L1889.3 787.9L1890.1 789.5L1890.9 789.7L1891.7 790.4L1892.5 791.3L1893.2 792.4L1894 793.7L1894.7 795.4L1895.5 798.4L1896.2 801.2L1896.9 804L1897.7 806.6L1898.4 809L1899.2 810.2L1899.9 810.5L1900.7 810.5L1901.8 809.7L1902.8 808.4L1903.8 807.1L1904.9 806.7L1905.9 806L1906.9 805.1L1908 804.2L1909 801.8L1910.1 799.4L1911.3 797.2L1912.5 795.3L1913.7 796.1L1914.8 797.2L1915.9 798.7L1917.1 801L1918.3 800.6L1919.6 800.3L1920.8 800.2L1922.1 801.4L1923.4 804.3L1924.6 807.1L1925.9 809.8L1927.2 808.9L1928.5 809L1929.8 808.8L1931 808.9L1932.3 809.7L1933.7 810.3L1935.1 811.4L1936.5 809.4L1937.9 807.2L1939.4 804.9L1940.7 805L1942.1 805.3L1943.4 805.6L1944.7 804.4L1946 801.9L1947.2 799.5L1948.3 797.2L1949.4 796.8L1950.5 796.6L1951.6 796.1L1952.6 795.5L1953.5 793.1L1954.4 790.6L1955.3 788.2L1956.1 786.1L1956.9 784.2L1957.7 783.1L1958.5 783.2L1959.2 783.8L1959.8 784.8L1960.3 786.3L1960.7 788.3L1961.2 790.6L1961.6 793.1L1962 795.6L1962.4 797.7L1962.8 799.7L1963.2 801.7L1963.5 803.4L1963.9 804.8L1964.3 805.7L1964.8 806.1L1965.2 805.9L1965.7 804.9L1965.9 804.2L1966.1 803.3L1966.4 802.3L1966.6 801.2L1966.8 800.2L1967 799.1L1967.3 797.8L1967.5 796.4L1967.8 795L1968 793.4L1968.2 791.8L1968.5 790.1L1968.7 788.3L1969 786.5L1969.2 784.7L1969.5 782.8L1969.7 781L1970 779.1L1970.2 777.3L1970.5 775.4L1970.8 773.6L1971 772.8L1971.3 770.6L1971.5 768.5L1971.8 766.4L1972 764.5L1972.3 762.6L1972.5 760.9L1972.8 759.3L1973 757.8L1973.3 756.4L1973.6 755.2L1973.8 754.2L1974.1 753.4L1974.3 752.8L1974.7 752.1L1975 752L1975.4 752.2L1975.8 753.3L1976.1 755L1976.5 756.9L1976.8 759L1977.1 761.4L1977.5 763.9L1977.8 766.5L1978.2 769.2L1978.6 771.9L1978.9 774.7L1979.3 777.4L1979.7 780L1980 781.6L1980.4 783.3L1980.8 784.8L1981.2 786L1981.7 787L1982.1 787.7L1982.5 788L1983 788L1983.6 787.5L1984.1 786.7L1984.8 785.9L1985.4 785.3L1986.1 784.5L1986.7 783.5L1987.4 782.4L1988.1 781.1L1988.8 779.6L1989.5 777.3L1990.2 774.8L1990.9 772.2L1991.6 769.7L1992.3 767.3L1993 765L1993.6 763.1L1994.2 762.1L1994.9 761.4L1995.4 760.9L1996 760.7L1997.2 761.2L1998.2 762.6L1999.3 763.1L2000.2 764.1L2001.2 765.3L2002.1 766.5L2002.9 768.2L2003.8 770.1L2004.6 771.2L2005.3 771.2L2005.9 770.6L2006.4 769.5L2006.9 768L2007.4 765.9L2008 763.2L2008.5 760.6L2009.1 758.2L2009.7 756.3L2010.4 754.8L2011.1 753.9L2011.6 754.1L2012.2 755.7L2012.8 757.6L2013.4 759.9L2014.1 762.4L2014.7 765.1L2015.4 767.9L2016.1 769.7L2016.8 771.4L2017.5 773L2018.1 774.5L2018.8 775.8L2019.5 776.9L2020.2 777.6L2020.8 778.4L2021.4 779.2L2022 779.5L2022.4 779.4L2022.8 779L2023.1 778.3L2023.5 777.5L2023.9 776.4L2024.2 775.2L2024.6 773.8L2024.9 772.3L2025.3 770.7L2025.6 768.5L2025.9 766.2L2026.3 763.9L2026.6 761.6L2026.9 759.3L2027.3 757L2027.6 754.8L2027.9 752.6L2028.2 750.5L2028.6 748.6L2028.9 746.7L2029.2 745.1L2029.6 743.7L2029.9 742.9L2030.3 742.4L2030.6 742.1L2031.4 742.4L2032.2 743.8L2033 746L2033.8 748.7L2034.7 750.7L2035.5 752.6L2036.3 754.4L2037.1 755.8L2037.9 756.6L2038.6 756.9L2039.3 757.1L2039.6 756.7L2039.9 756L2040.2 755.1L2040.5 753.8L2040.7 752.4L2041 750.7L2041.2 748.9L2041.5 747L2041.7 744.9L2041.9 742.8L2042.2 740.7L2042.4 738.6L2042.7 736.5L2042.9 734.5L2043.1 733.2L2043.4 730.9L2043.7 728.8L2043.9 726.8L2044.2 725.1L2044.5 723.6L2044.8 722.4L2045.1 721.6L2045.4 721L2045.8 720.8L2046 721L2046.3 721.3L2046.5 721.8L2046.7 722.5L2047 723.4L2047.2 724.4L2047.5 725.6L2047.8 727.5L2048 729.6L2048.3 731.8L2048.6 734.1L2048.9 736.5L2049.2 738.9L2049.4 741.5L2049.7 744L2050 746.7L2050.3 749.3L2050.6 752L2050.9 754.7L2051.2 757.3L2051.5 760L2051.8 762.6L2052.1 764.2L2052.4 766.1L2052.7 767.8L2053 769.5L2053.3 771.1L2053.6 772.6L2053.9 773.9L2054.2 775.1L2054.4 776.2L2054.7 777.1L2055 777.8L2055.3 778.4L2055.6 778.7L2055.8 778.8L2056.1 778.7L2056.3 778.4L2056.6 778L2056.8 777.8L2056.9 777.5L2057.1 777L2057.2 776.5L2057.4 775.8L2057.5 775L2057.7 774.2L2057.8 773.2L2058 772.1L2058.1 771L2058.2 769.8L2058.4 768.5L2058.5 767.1L2058.7 765.6L2058.8 764.1L2059 762.5L2059.1 760.9L2059.2 759.2L2059.4 757.4L2059.5 755.6L2059.7 753.8L2059.8 751.9L2059.9 750L2060.1 748L2060.2 746.1L2060.3 744.1L2060.5 742L2060.6 740L2060.7 738L2060.9 735.9L2061 734.5L2061.1 732.2L2061.3 729.8L2061.4 727.5L2061.5 725.2L2061.7 722.9L2061.8 720.6L2061.9 718.4L2062.1 716.2L2062.2 714L2062.3 711.8L2062.5 709.7L2062.6 707.7L2062.7 705.7L2062.9 703.7L2063 701.8L2063.1 700L2063.3 698.2L2063.4 696.5L2063.5 694.8L2063.7 693.3L2063.8 691.8L2063.9 690.4L2064.1 689.1L2064.2 687.9L2064.3 686.8L2064.5 685.8L2064.6 684.9L2064.8 684.1L2064.9 683.4L2065 682.8L2065.2 682.4L2065.3 682.1L2065.5 681.9L2065.6 682L2065.8 682.5L2065.9 683L2066.1 683.6L2066.3 684.4L2066.4 685.3L2066.6 686.2L2066.7 687.3L2066.9 688.5L2067.1 689.8L2067.2 691.1L2067.4 692.5L2067.6 694.1L2067.7 695.7L2067.9 697.3L2068.1 699.1L2068.3 700.9L2068.4 702.7L2068.6 704.6L2068.8 706.6L2068.9 708.6L2069.1 710.7L2069.3 712.8L2069.4 714.9L2069.6 717.1L2069.8 719.3L2069.9 721.5L2070.1 722.4L2070.3 724.3L2070.4 726.3L2070.6 728.2L2070.7 730.2L2070.9 732.1L2071.1 734.1L2071.2 736.1L2071.4 738L2071.5 739.9L2071.7 741.8L2071.8 743.7L2072 745.6L2072.1 747.4L2072.3 749.2L2072.4 751L2072.6 752.7L2072.7 754.4L2072.9 756L2073 757.6L2073.1 759.1L2073.3 760.5L2073.4 761.9L2073.5 763.2L2073.6 764.5L2073.8 765.6L2073.9 766.7L2074 767.7L2074.3 770.4L2074.6 773.2L2074.8 776.3L2075 779.5L2075.2 782.6L2075.4 785.7L2075.6 788.7L2075.8 791.5L2075.9 794.2L2076.1 796.7L2076.2 799L2076.4 801L2076.5 802.8L2076.7 804.2L2076.9 805.3L2077.1 806L2077.3 806.3L2077.5 806.1L2077.7 805.5L2078 804.4L2078.3 802.7L2078.4 802.2L2078.5 801.6L2078.5 800.9L2078.6 800.2L2078.7 799.4L2078.8 798.6L2078.9 797.6L2079 796.7L2079 795.9L2079.1 794.6L2079.2 793.4L2079.3 792.1L2079.4 790.7L2079.5 789.3L2079.6 787.8L2079.7 786.3L2079.7 784.8L2079.8 783.2L2079.9 781.5L2080 779.9L2080.1 778.2L2080.2 776.4L2080.3 774.7L2080.4 772.9L2080.5 771L2080.6 769.2L2080.7 767.3L2080.8 765.4L2080.9 763.4L2081 761.5L2081.1 759.5L2081.2 757.5L2081.3 755.5L2081.4 753.5L2081.5 751.4L2081.6 749.4L2081.7 747.3L2081.8 745.3L2081.9 743.2L2082 741.1L2082.1 739.1L2082.2 737L2082.3 734.9L2082.4 732.9L2082.5 730.8L2082.6 728.7L2082.8 726.7L2082.9 724.6L2083 722.6L2083.1 720.6L2083.2 718.6L2083.3 716.6L2083.4 714.6L2083.5 712.8L2083.7 711L2083.8 709.3L2083.9 707.6L2084 706L2084.1 704.4L2084.2 702.8L2084.4 701.2L2084.5 699.7L2084.6 698.2L2084.7 696.8L2084.8 695.3L2085 694L2085.1 692.6L2085.2 691.4L2085.3 690.1L2085.5 688.9L2085.6 687.8L2085.7 686.7L2085.8 685.7L2086 684.7L2086.1 683.8L2086.2 682.9L2086.3 682.1L2086.5 681.4L2086.6 680.7L2086.7 680.1L2086.9 679.5L2087 679.1L2087.5 677.8L2088 677.7L2088.5 676.7L2089.1 676.2L2089.7 676.1L2090.3 676.4L2090.9 677.1L2091.5 678.1L2092.2 679.4L2092.8 681.6L2093.5 684.6L2094.1 687.8L2094.7 691.1L2095.3 694.3L2096 697.6L2096.5 700.8L2097.1 703.9L2097.7 705.5L2098.2 706.9L2098.7 708L2099.2 708.9L2099.6 709.5L2100 709.7L2101 708.4L2101.5 705.4L2101.9 702.1L2102.2 698.6L2102.5 696.3L2103.2 696.5L2104.3 700.5L2104.5 701.4L2104.7 702.5L2104.9 703.7L2105.1 704.9L2105.4 706.3L2105.6 707.8L2105.9 709.4L2106.1 710L2106.4 711.2L2106.7 712.4L2107 713.7L2107.3 715L2107.6 716.4L2107.9 717.8L2108.2 719.3L2108.5 720.8L2108.8 722.4L2109.1 724L2109.5 725.6L2109.8 727.2L2110.1 728.8L2110.4 730.5L2110.8 732.7L2111.1 735L2111.5 737.3L2111.8 739.6L2112.1 741.9L2112.5 744.1L2112.8 746.4L2113.2 748.6L2113.5 750.8L2113.8 753L2114.2 755.2L2114.5 757.3L2114.9 759.3L2115.2 760.7L2115.5 762.1L2115.8 763.4L2116.1 764.7L2116.5 765.9L2116.8 767L2117.1 768.1L2117.4 769.1L2117.7 770L2117.9 770.9L2118.2 771.6L2118.5 772.3L2118.8 772.8L2119 773.3L2119.3 773.6L2119.5 773.9L2119.9 774.7L2120.4 775.2L2120.8 775.4L2121.1 775.2L2121.5 774.8L2121.8 774.1L2122.2 773.1L2122.5 771.9L2122.8 770.5L2123.1 769L2123.4 767.3L2123.7 765.5L2123.9 763.6L2124.2 761.1L2124.5 758.7L2124.8 756.3L2125 753.8L2125.3 751.4L2125.6 749L2125.9 746.7L2126.3 744.4L2126.6 742.3L2126.9 740.3L2127.3 738.5L2127.7 736.8L2128.1 735.3L2128.9 733.3L2129.7 732L2130.6 730.7L2131.5 729.6L2132.4 728.6L2133.4 727.7L2134.3 725.3L2135.3 723.1L2136.3 721L2137.3 719.1L2138.3 718.9L2139.3 719.3L2140.2 719.9L2141.2 720.7L2142.2 721L2143.3 720.8L2144.4 720.9L2145.5 721.3L2146.6 722.1L2147.8 724.5L2148.9 727L2150 729.5L2151.1 732.4L2152 732.9L2152.9 733.6L2153.7 734.5L2154.4 735.4L2155 736.3" stroke="#2c4096" stroke-width="5.8"/>
<path d="M330 1742.5L330.8 1742.5L331.7 1742.5L332.6 1742.5L333.6 1742.5L334.7 1742.5L335.8 1742.5L337.1 1742.5L338.3 1742.5L339.6 1742.5L341 1742.5L342.4 1742.5L343.9 1742.5L345.4 1742.5L347 1742.5L348.5 1742.5L350.2 1742.5L351.8 1742.5L353.5 1742.5L355.2 1742.5L356.9 1742.5L358.6 1742.5L360.3 1742.5L362.1 1742.5L363.8 1742.5L365.6 1742.5L367.4 1742.5L369.1 1742.5L370.8 1742.5L372.6 1742.5L374.3 1742.5L376 1742.5L377.7 1742.5L379.3 1742.5L381 1742.5L382.6 1742.5L384.1 1742.5L385.7 1742.5L387.2 1742.5L388.6 1742.5L390 1742.5L391.7 1742.5L393.4 1742.5L395.1 1742.5L396.8 1742.5L398.5 1742.5L400.2 1742.5L401.9 1742.5L403.6 1742.5L405.4 1742.5L407.1 1742.5L408.8 1742.5L410.5 1742.5L412.2 1742.5L413.8 1742.5L415.5 1742.5L417.1 1742.5L418.7 1742.5L420.3 1742.5L421.9 1742.5L423.5 1742.5L425 1742.5L426.4 1742.5L427.9 1742.5L429.3 1742.5L430.7 1742.5L432 1742.5L433.3 1742.5L434.5 1742.5L435.7 1742.5L436.9 1742.5L438 1742.5L439 1742.5L440 1742.5L443.4 1742.5L446 1742.5L447.8 1742.5L449.1 1742.4L450.1 1742.4L451 1742.3L451.9 1742.2L453 1742L454.9 1741.7L456.6 1741.3L458 1740.8L459.5 1740.1L461 1739L462 1738.1L463 1737.2L464.1 1736.2L465.1 1735L466.1 1733.7L467.1 1732.3L468.1 1730.7L469 1729L469.5 1727.9L470 1726.7L470.4 1725.5L470.8 1724.3L471.2 1723L471.6 1721.7L471.9 1720.3L472.3 1718.8L472.8 1717.2L473.2 1715.6L473.8 1713.8L474.3 1712L475 1710L475.4 1708.9L475.8 1707.8L476.2 1706.7L476.6 1705.6L477.1 1704.4L477.6 1703.3L478 1702.1L478.5 1701L479 1699.8L479.5 1698.5L480 1697.2L480.6 1695.9L481.1 1694.6L481.6 1693.2L482.2 1691.8L482.7 1690.3L483.2 1688.7L483.8 1687.1L484.3 1685.4L484.9 1683.7L485.4 1681.9L485.9 1680L486.5 1678L487 1676L487.3 1674.8L487.6 1673.7L487.9 1672.5L488.2 1671.2L488.4 1670L488.7 1668.7L489 1667.4L489.3 1666.1L489.6 1664.7L489.9 1663.4L490.2 1662L490.6 1660.6L490.9 1659.1L491.2 1657.7L491.5 1656.2L491.8 1654.7L492.1 1653.2L492.4 1651.7L492.7 1650.2L493 1648.7L493.3 1647.1L493.6 1645.6L493.9 1644L494.2 1642.4L494.5 1640.8L494.8 1639.2L495.1 1637.6L495.5 1636L495.8 1634.4L496.1 1632.8L496.3 1631.1L496.6 1629.5L496.9 1627.9L497.2 1626.2L497.5 1624.6L497.8 1623L498.1 1621.3L498.4 1619.7L498.7 1618.1L498.9 1616.5L499.2 1614.8L499.5 1613.2L499.7 1611.6L500 1610L500.2 1608.6L500.5 1607.2L500.7 1605.7L500.9 1604.3L501.1 1602.8L501.3 1601.4L501.6 1599.9L501.8 1598.4L502 1596.9L502.2 1595.4L502.4 1593.9L502.6 1592.4L502.8 1590.9L503 1589.4L503.2 1587.9L503.4 1586.4L503.6 1584.8L503.8 1583.3L504 1581.8L504.2 1580.2L504.4 1578.7L504.6 1577.2L504.8 1575.6L505 1574.1L505.2 1572.5L505.4 1571L505.6 1569.5L505.8 1567.9L506 1566.4L506.2 1564.8L506.4 1563.3L506.6 1561.8L506.8 1560.2L506.9 1558.7L507.1 1557.2L507.3 1555.6L507.5 1554.1L507.7 1552.6L507.9 1551.1L508.1 1549.6L508.3 1548.1L508.5 1546.6L508.7 1545.1L508.8 1543.7L509 1542.2L509.2 1540.7L509.4 1539.3L509.6 1537.9L509.8 1536.4L510 1535L510.2 1533.4L510.4 1531.8L510.7 1530.2L510.9 1528.6L511.1 1527L511.3 1525.4L511.5 1523.8L511.8 1522.2L512 1520.6L512.2 1519L512.4 1517.5L512.6 1515.9L512.8 1514.3L513.1 1512.8L513.3 1511.2L513.5 1509.6L513.7 1508.1L513.9 1506.5L514.1 1505L514.4 1503.5L514.6 1501.9L514.8 1500.4L515 1498.9L515.2 1497.4L515.4 1495.8L515.6 1494.3L515.9 1492.8L516.1 1491.4L516.3 1489.9L516.5 1488.4L516.7 1486.9L516.9 1485.4L517.1 1484L517.3 1482.5L517.5 1481.1L517.7 1479.6L518 1478.2L518.2 1476.8L518.4 1475.4L518.6 1474L518.8 1472.6L519 1471.2L519.2 1469.8L519.4 1468.4L519.6 1466.7L519.9 1465.1L520.1 1463.4L520.4 1461.8L520.6 1460.1L520.9 1458.5L521.1 1456.9L521.4 1455.3L521.6 1453.7L521.8 1452.1L522.1 1450.6L522.3 1449L522.6 1447.5L522.8 1445.9L523 1444.4L523.3 1442.9L523.5 1441.4L523.7 1439.9L524 1438.4L524.2 1436.9L524.4 1435.4L524.7 1433.9L524.9 1432.5L525.1 1431L525.4 1429.6L525.6 1428.1L525.9 1426.7L526.1 1425.3L526.3 1423.9L526.6 1422.5L526.8 1421.1L527 1419.7L527.3 1418.3L527.5 1416.9L527.8 1415.6L528 1414.2L528.3 1412.5L528.6 1410.9L528.9 1409.3L529.2 1407.7L529.5 1406.1L529.8 1404.6L530.1 1403.1L530.4 1401.5L530.7 1400.1L531 1398.6L531.3 1397.1L531.6 1395.6L531.9 1394.2L532.2 1392.8L532.5 1391.3L532.8 1389.9L533.1 1388.5L533.5 1387L533.8 1385.6L534.1 1384.2L534.4 1382.7L534.7 1381.3L535 1379.8L535.3 1378.4L535.6 1376.9L535.9 1375.4L536.2 1373.9L536.5 1372.3L536.8 1370.8L537.1 1369.3L537.4 1367.9L537.6 1366.4L537.9 1364.9L538.2 1363.4L538.5 1361.9L538.7 1360.4L539 1358.9L539.3 1357.4L539.5 1355.9L539.8 1354.4L540.1 1352.8L540.4 1351.3L540.6 1349.8L540.9 1348.2L541.2 1346.7L541.4 1345.2L541.7 1343.6L542 1342.1L542.3 1340.6L542.6 1339L542.9 1337.5L543.1 1336L543.4 1334.5L543.7 1332.9L544 1331.4L544.3 1329.9L544.6 1328.4L545 1326.9L545.3 1325.4L545.6 1323.9L545.9 1322.4L546.3 1320.9L546.6 1319.4L546.9 1318L547.2 1316.5L547.6 1315L547.9 1313.5L548.2 1312.1L548.6 1310.6L548.9 1309.1L549.3 1307.7L549.6 1306.2L550 1304.7L550.3 1303.3L550.7 1301.8L551 1300.3L551.4 1298.9L551.8 1297.4L552.1 1295.9L552.5 1294.5L552.9 1293L553.3 1291.6L553.7 1290.1L554.1 1288.6L554.5 1287.2L554.9 1285.7L555.3 1284.3L555.7 1282.8L556.1 1281.3L556.6 1279.9L557 1278.4L557.4 1277L557.9 1275.5L558.3 1274L558.8 1272.6L559.2 1271.1L559.7 1269.5L560.2 1268L560.6 1266.5L561.1 1265L561.6 1263.4L562.1 1261.9L562.6 1260.3L563.1 1258.8L563.6 1257.3L564.1 1255.7L564.6 1254.2L565.1 1252.7L565.6 1251.2L566.2 1249.8L566.7 1248.3L567.2 1246.9L567.7 1245.4L568.2 1244L568.7 1242.7L569.2 1241.3L569.8 1240L570.3 1238.7L570.8 1237.5L571.3 1236.3L571.8 1235.1L572.3 1234L572.8 1232.9L573.7 1231.1L574.5 1229.4L575.4 1227.8L576.3 1226.3L577.1 1224.9L578 1223.6L578.8 1222.4L579.7 1221.3L580.5 1220.1L581.4 1219L582.2 1218L583.1 1216.9L584 1215.9L584.9 1214.8L585.9 1213.7L586.8 1212.6L587.8 1211.4L588.8 1210.2L589.7 1209L590.7 1207.9L591.6 1206.7L592.6 1205.5L593.6 1204.2L594.7 1203L595.7 1201.8L596.7 1200.5L597.8 1199.3L598.9 1198.1L599.9 1196.9L601 1195.7L602 1194.8L603.1 1194L604.2 1192.7L605.2 1191.3L606.2 1189.7L607.2 1188.2L608.2 1187.5L609.2 1187.1L610.6 1186.7L612 1186.3L613.4 1184.9L614.8 1183.1L616.1 1181.4L617.5 1181.1L618.9 1181.3L620.2 1181.6L621.5 1180.9L622.8 1179.5L624 1178.2L625.2 1176.8L626.3 1176.2L627.4 1175.8L628.5 1175.2L629.5 1174.5L630.5 1173L631.4 1171.1L632.3 1169.1L633.1 1167.2L633.9 1165.3L634.7 1163.7L635.5 1162.8L636.3 1162L637.1 1161.4L637.9 1161.1L638.8 1161L640.1 1160.6L641.4 1160.3L642.6 1160.6L643.9 1161.6L645.2 1163.9L646.6 1166.1L648.2 1168.5L650 1167.2L651.2 1166.1L652.5 1164.8L653.9 1165.8L655.3 1166.8L656.8 1167.8L658.3 1166.3L659.9 1164.4L661.5 1162.4L663.1 1163.3L664.8 1164.3L666.5 1164.3L668.3 1162.4L670 1160.5L671.4 1160.6L672.9 1161.6L674.5 1162.7L676.1 1161.6L677.8 1160.4L679.5 1159.2L681.2 1160L683 1160.7L684.7 1160.9L686.4 1159.5L688 1158.1L689.5 1158.2L691 1159.1L692.4 1159.9L693.6 1159.4L694.7 1158.5L695.7 1157.8L698.4 1155.7L698.8 1153.7L700 1154.4L700.6 1155L701.3 1155.6L702 1157L702.7 1158.9L703.6 1161.2L704.4 1164.1L705.3 1166.5L706.2 1167.4L707.1 1167.9L708 1168.4L709 1169.1L709.9 1171.6L710.8 1173.8L711.6 1175.5L712.5 1177.1L713.2 1175.8L714 1174L714.7 1171.9L715.4 1169.6L716.2 1167L716.9 1166.3L717.7 1165.6L718.4 1164.9L719.1 1164.1L719.9 1163.4L720.6 1162.2L721.3 1158.6L722.1 1155.2L722.8 1151.9L723.5 1149L724.3 1148.9L725 1150.3L726.1 1153.1L727.3 1156.7L728.4 1156.1L729.5 1155L730.6 1154.1L731.8 1155.8L732.9 1160.3L734 1164.7L735.1 1167.8L736.3 1165.8L737.4 1163L738.1 1160.8L738.9 1158.8L739.6 1159.4L740.3 1159.7L741 1159.9L741.8 1159.9L742.5 1159.8L743.2 1156.1L744 1152.5L744.7 1148.9L745.4 1145.4L746.1 1142.1L746.9 1141.9L747.6 1142.4L748.3 1143.2L749.1 1144.3L749.8 1145.9L750.5 1144.1L751.3 1143.6L752 1143.4L752.7 1143.4L753.5 1143.8L754.2 1145.6L754.9 1148.4L755.7 1151.3L756.4 1154.3L757.1 1157.2L757.9 1159.3L758.6 1159.8L759.4 1160.2L760.1 1160.4L760.8 1160.4L761.6 1161.1L762.3 1162.9L763.7 1165.7L765.1 1168.5L766.5 1164.9L767.9 1161L769.3 1158.9L770.6 1160.5L772 1162.1L773.4 1160.1L774.8 1155.9L776.2 1152.3L777.6 1155.3L778.9 1158.8L780.3 1161.2L781.7 1158L783.1 1154.2L784.4 1152.9L785.8 1153.8L787.2 1153.3L787.4 1153L787.7 1151.7L787.9 1149.9L788.2 1148L788.4 1145.9L788.7 1143.8L788.9 1141.5L789.2 1139.1L789.4 1136.6L789.7 1134L789.9 1131.4L790.2 1128.7L790.4 1125.9L790.7 1123L790.9 1120.1L791.2 1117.1L791.5 1115.2L791.7 1113.5L792 1111.7L792.2 1110L792.5 1108.3L792.7 1106.5L793 1104.6L793.2 1102.8L793.5 1100.9L793.8 1098.9L794 1097L794.3 1095L794.5 1093.1L794.8 1091.1L795 1088.1L795.3 1085.8L795.5 1083.7L795.7 1081.7L796 1079.8L796.2 1078L796.5 1076.4L796.7 1074.9L796.9 1073.6L797.2 1072.4L797.4 1071.4L797.6 1070.6L797.8 1069.9L798.1 1069.5L798.3 1069.1L798.5 1068.9L798.7 1069L798.9 1069.2L799.1 1069.6L799.3 1070.2L799.5 1071L799.7 1072.1L799.8 1072.6L799.8 1073.1L799.9 1073.7L800 1074.3L800.1 1075L800.1 1075.7L800.2 1076.5L800.3 1077.3L800.3 1078.2L800.4 1079.1L800.5 1080L800.6 1081L800.6 1082L800.7 1083.1L800.8 1084.1L800.8 1085.3L800.9 1086.4L800.9 1087.6L801 1088.8L801.1 1090.1L801.1 1091.4L801.2 1092.7L801.3 1094.1L801.3 1095.5L801.4 1096.9L801.4 1098.3L801.5 1099.8L801.6 1101.3L801.6 1102.8L801.7 1104.3L801.7 1105.9L801.8 1107.5L801.9 1109.1L801.9 1110.8L802 1112.4L802 1114.1L802.1 1115.8L802.1 1117.6L802.2 1119.3L802.2 1121.1L802.3 1122.9L802.4 1124.7L802.4 1126.5L802.5 1128.3L802.5 1130.2L802.6 1132.1L802.6 1133.9L802.7 1135.8L802.7 1137.7L802.8 1139.6L802.8 1141.6L802.9 1143.5L802.9 1145.5L803 1147.4L803 1149.4L803.1 1151.3L803.1 1153.3L803.2 1155.3L803.2 1157.3L803.3 1159.3L803.3 1161.3L803.4 1163.3L803.4 1165.3L803.5 1167.3L803.5 1169.3L803.6 1171.3L803.6 1173.2L803.7 1175.2L803.7 1177.2L803.8 1179.2L803.8 1181.2L803.9 1183.2L803.9 1185.2L804 1187.1L804 1189.2L804.1 1191.2L804.1 1193.2L804.2 1195.2L804.2 1197.2L804.3 1199.2L804.3 1201.2L804.4 1203.1L804.4 1205.1L804.5 1207L804.5 1209L804.6 1210.9L804.6 1212.8L804.7 1214.7L804.7 1216.6L804.8 1218.4L804.8 1220.3L804.9 1222.1L804.9 1223.9L805 1225.7L805 1227.5L805.1 1229.2L805.1 1230.9L805.2 1232.6L805.2 1234.3L805.3 1236L805.3 1237.6L805.4 1239.2L805.4 1240.8L805.5 1242.4L805.6 1243.9L805.6 1245.4L805.7 1246.9L805.7 1248.3L805.8 1249.7L805.8 1251.1L805.9 1252.5L805.9 1253.8L806 1255.1L806 1256.3L806.1 1257.6L806.2 1258.7L806.2 1259.9L806.3 1261L806.3 1262.1L806.4 1263.1L806.5 1264.1L806.5 1265L806.6 1266L806.6 1266.8L806.7 1267.7L806.8 1268.4L806.8 1269.2L806.9 1269.9L806.9 1270.5L807 1271.1L807.1 1271.7L807.1 1272.2L807.2 1272.7L807.3 1273.5L807.5 1274.1L807.6 1274.6L807.7 1274.9L807.9 1275.1L808 1275.2L808.1 1274.9L808.3 1274.4L808.4 1273.7L808.5 1273L808.7 1272.1L808.8 1271.1L809 1269.9L809.1 1268.7L809.2 1267.4L809.4 1265.9L809.5 1264.4L809.7 1262.8L809.8 1261.1L809.9 1259.3L810.1 1257.4L810.2 1255.5L810.4 1253.5L810.5 1251.4L810.7 1249.3L810.8 1247.1L811 1244.8L811.1 1242.5L811.2 1240.2L811.4 1237.8L811.5 1235.4L811.7 1233L811.8 1230.5L812 1228L812.1 1225.8L812.3 1223.6L812.4 1221.4L812.6 1219.2L812.7 1217L812.9 1214.8L813.1 1212.6L813.2 1210.5L813.4 1208.3L813.5 1206.2L813.7 1204.1L813.8 1202.1L814 1200L814.1 1198.1L814.3 1196.1L814.5 1194.3L814.6 1192.4L814.8 1190.7L814.9 1189L815.1 1187.4L815.3 1185.8L815.4 1184.4L815.6 1183L815.8 1181.7L815.9 1180.5L816.1 1178.9L816.3 1177.6L816.4 1176.4L816.6 1175.3L816.8 1174.3L816.9 1173.4L817.1 1172.6L817.7 1170.7L818.2 1169.6L818.8 1169.3L819.4 1169.5L820 1170.4L820.7 1172.8L821.3 1175.5L821.9 1178.6L822.6 1181.8L823.2 1185.2L823.8 1188.6L824.5 1190.7L825.1 1192.9L825.8 1194.8L826.4 1196.4L827.1 1197.7L827.7 1198.4L828.3 1199L829 1199.3L829.6 1198.9L829.8 1198.5L830.1 1198.1L830.3 1197.4L830.6 1196.7L830.8 1195.9L831.1 1195L831.3 1193.9L831.6 1192.8L831.8 1191.6L832.1 1190.6L832.3 1188.9L832.6 1187L832.8 1185.1L833.1 1183.2L833.3 1181.2L833.6 1179.1L833.8 1177L834.1 1174.9L834.3 1172.7L834.6 1170.5L834.9 1168.2L835.1 1166L835.4 1163.7L835.6 1161.4L835.9 1159.1L836.1 1157.1L836.4 1155.2L836.6 1153.4L836.9 1151.6L837.1 1149.8L837.3 1148L837.6 1146.3L837.8 1144.6L838.1 1142.9L838.3 1141.3L838.5 1139.8L838.8 1138.2L839 1136.8L839.2 1135.4L839.5 1134.1L839.7 1132.8L839.9 1131.7L840.1 1129.9L840.4 1128.5L840.6 1127.3L840.8 1126.2L841 1125.2L841.2 1124.3L841.4 1123.5L841.6 1122.9L841.8 1122.4L842 1122L842.3 1121.7L842.5 1121.6L842.7 1121.7L843 1122L843.2 1122.5L843.4 1123.1L843.6 1123.9L843.8 1124.9L844 1126L844.2 1127.5L844.4 1129.1L844.6 1130.8L844.7 1132.6L844.9 1134.5L845.1 1136.4L845.2 1138.5L845.4 1140.6L845.6 1142.7L845.7 1144.9L845.9 1147.1L846.1 1149.3L846.2 1151.6L846.4 1153.8L846.6 1156.1L846.8 1158.3L846.9 1160.5L847.1 1162.7L847.3 1164.8L847.5 1166.9L847.7 1168.9L847.9 1170.8L848.1 1173.7L848.3 1175L848.5 1176.3L848.8 1177.4L849 1178.4L849.2 1179.2L849.5 1179.9L850.4 1181.7L851.5 1183.1L852.6 1185.4L853.7 1188.6L854.8 1191.5L856 1193.9L857.3 1193.2L858.5 1192.2L859.7 1190.8L860.8 1191.1L862 1191.7L862.5 1191.8L863.1 1191.6L863.6 1191.2L864.2 1189.8L864.7 1188L865.2 1185.9L865.8 1183.8L866.3 1181.5L866.9 1179.2L867.4 1176.8L867.9 1174.4L868.5 1172.8L869 1171.4L869.5 1170.1L870.1 1168.8L870.6 1167.6L871.2 1166.5L871.7 1165.5L872.2 1164L872.8 1162.4L873.3 1161.1L873.9 1160L874.4 1159.1L875.3 1158.2L876.2 1158.3L877.1 1159.9L878 1162L879 1164.4L879.9 1167L880.8 1169.1L881.7 1170L882.6 1170.9L883.5 1171.7L884.4 1173.1L885.2 1175.2L886.1 1176.8L886.9 1177.9L887.6 1178.2L888.2 1177.2L888.8 1175.4L889.4 1173.3L890 1171L890.6 1168.5L891.2 1165.9L891.8 1163.3L892.3 1161.2L892.9 1159.7L893.5 1158.2L894 1156.9L894.6 1155.8L895.2 1155L895.7 1154.5L896.3 1154.1L896.9 1153.2L897.5 1152.8L897.9 1152.8L898.4 1153.2L898.8 1154L899.2 1155.1L899.6 1156.3L900 1157.8L900.4 1160.2L900.8 1162.8L901.3 1165.4L901.8 1168L902.4 1170.6L903.1 1173.2L903.9 1175.7L904.7 1176.4L905.7 1176.4L906.8 1175.9L907.9 1175.1L909.1 1176.4L910.4 1177.9L911.8 1179.5L913.3 1177.9L914.8 1176.3L916.5 1175.7L918.2 1176.2L919.9 1175.6L921.6 1175.1L923.3 1175.1L925 1174.8L926.7 1173.5L928.4 1172L930 1171.2L931.5 1171.7L933 1172.3L934.3 1172.9L935.6 1172.8L936.7 1172.3L938.4 1172L939.9 1172.2L941 1173.3L942 1175.2L942.9 1177.1L943.7 1179L944.5 1180.9L945.4 1182.7L946.4 1183.8L947.7 1184.2L949.2 1184.1L950.4 1183.8L951.7 1183.4L953 1183.8L954.4 1184.1L955.9 1184.4L957.4 1184.4L958.9 1183.2L960.5 1182L962.1 1180.7L963.8 1180.6L965.5 1180.9L967.2 1181.2L968.9 1181.1L970.6 1179.7L972.4 1178.3L974.1 1177.9L975.5 1178.8L977 1179.8L978.4 1180.9L980 1180.3L981.5 1180L983.1 1179.7L984.7 1179.5L986.2 1180.4L987.8 1181.2L989.5 1182.1L991.1 1182.3L992.7 1182L994.3 1181.8L995.8 1181.7L997.4 1182.5L998.9 1183.3L1000.5 1184L1001.9 1184.4L1003.4 1183.6L1004.8 1182.8L1006.5 1181.8L1008.2 1182.6L1009.8 1183.4L1011.4 1184.2L1013 1183.4L1014.5 1182.5L1016.1 1181.5L1017.6 1180.6L1019.1 1180.9L1020.6 1181.2L1022 1181.4L1023.5 1181.4L1025 1180.2L1026.5 1178.9L1028.1 1177.6L1029.6 1177.5L1031.1 1177.8L1032.5 1178.2L1034 1178.5L1035.4 1177.1L1036.9 1175.9L1038.4 1174.5L1039.8 1173.5L1041.3 1173.7L1042.7 1173.9L1044.2 1174L1045.6 1173.4L1047.1 1172.1L1048.6 1170.7L1050 1169.4L1051.5 1169L1052.9 1169L1054.4 1169L1055.8 1169.1L1057.2 1168.4L1058.5 1166.8L1059.9 1165.1L1061.3 1163.5L1062.7 1163.6L1064 1163.9L1065.4 1164.2L1066.8 1164.6L1068.2 1162.7L1069.6 1161.4L1070.9 1160.1L1072.3 1158.9L1073.7 1158.5L1075.1 1158.3L1076.4 1158.1L1077.8 1157.9L1079.2 1156.8L1080.4 1155.4L1081.6 1154L1082.8 1152.7L1084 1151.8L1085.1 1151.5L1086.2 1151.2L1087.4 1151L1088.5 1150.7L1089.7 1149.5L1090.8 1148.2L1092 1146.8L1093.2 1145.4L1094.4 1144L1095.6 1143.6L1096.9 1143.2L1098.2 1142.8L1099.6 1142.4L1101 1141.6L1102.5 1139.8L1104 1138L1105.1 1136.7L1106.3 1136.2L1107.5 1136.2L1108.7 1136.2L1109.9 1136.2L1111.2 1135.7L1112.4 1134.4L1113.7 1133.1L1115 1131.8L1116.4 1130.5L1117.7 1130.2L1119.1 1130.1L1120.4 1129.9L1121.8 1129.8L1123.2 1128.6L1124.6 1127.2L1126 1125.9L1127.4 1124.5L1128.8 1124.3L1130.2 1124.3L1131.6 1124.2L1133 1124.6L1134.4 1123L1135.8 1121.5L1137.2 1119.9L1138.5 1118.5L1139.9 1118.7L1141.2 1118.9L1142.6 1119.1L1144.1 1118.8L1145.5 1117.5L1146.9 1116.2L1148.4 1114.9L1149.8 1113.9L1151.2 1114L1152.6 1114L1154.1 1114.1L1155.5 1113.9L1156.9 1112.5L1158.4 1111.1L1159.8 1109.8L1161.2 1109.2L1162.7 1109.5L1164.1 1109.7L1165.5 1109.9L1167 1109.4L1168.4 1107.9L1169.8 1106.4L1171.2 1104.8L1172.7 1105L1174.1 1105.4L1175.5 1105.9L1177 1106.4L1178.4 1104.5L1179.9 1103.4L1181.4 1102.4L1182.9 1101.6L1184.4 1101.6L1185.8 1101.7L1187.3 1101.7L1188.8 1101.2L1190.3 1100.2L1191.8 1099.2L1193.3 1098.2L1194.8 1098.1L1196.3 1098.2L1197.7 1098.2L1199.2 1098.3L1200.7 1097.3L1202.2 1096.2L1203.7 1095.2L1205.2 1094.7L1206.7 1094.9L1208.2 1095.1L1209.6 1095.3L1211.1 1095L1212.6 1093.6L1214.1 1092.3L1215.6 1091.1L1217.1 1091.7L1218.5 1092.3L1220 1092.9L1221.4 1092.8L1222.8 1091.6L1224.3 1090.5L1225.7 1089.4L1227.1 1089L1228.5 1089.5L1229.9 1090.1L1231.3 1090.6L1232.7 1090L1234.1 1089.1L1235.6 1088.3L1237 1087.4L1238.5 1087.3L1240 1087.7L1241.5 1088.1L1243 1088.5L1244.6 1087.5L1246.1 1086.5L1247.8 1085.5L1249.4 1085.2L1251.1 1085.7L1252.8 1086.1L1254.1 1086.2L1255.5 1085.4L1256.8 1084.6L1258.2 1083.7L1259.6 1083L1261.1 1083.3L1262.5 1083.6L1264 1083.9L1265.4 1084.1L1266.9 1083.1L1268.4 1082L1269.9 1080.9L1271.4 1080.8L1273 1081.3L1274.5 1081.8L1276.1 1081.8L1277.6 1080.9L1279.2 1080.1L1280.7 1079.2L1282.3 1078.9L1283.8 1079.2L1285.4 1079.4L1287 1079.6L1288.5 1079.1L1290.1 1077.8L1291.7 1076.6L1293.2 1076.2L1294.8 1076.8L1296.3 1077.4L1297.8 1078L1299.4 1077.1L1300.9 1075.7L1302.4 1074.4L1303.9 1073.6L1305.4 1074.3L1306.9 1075L1308.4 1075.7L1309.9 1075.2L1311.4 1073.8L1312.9 1072.4L1314.4 1070.9L1315.9 1071.6L1317.4 1072.3L1318.9 1073L1320.4 1072.9L1321.9 1071.6L1323.4 1070.3L1324.9 1069.1L1326.4 1069L1328 1069.5L1329.5 1070.1L1331 1070.7L1332.5 1069.6L1334 1068.2L1335.5 1066.8L1337 1066L1338.5 1066.7L1340 1067.5L1341.5 1068.2L1343 1066.9L1344.5 1066L1346 1065.2L1347.5 1064.4L1349 1064.5L1350.5 1064.7L1352 1064.9L1353.5 1065L1355 1064L1356.6 1063L1358.1 1062L1359.6 1062.1L1361.2 1062.5L1362.7 1062.9L1364.3 1063.7L1365.9 1062.3L1367.4 1060.9L1369 1059.5L1370.6 1059.6L1372.1 1060.5L1373.7 1061.3L1375.2 1061.6L1376.8 1060.3L1378.3 1059.1L1379.9 1057.8L1381.4 1057.7L1383 1058.4L1384.5 1059.1L1386 1059.8L1387.5 1058.3L1389 1057.3L1390.4 1056.3L1391.9 1055.6L1393.3 1056L1394.8 1056.4L1396.2 1056.8L1397.6 1057L1398.9 1055.7L1400.3 1054.4L1401.6 1053.1L1403.3 1052.5L1404.9 1053.2L1406.5 1053.8L1408.2 1053.8L1409.8 1052.3L1411.4 1050.9L1412.9 1049.4L1414.5 1049L1416 1049.3L1417.5 1049.6L1419 1050L1420.5 1048.4L1422 1046.8L1423.4 1045.2L1424.8 1044.1L1426.2 1044.4L1427.6 1044.7L1428.9 1045L1430.3 1044.4L1431.6 1043.2L1432.8 1042.1L1434.1 1041L1435.3 1039.9L1436.5 1039.7L1437.7 1039.7L1438.8 1039.7L1440.7 1039.8L1442.3 1038.5L1443.9 1037.2L1445.3 1035.9L1446.6 1034.9L1447.9 1034.7L1449.1 1034.6L1450.3 1034.5L1451.5 1034.4L1452.7 1033.9L1454 1032.7L1455.3 1031.4L1456.7 1030.4L1458.3 1030L1460 1029.5L1461.2 1029.1L1462.5 1028.5L1463.8 1027.5L1465.1 1026.3L1466.5 1026.3L1467.9 1026.5L1469.4 1026.7L1470.9 1026.2L1472.4 1024.6L1473.9 1023L1475.5 1022L1477 1022.4L1478.5 1022.8L1480 1024L1481.5 1021.9L1483 1019.9L1484.5 1017.8L1485.9 1017.7L1487.3 1018.5L1488.7 1019.3L1490 1019.1L1491.3 1017.8L1492.5 1016.5L1494.2 1014.7L1495.8 1014L1497.4 1014.3L1498.9 1014.6L1500.4 1013.9L1501.9 1012.6L1503.3 1011.3L1504.7 1010L1506 1009.6L1507.3 1009.6L1508.6 1009.5L1509.8 1009.4L1511 1008.4L1512.1 1007.2L1513.2 1006.1L1514.2 1004.9L1515.7 1003.7L1517.1 1003.1L1518.2 1002.3L1519.3 1001.5L1520.3 1000.5L1521.2 998.8L1522.1 997.2L1523 995.7L1524 994.5L1525 993.4L1526.5 994.2L1528 995.7L1529.4 997.6L1530.9 999.2L1532.4 998.9L1534 998L1535.8 997.7L1536.8 998.1L1537.8 998.4L1538.9 998.5L1539.9 998.5L1541 996.2L1542.1 994.3L1543.3 992.4L1544.5 990.4L1545.7 989.3L1547 988.9L1548.3 988.6L1549.6 988.5L1551 987.1L1552.3 985.6L1553.6 984.2L1555 982.7L1556.4 983L1557.9 983.4L1559.4 983.8L1561 982.9L1562.5 981.6L1564 980.3L1565.6 979.6L1567.1 979.8L1568.5 980L1570 980.1L1571.4 979.3L1572.7 977.3L1574.1 975.1L1575.4 973.7L1576.6 974L1577.8 974.3L1579 974.5L1580.2 973.6L1581.3 971.8L1582.5 970L1583.7 968.2L1584.9 966.4L1586.1 966.1L1587.3 966.1L1588.6 966.1L1590 965.9L1591.3 964.5L1592.7 963L1594.1 961.6L1595.5 960.7L1596.9 960.9L1598.4 961.1L1599.8 961.3L1601.3 960L1602.8 958.8L1604.3 957.5L1605.8 957L1607.3 957.2L1608.8 957.4L1610.2 957.4L1611.7 956.2L1613.2 955L1614.7 953.8L1616.2 953.7L1617.7 953.9L1619.2 954.2L1620.8 953.9L1622.3 952.6L1623.8 951.4L1625.3 950.4L1626.7 950.8L1628.2 951.2L1629.5 951.5L1630.9 951.4L1632.1 950L1633.3 948.6L1635.1 946.8L1636.8 947.9L1638.4 948.9L1639.9 949.8L1641.3 948.2L1642.6 947.1L1643.9 945.9L1645.1 944.7L1646.3 944.4L1647.2 943.8L1648.1 942.9L1648.9 941.8L1649.7 940.5L1650.4 938.6L1651.1 936.5L1651.9 934.5L1652.6 932.6L1653.3 931L1654.1 929.6L1655 928.6L1656.3 929.1L1657.6 930.4L1658.9 932.2L1660.3 934.5L1661.7 934.9L1663.1 935.1L1664.5 934.8L1665.9 935.1L1666.9 935.3L1667.9 935.1L1668.9 934.5L1669.8 933.7L1670.8 931.4L1671.8 929.1L1672.8 926.9L1673.8 924.9L1674.7 923.2L1675.7 922.6L1676.7 922.8L1677.8 923.8L1678.9 925.4L1680.1 928.5L1681.2 929.1L1682.4 929.8L1683.5 930.5L1684.6 931L1685.6 932.3L1686.6 933.7L1687.5 934.2L1687.9 934L1688.3 933.5L1688.7 932.7L1689.1 931.7L1689.4 930.4L1689.7 929L1690 926.2L1690.3 924.1L1690.6 922L1690.9 919.8L1691.2 917.7L1691.5 915.6L1691.8 913.6L1692.1 911.7L1692.4 910L1692.8 908.4L1693.2 907.1L1693.6 906L1694 905.2L1694.8 904.5L1695.7 905.4L1696.7 907L1697.7 909.2L1698.8 911.6L1699.9 914.2L1700.9 916.1L1702 917.1L1703 917.7L1704 917.8L1704.9 917.2L1705.6 917.1L1706.2 916.6L1706.9 915.7L1707.5 914.5L1708 913.1L1708.6 911.5L1709.2 909.8L1709.8 908.2L1710.4 906.5L1710.9 904.2L1711.5 902.2L1712.2 900.6L1712.8 899.4L1713.5 898.6L1714.1 898.5L1714.7 898.8L1715.2 899.8L1715.8 901.7L1716.4 904L1717 906.4L1717.6 908.9L1718.2 911.5L1718.9 914.2L1719.5 916.8L1720.1 918.6L1720.8 919.9L1721.5 921L1722.2 921.9L1722.9 922.3L1723.6 922.4L1724.4 922L1725 921.4L1725.7 921.3L1726.4 920.9L1727.1 920.3L1727.8 919.5L1728.5 918.6L1729.3 917.5L1730 917L1730.8 914.4L1731.6 911.8L1732.3 909.1L1733.1 906.5L1733.9 903.9L1734.6 901.3L1735.4 899.6L1736.1 898.8L1736.8 898.1L1737.5 897.5L1738.2 897.2L1738.9 897.1L1739.5 897.2L1740.6 896.3L1741.6 896.2L1742.5 896.7L1743.4 897.8L1744.3 899.2L1745.1 900.8L1746 903.4L1746.9 905.8L1748 907.8L1749.1 909.4L1750.4 909.4L1751.2 908.6L1752 907.4L1752.9 906L1753.8 904.4L1754.8 902.6L1755.8 901.5L1756.8 900.6L1757.8 899.6L1758.8 898.6L1759.9 897.5L1760.9 895.5L1762 893.2L1763.1 890.9L1764.1 888.7L1765.1 886.8L1766.1 886.3L1767.1 885.9L1768.1 885.7L1769 885.7L1769.9 885.9L1771.1 884.9L1772.3 884.8L1773.4 885.1L1774.5 885.8L1775.5 887.2L1776.6 889.3L1777.6 891.5L1778.6 893.7L1779.6 895.9L1780.6 897.6L1781.7 898.2L1782.8 898.5L1783.9 898.4L1785 897.8L1786 898.3L1787.1 898.5L1788.2 898.6L1789.3 898.4L1790.4 897.3L1791.6 895.4L1792.7 893.4L1793.9 891.3L1795 889.1L1796.1 888.3L1797.2 887.6L1798.3 886.9L1799.4 886.2L1800.4 885.9L1801.4 884L1802.4 882.3L1804.2 879.5L1805.9 878.8L1807.4 879.7L1809 880.8L1810.4 881.1L1811.9 879.5L1813.4 877.7L1815 875.7L1816.3 876.3L1817.7 876.9L1819 877.5L1820.4 877L1821.8 875.3L1823.1 873.6L1824.5 871.9L1825.8 871.3L1827.1 871.5L1828.4 871.7L1829.7 871.7L1831 869.7L1832.3 868.1L1833.5 866.4L1834.7 864.8L1835.9 864.1L1837.2 863.7L1838.6 863.5L1840 863.8L1841.4 862.5L1842.8 861.3L1844.4 860.3L1845.9 860.4L1847.5 861.3L1849.1 862.1L1850.7 862.1L1852.2 861L1853.6 859.8L1855 858.8L1856.4 858.7L1857.7 857.9L1859 856.6L1860.2 854.9L1861.4 853.5L1862.6 852.6L1863.7 851.6L1864.8 850.4L1866 849.4L1867 849.1L1868 850.4L1869 852.8L1870 855.5L1871 858.3L1872 861L1873 862.5L1874 862.4L1875 861.6L1876 859.8L1876.5 858.6L1877 858.3L1877.5 857.8L1878 857L1878.5 856.1L1879 855L1879.5 853.8L1880 852.5L1880.5 851.1L1881 849.7L1881.5 846.1L1882 843.7L1882.5 841.4L1883 839.1L1883.5 836.9L1884 834.9L1884.5 833L1885 831.4L1885.5 830L1886 829.5L1886.5 829.3L1887 829.5L1887.5 830L1888 830.9L1888.5 832.1L1889 833.6L1889.4 835.4L1889.9 837.5L1890.4 839L1890.8 840.7L1891.3 842.5L1891.8 844.4L1892.2 846.3L1892.7 848.2L1893.2 849.9L1893.6 851.6L1894.1 853.2L1894.6 854.6L1895 856.3L1895.5 857.8L1896 859L1896.5 859.8L1897 860.2L1897.4 860.2L1897.9 859.8L1898.3 859.2L1898.7 858.3L1899.2 858.2L1899.6 856L1900 853.7L1900.5 851.2L1900.9 848.5L1901.4 845.8L1901.8 843.1L1902.2 840.3L1902.7 837.5L1903.2 834.8L1903.6 832.4L1904.1 831L1904.5 829.8L1905 828.7L1905.5 827.9L1906 827.3L1906.5 826.9L1907 826.9L1907.5 827.2L1908 827.3L1908.4 827.2L1908.8 827.3L1909.3 827.6L1909.7 828.1L1910.1 828.8L1910.6 829.7L1911 830.7L1911.5 831.8L1912 833.1L1912.4 834.5L1912.9 836.8L1913.4 839.3L1913.9 841.8L1914.3 844.4L1914.8 847L1915.3 849.6L1915.8 852.2L1916.3 854.8L1916.7 857.3L1917.2 860L1917.7 861.3L1918.1 862.5L1918.6 863.5L1919.1 864.5L1919.5 865.3L1919.9 866L1920.4 866.4L1920.8 866.7L1921.2 866.8L1921.6 867L1922 867.7L1922.4 868.1L1922.8 868.2L1923.2 868L1923.6 867.6L1923.9 866.9L1924.3 866L1924.6 865L1925 863.7L1925.3 862.3L1925.7 860.8L1926 859.1L1926.3 855.7L1926.6 853.2L1927 850.7L1927.3 848.2L1927.6 845.7L1927.9 843.2L1928.2 840.7L1928.6 838.4L1928.9 836.1L1929.2 834L1929.5 832L1929.9 830.1L1930.2 828.5L1930.6 827.1L1930.9 826.5L1931.3 826.2L1931.6 826.1L1932 826.3L1932.4 826.8L1932.7 827.6L1933.1 828.6L1933.5 829.8L1933.8 831.3L1934.2 832.9L1934.6 834.7L1935 836.7L1935.4 838.8L1935.8 840.2L1936.2 841.7L1936.5 843.2L1936.9 844.8L1937.3 846.5L1937.7 848.2L1938.1 849.9L1938.5 851.5L1938.9 853.2L1939.3 854.8L1939.7 856.9L1940.1 859.4L1940.5 861.8L1940.9 864.1L1941.3 866.2L1941.7 868.2L1942.1 870L1942.5 871.6L1942.9 873L1943.3 874.2L1943.6 875.2L1944 875.4L1944.4 874.9L1944.8 874.1L1945.2 873L1945.6 871.7L1946 870.1L1946.4 868.3L1946.8 866.4L1947.2 864.2L1947.6 862L1948 859.6L1948.4 857.1L1948.8 855.1L1949.2 853.4L1949.6 851.6L1950 849.8L1950.3 848L1950.7 846.3L1951.1 844.6L1951.5 843L1951.9 841.6L1952.3 840.2L1952.7 839.1L1953 838.2L1953.4 836.5L1953.8 835.1L1954.2 833.9L1954.6 832.9L1955 832.3L1955.4 832L1955.8 831.9L1956.2 832.2L1956.6 832.7L1957 833.4L1957.4 834.4L1957.8 836.3L1958.2 838.5L1958.6 840.9L1959 843.3L1959.4 845.9L1959.8 848.5L1960.2 851.2L1960.6 853.9L1961 856.6L1961.4 859.2L1961.9 861.8L1962.3 863.7L1962.7 865.1L1963.1 866.4L1963.5 867.6L1963.9 868.6L1964.3 869.4L1964.7 869.9L1965.2 870.2L1965.6 870.3L1966 870L1966.5 869.3L1966.9 869.4L1967.4 869.2L1967.9 868.7L1968.4 868L1968.9 867L1969.3 865.9L1969.8 864.7L1970.3 863.3L1970.8 861.8L1971.3 859.1L1971.8 856.4L1972.3 853.7L1972.8 851.1L1973.3 848.4L1973.8 845.8L1974.3 843.4L1974.8 841L1975.2 838.8L1975.7 837.2L1976.2 836.3L1976.6 835.6L1977.1 835.2L1977.6 835.1L1978 835.2L1978.5 835.8L1979 836.8L1979.5 838.2L1979.9 839.8L1980.4 840.4L1980.9 841.8L1981.3 843.5L1981.8 845.2L1982.2 847.1L1982.7 849.1L1983.1 851.1L1983.6 853.1L1984 855.1L1984.4 857L1984.9 859.2L1985.3 861.4L1985.8 863.4L1986.2 865.1L1986.7 866.6L1987.1 867.7L1987.5 868.5L1988 868.8L1988.4 868.8L1988.7 868.5L1989.1 867.9L1989.5 866.6L1989.9 865L1990.2 863.2L1990.6 861.3L1991 859.2L1991.3 857L1991.7 854.7L1992.1 852.3L1992.4 849.8L1992.8 847.4L1993.2 844.9L1993.6 842.5L1993.9 840.6L1994.3 838.9L1994.7 837.1L1995 835.6L1995.4 834.1L1995.8 832.8L1996.1 831.7L1996.5 830.8L1996.9 830.1L1997.3 829.7L1997.6 829.5L1998 830.8L1998.4 830.5L1998.7 830.6L1999.1 830.9L1999.4 831.4L1999.8 832.2L2000.2 833.1L2000.5 834.3L2000.9 835.6L2001.3 837L2001.7 838.6L2002 840.2L2002.4 841.9L2002.8 844.3L2003.1 847L2003.5 849.7L2003.9 852.3L2004.2 854.9L2004.6 857.5L2004.9 859.9L2005.3 862.3L2005.6 864.4L2006 866.5L2006.3 868.3L2006.7 870L2007 871.4L2007.3 871.7L2007.7 871.8L2008 871.6L2008.3 871L2008.7 870.2L2009 869.1L2009.3 867.8L2009.6 866.2L2009.9 864.4L2010.2 862.5L2010.5 860.4L2010.8 858.2L2011.1 855.8L2011.4 853.4L2011.7 851.4L2012 849.6L2012.3 847.8L2012.6 846L2012.8 844.2L2013.1 842.4L2013.4 840.8L2013.7 839.2L2014 837.7L2014.3 836.4L2014.5 835.3L2014.8 834.3L2015.1 833.6L2015.4 833L2015.7 832.8L2016 832.9L2016.4 832.4L2016.8 832.3L2017.2 832.7L2017.6 833.5L2018 834.5L2018.4 835.9L2018.8 837.4L2019.2 839.1L2019.6 840.9L2020 842.8L2020.4 844.6L2020.8 847.2L2021.2 849.9L2021.6 852.5L2022 854.8L2022.4 856.9L2022.8 858.7L2023.2 860.1L2023.6 861.1L2024 861.6L2024.3 861.7L2024.6 861.5L2024.9 861.2L2025.2 859.3L2025.5 857.9L2025.8 856.4L2026.1 854.8L2026.4 853L2026.7 851.2L2027 849.2L2027.3 847.1L2027.6 845L2027.9 842.8L2028.1 840.6L2028.4 838.4L2028.7 836.2L2029 834L2029.3 831.8L2029.6 829.9L2029.9 828.3L2030.2 826.8L2030.5 825.4L2030.8 824.1L2031.1 822.9L2031.4 821.8L2031.7 820.9L2032 820.2L2033.2 818.5L2034.3 817.8L2035.5 815.8L2036.7 814.2L2037.9 812.6L2039 811.6L2040 811.2L2040.5 810.5L2040.9 809.3L2041.4 807.9L2041.8 806.3L2042.2 804.5L2042.6 802.7L2043 801.1L2043.4 798.5L2043.8 796.2L2044.2 794.1L2044.6 792.4L2045 791.1L2045.4 790.3L2045.8 790.1L2046 790.3L2046.3 790.6L2046.5 791.1L2046.7 791.8L2047 792.6L2047.2 793.5L2047.4 794.5L2047.7 796L2047.9 797.8L2048.1 799.7L2048.4 801.6L2048.6 803.6L2048.8 805.7L2049.1 807.8L2049.3 810L2049.6 812.1L2049.8 814.3L2050 816.5L2050.3 818.7L2050.5 820.8L2050.8 822.9L2051 825L2051.3 827L2051.5 829L2051.8 830.9L2052 832.4L2052.3 833.8L2052.5 835.4L2052.8 837.1L2053.1 839L2053.3 841L2053.6 843.1L2053.8 845.2L2054.1 847.4L2054.3 849.5L2054.6 851.6L2054.8 853.7L2055.1 855.6L2055.4 857.5L2055.7 859.2L2055.9 860.7L2056.2 862L2056.5 863.1L2056.8 864.5L2057.1 865.7L2057.4 866.6L2057.8 867.2L2058.1 867.4L2058.4 867.2L2058.8 866.7L2058.9 866.3L2059.1 865.8L2059.2 865.3L2059.4 864.6L2059.5 863.8L2059.7 863L2059.8 862L2060 861L2060.2 859.9L2060.3 858.7L2060.5 857.4L2060.6 856.1L2060.8 854.7L2061 853.2L2061.1 851.7L2061.3 849.7L2061.5 847.7L2061.6 845.7L2061.8 843.6L2062 841.4L2062.2 839.2L2062.3 837L2062.5 834.8L2062.7 832.5L2062.9 830.2L2063 827.9L2063.2 825.6L2063.4 823.3L2063.6 820.9L2063.8 818.6L2063.9 816.2L2064.1 813.9L2064.3 811.6L2064.5 809.3L2064.7 807L2064.9 804.7L2065 802.4L2065.2 800.2L2065.4 798L2065.6 796.1L2065.8 794.4L2066 792.8L2066.2 791.3L2066.3 789.7L2066.5 788.3L2066.7 786.9L2066.9 785.5L2067.1 784.3L2067.3 783.1L2067.4 781.9L2067.6 780.9L2067.8 779.9L2068 779.1L2068.2 778.3L2068.4 777.6L2068.5 777L2068.7 776.5L2068.9 776.1L2069.1 775.8L2069.2 775.7L2069.4 775.6L2069.6 775.7L2069.8 776L2070 776.4L2070.2 776L2070.4 776.3L2070.6 776.8L2070.8 777.3L2071 778L2071.2 778.9L2071.3 779.8L2071.5 780.9L2071.7 782L2071.9 783.3L2072.1 784.7L2072.3 786.1L2072.5 787.7L2072.7 789.3L2072.9 791L2073.1 792.8L2073.3 794.6L2073.5 796.5L2073.7 798.4L2073.9 800.4L2074.1 802.4L2074.3 804.4L2074.5 806.5L2074.7 808.9L2074.9 811.3L2075 813.8L2075.2 816.3L2075.4 818.8L2075.6 821.2L2075.8 823.7L2076 826.1L2076.2 828.5L2076.4 830.9L2076.6 833.2L2076.8 835.5L2077 837.7L2077.2 839.9L2077.4 842L2077.6 844L2077.8 845.9L2078 847.8L2078.2 849.6L2078.4 851.2L2078.6 852.8L2078.8 854.3L2078.9 855.6L2079.1 856.8L2079.3 857.5L2079.5 858.1L2079.7 858.5L2079.9 858.8L2080.1 859L2080.3 859L2080.5 858.8L2080.7 858.5L2080.9 858.1L2081.1 857.5L2081.2 856.8L2081.4 856L2081.6 855.1L2081.8 854.1L2082 853L2082.2 851.7L2082.4 850.4L2082.6 849L2082.8 847.5L2083 845.9L2083.2 844.2L2083.4 842.5L2083.5 840.8L2083.7 839.3L2083.9 837.8L2084.1 836.2L2084.3 834.6L2084.5 832.9L2084.7 831.2L2084.9 829.4L2085.1 827.6L2085.3 825.8L2085.5 823.9L2085.7 822.1L2085.9 820.2L2086.1 818.2L2086.3 816.3L2086.4 814.4L2086.6 812.5L2086.8 810.5L2087 808.6L2087.2 806.7L2087.4 804.8L2087.6 802.9L2087.8 801.1L2087.9 799.2L2088.1 797.2L2088.3 795.1L2088.5 793L2088.7 790.9L2088.8 788.9L2089 786.9L2089.2 785L2089.4 783.2L2089.5 781.4L2089.7 779.7L2089.9 778.1L2090 776.6L2090.2 775.2L2090.4 773.8L2090.5 772.5L2090.7 771.4L2090.8 770.3L2091 769.4L2091.2 768.6L2091.3 767.8L2091.7 766.3L2092.1 765.2L2092.5 764.6L2092.8 765.1L2093.1 766L2093.5 767.3L2093.8 768.8L2094.1 770.7L2094.4 772.7L2094.7 775L2094.9 777.4L2095.2 780L2095.5 782.6L2095.8 785.3L2096.1 788.1L2096.4 790.8L2096.7 793.6L2097 796.3L2097.3 797.6L2097.6 799.4L2098 801L2098.3 802.1L2098.5 803.2L2098.8 804.4L2099.1 805.7L2099.3 807L2099.6 808.3L2099.9 809.7L2100.2 811.1L2100.4 812.5L2100.7 813.9L2101 815.3L2101.3 816.8L2101.6 818.4L2101.9 820.3L2102.2 822.3L2102.5 824.2L2102.8 826.1L2103.1 828L2103.4 829.8L2103.7 831.6L2104 833.4L2104.3 835.2L2104.5 836.9L2104.8 838.6L2105.1 840.2L2105.4 841.7L2105.7 843.2L2106 844.6L2106.2 846.5L2106.5 847.2L2107.2 848.8L2107.9 850L2108.6 850.8L2109.3 851.3L2110 851.6L2110.6 852.2L2111.3 853.9L2112 855.7L2112.6 857.5L2113.3 859.5L2114 861.6L2114.7 864.1L2115.4 866.2L2116 867.6L2116.7 869.2L2117.4 870.7L2118.1 872L2118.8 872.9L2119.5 873.3L2120.2 874.8L2120.9 875.4L2121.6 875.1L2121.8 874.8L2122 874.4L2122.3 873.9L2122.5 873.2L2122.7 872.5L2122.9 871.8L2123.1 870.9L2123.4 870L2123.6 868.9L2123.8 867.9L2124 865.2L2124.2 863.6L2124.5 861.9L2124.7 860.2L2124.9 858.4L2125.1 856.6L2125.4 854.7L2125.6 852.8L2125.8 850.9L2126.1 849L2126.3 847L2126.5 845.1L2126.7 843.1L2127 841.1L2127.2 839.2L2127.4 837.2L2127.7 835.3L2127.9 833.3L2128.1 831.4L2128.4 829.6L2128.6 827.8L2128.8 826.3L2129.1 824.9L2129.3 823.4L2129.5 822.1L2129.8 820.8L2130 819.5L2130.3 818L2130.6 816.3L2130.8 814.6L2131.1 812.7L2131.4 810.8L2131.7 808.8L2132 806.8L2132.3 804.7L2132.6 802.6L2132.9 800.4L2133.2 799.5L2133.5 796.8L2133.8 794.2L2134 791.6L2134.3 789L2134.6 786.6L2134.9 784.2L2135.2 781.9L2135.5 779.8L2135.8 777.8L2136.1 775.9L2136.4 774.2L2136.7 772.7L2137 771.4L2137.3 770.2L2137.6 769.5L2137.9 769.6L2138.1 769.9L2138.4 770.5L2138.7 771.4L2139 772.5L2139.1 773.2L2139.3 773.9L2139.4 774.7L2139.5 775.6L2139.6 776.7L2139.8 777.8L2139.9 779L2140 780.2L2140.2 781.6L2140.3 783L2140.4 784.5L2140.5 786.1L2140.7 787.7L2140.8 789.4L2140.9 791.2L2141 793L2141.2 794.8L2141.3 796.8L2141.4 798.7L2141.6 800.7L2141.7 802.8L2141.8 804.9L2141.9 807L2142.1 808.9L2142.2 810.8L2142.3 812.7L2142.5 814.6L2142.6 816.5L2142.7 818.4L2142.8 820.3L2143 822.3L2143.1 824.3L2143.2 826.2L2143.3 828.2L2143.5 830.2L2143.6 832.1L2143.7 834.1L2143.8 836L2144 837.9L2144.1 839.8L2144.2 841.7L2144.3 843.6L2144.5 845.4L2144.6 847.2L2144.7 848.9L2144.8 850.7L2145 852.4L2145.1 854L2145.2 855.6L2145.3 857.2L2145.5 858.7L2145.6 860.1L2145.7 861.5L2145.8 862.8L2145.9 864.1L2146.1 865.3L2146.2 866.4L2146.3 867.4L2146.4 868.4L2146.5 869.4L2146.7 870.5L2146.8 871.5L2146.9 872.5L2147 873.3L2147.1 874L2147.3 874.7L2147.4 875.2L2147.5 875.7L2147.6 876L2147.7 876.3L2147.9 876.4L2148 876.4L2148.2 876.2L2148.3 876L2148.5 875.6L2148.6 875.1L2148.7 874.5L2148.9 873.8L2149 873L2149.2 872.1L2149.3 871.1L2149.5 870.1L2149.6 868.9L2149.8 867.7L2149.9 866.3L2150.1 864.9L2150.2 863.4L2150.4 861.9L2150.5 860.2L2150.7 858.5L2150.8 856.7L2151 854.9L2151.1 852.4L2151.3 850.2L2151.4 848L2151.6 845.8L2151.7 843.6L2151.8 841.3L2152 839.1L2152.1 836.8L2152.3 834.5L2152.4 832.3L2152.5 830.1L2152.7 827.8L2152.8 825.6L2152.9 823.4L2153 821.3L2153.2 819.1L2153.3 817L2153.4 815L2153.5 813L2153.6 811L2153.8 809.1L2153.9 807.2L2154 805.4L2154.1 803.6L2154.2 802L2154.3 800.4L2154.4 798.8L2154.5 797.4L2154.5 796L2154.6 794.7L2154.7 793.5L2154.8 792.4L2154.9 791.4L2154.9 790.5L2155 789.7" stroke="#257648" stroke-width="5.8"/>
</g>
<g fill="#4a4478"><circle cx="336" cy="1706" r="3.2"/><circle cx="343" cy="1716" r="3.2"/><circle cx="354.5" cy="1631" r="3.2"/><circle cx="363.6" cy="1618.9" r="3.2"/><circle cx="373.2" cy="1587.5" r="3.2"/><circle cx="381.8" cy="1555.6" r="3.2"/><circle cx="393" cy="1524.6" r="3.2"/><circle cx="410" cy="1497.3" r="3.2"/><circle cx="441.2" cy="1502" r="3.2"/><circle cx="451" cy="1470.7" r="3.2"/><circle cx="457" cy="1438.3" r="3.2"/><circle cx="462.1" cy="1405.7" r="3.2"/><circle cx="469.9" cy="1373.7" r="3.2"/><circle cx="473.8" cy="1341" r="3.2"/><circle cx="476" cy="1308.1" r="3.2"/><circle cx="478.3" cy="1275.2" r="3.2"/><circle cx="481" cy="1242.3" r="3.2"/><circle cx="484.3" cy="1209.4" r="3.2"/><circle cx="487.7" cy="1176.6" r="3.2"/><circle cx="491" cy="1143.8" r="3.2"/><circle cx="494.2" cy="1110.9" r="3.2"/><circle cx="497.5" cy="1078.1" r="3.2"/><circle cx="501" cy="1045.3" r="3.2"/><circle cx="504.6" cy="1012.5" r="3.2"/><circle cx="510.1" cy="980" r="3.2"/><circle cx="516.8" cy="947.7" r="3.2"/><circle cx="522.2" cy="915.1" r="3.2"/><circle cx="527.5" cy="882.5" r="3.2"/><circle cx="532.5" cy="849.9" r="3.2"/><circle cx="539.4" cy="817.7" r="3.2"/><circle cx="549.9" cy="786.4" r="3.2"/><circle cx="567.4" cy="758.5" r="3.2"/></g>
<g fill="#4a4478"><circle cx="588.4" cy="758.2" r="3.8"/><circle cx="618.7" cy="744" r="3.8"/><circle cx="636" cy="735.5" r="3.8"/><circle cx="649" cy="747.4" r="3.8"/><circle cx="664.3" cy="748.5" r="3.8"/><circle cx="679.4" cy="749.6" r="3.8"/><circle cx="688" cy="760.4" r="3.8"/><circle cx="707.6" cy="747.4" r="3.8"/><circle cx="718.5" cy="754" r="3.8"/><circle cx="740" cy="771.3" r="3.8"/><circle cx="753" cy="754" r="3.8"/><circle cx="760.6" cy="777.8" r="3.8"/><circle cx="774.7" cy="767" r="3.8"/><circle cx="776.9" cy="797.3" r="3.8"/><circle cx="784.4" cy="755" r="3.8"/><circle cx="793.1" cy="764.8" r="3.8"/><circle cx="811.5" cy="840.6" r="3.8"/><circle cx="826.7" cy="826.5" r="3.8"/><circle cx="832" cy="845" r="3.8"/><circle cx="835.4" cy="803.8" r="3.8"/><circle cx="839.7" cy="767" r="3.8"/><circle cx="846.2" cy="788.6" r="3.8"/><circle cx="857" cy="756" r="3.8"/><circle cx="863.6" cy="791.8" r="3.8"/><circle cx="871.2" cy="812.4" r="3.8"/><circle cx="883" cy="803.8" r="3.8"/><circle cx="896" cy="802.7" r="3.8"/><circle cx="916.7" cy="810.3" r="3.8"/><circle cx="935.1" cy="814.6" r="3.8"/><circle cx="960" cy="832" r="3.8"/><circle cx="986" cy="838.5" r="3.8"/><circle cx="1017.5" cy="851.5" r="3.8"/><circle cx="1040.8" cy="856.9" r="3.8"/><circle cx="1074.2" cy="861.8" r="3.8"/><circle cx="1109" cy="864.3" r="3.8"/><circle cx="1146.2" cy="864.3" r="3.8"/><circle cx="1178.4" cy="864.3" r="3.8"/><circle cx="1213.1" cy="866.8" r="3.8"/><circle cx="1242.9" cy="865.5" r="3.8"/><circle cx="1275.1" cy="864.3" r="3.8"/><circle cx="1312.3" cy="863" r="3.8"/><circle cx="1344.6" cy="859.3" r="3.8"/><circle cx="1374.3" cy="861.8" r="3.8"/><circle cx="1399.2" cy="856.9" r="3.8"/><circle cx="1433.9" cy="851.9" r="3.8"/><circle cx="1461.2" cy="849.4" r="3.8"/><circle cx="1486" cy="842.9" r="3.8"/><circle cx="1516.3" cy="849.4" r="3.8"/><circle cx="1539.1" cy="845" r="3.8"/><circle cx="1558.6" cy="839.6" r="3.8"/><circle cx="1579.2" cy="837.4" r="3.8"/><circle cx="1596.5" cy="845" r="3.8"/><circle cx="1619.3" cy="840.7" r="3.8"/><circle cx="1633.3" cy="827.7" r="3.8"/><circle cx="1651.8" cy="823.4" r="3.8"/><circle cx="1672.4" cy="820.1" r="3.8"/><circle cx="1687.5" cy="820.1" r="3.8"/><circle cx="1703.8" cy="834.2" r="3.8"/><circle cx="1715.7" cy="813.6" r="3.8"/><circle cx="1727.6" cy="808.2" r="3.8"/><circle cx="1741.7" cy="812.5" r="3.8"/><circle cx="1763.4" cy="811.4" r="3.8"/><circle cx="1778.5" cy="818" r="3.8"/><circle cx="1791.5" cy="809.3" r="3.8"/><circle cx="1808.9" cy="803.9" r="3.8"/><circle cx="1826.2" cy="797.4" r="3.8"/><circle cx="1845" cy="793" r="3.8"/><circle cx="1865" cy="785" r="3.8"/><circle cx="1888" cy="776" r="3.8"/><circle cx="1909.3" cy="762.6" r="3.8"/><circle cx="1920.2" cy="780" r="3.8"/><circle cx="1938.6" cy="784.3" r="3.8"/><circle cx="1960" cy="785" r="3.8"/><circle cx="1985" cy="789" r="3.8"/><circle cx="2009" cy="790.8" r="3.8"/><circle cx="2035" cy="775" r="3.8"/><circle cx="2060" cy="760" r="3.8"/><circle cx="2091.3" cy="745.3" r="3.8"/><circle cx="2103.2" cy="754" r="3.8"/><circle cx="2115" cy="775.6" r="3.8"/><circle cx="2125" cy="740" r="3.8"/><circle cx="2134.6" cy="706.3" r="3.8"/><circle cx="2148" cy="720" r="3.8"/></g>
<g fill="#c0403e"><circle cx="389" cy="1709.2" r="3.2"/><circle cx="420.1" cy="1700.9" r="3.2"/><circle cx="448.3" cy="1694.3" r="3.2"/><circle cx="457.6" cy="1662.7" r="3.2"/><circle cx="464.7" cy="1630.4" r="3.2"/><circle cx="471.8" cy="1598.2" r="3.2"/><circle cx="477.6" cy="1565.7" r="3.2"/><circle cx="482.1" cy="1533.1" r="3.2"/><circle cx="485.8" cy="1500.3" r="3.2"/><circle cx="489.3" cy="1467.4" r="3.2"/><circle cx="492.7" cy="1434.6" r="3.2"/><circle cx="496.1" cy="1401.8" r="3.2"/><circle cx="499.5" cy="1369" r="3.2"/><circle cx="502.3" cy="1336.1" r="3.2"/><circle cx="504.9" cy="1303.2" r="3.2"/><circle cx="507.8" cy="1270.3" r="3.2"/><circle cx="511.7" cy="1237.5" r="3.2"/><circle cx="516.5" cy="1204.9" r="3.2"/><circle cx="521.8" cy="1172.3" r="3.2"/><circle cx="527.1" cy="1139.8" r="3.2"/><circle cx="532.7" cy="1107.2" r="3.2"/><circle cx="538.8" cy="1074.8" r="3.2"/><circle cx="545.6" cy="1042.5" r="3.2"/><circle cx="553.5" cy="1010.5" r="3.2"/><circle cx="563.9" cy="979.2" r="3.2"/><circle cx="580.6" cy="950.8" r="3.2"/><circle cx="602.9" cy="926.6" r="3.2"/><circle cx="628.8" cy="906.2" r="3.2"/></g>
<g fill="#c0403e"><circle cx="651.3" cy="916.5" r="3.8"/><circle cx="670.8" cy="925.2" r="3.8"/><circle cx="696.8" cy="938.2" r="3.8"/><circle cx="718.5" cy="955.5" r="3.8"/><circle cx="740" cy="968.5" r="3.8"/><circle cx="749.8" cy="985" r="3.8"/><circle cx="762.3" cy="975" r="3.8"/><circle cx="774.8" cy="987.4" r="3.8"/><circle cx="777.3" cy="1004.9" r="3.8"/><circle cx="787.2" cy="977.4" r="3.8"/><circle cx="881.9" cy="1067.2" r="3.8"/><circle cx="894.4" cy="1058.4" r="3.8"/><circle cx="909.3" cy="1083.3" r="3.8"/><circle cx="935.5" cy="1093.3" r="3.8"/><circle cx="957.9" cy="1109.5" r="3.8"/><circle cx="987.8" cy="1131.9" r="3.8"/><circle cx="1018.4" cy="1146.2" r="3.8"/><circle cx="1049.4" cy="1156.1" r="3.8"/><circle cx="1082.9" cy="1163.5" r="3.8"/><circle cx="1112.7" cy="1168.5" r="3.8"/><circle cx="1148.7" cy="1166" r="3.8"/><circle cx="1178.4" cy="1164.8" r="3.8"/><circle cx="1214.4" cy="1161" r="3.8"/><circle cx="1244.1" cy="1157.3" r="3.8"/><circle cx="1273.9" cy="1152.4" r="3.8"/><circle cx="1307.4" cy="1143.7" r="3.8"/><circle cx="1339.6" cy="1137.5" r="3.8"/><circle cx="1371.9" cy="1126.3" r="3.8"/><circle cx="1406.6" cy="1113.9" r="3.8"/><circle cx="1438.8" cy="1104" r="3.8"/><circle cx="1468.7" cy="1085.9" r="3.8"/><circle cx="1493.6" cy="1081.5" r="3.8"/><circle cx="1517.4" cy="1073.9" r="3.8"/><circle cx="1542.3" cy="1063.1" r="3.8"/><circle cx="1562.9" cy="1050.1" r="3.8"/><circle cx="1581.3" cy="1044.7" r="3.8"/><circle cx="1607.3" cy="1032.8" r="3.8"/><circle cx="1629" cy="1025.2" r="3.8"/><circle cx="1650.7" cy="1018.7" r="3.8"/><circle cx="1671.3" cy="1015.4" r="3.8"/><circle cx="1687.5" cy="1010" r="3.8"/><circle cx="1702.7" cy="992.7" r="3.8"/><circle cx="1715.7" cy="989.4" r="3.8"/><circle cx="1737.4" cy="966.7" r="3.8"/><circle cx="1749.3" cy="993.8" r="3.8"/><circle cx="1761.2" cy="966.7" r="3.8"/><circle cx="1776.4" cy="953.7" r="3.8"/><circle cx="1788.3" cy="984" r="3.8"/><circle cx="1801.3" cy="947.2" r="3.8"/><circle cx="1817.5" cy="945" r="3.8"/><circle cx="1834.9" cy="947.2" r="3.8"/><circle cx="1849.1" cy="948.3" r="3.8"/><circle cx="1862.8" cy="941.4" r="3.8"/><circle cx="1874.1" cy="917.6" r="3.8"/><circle cx="1888.9" cy="926.7" r="3.8"/><circle cx="1899.2" cy="911.9" r="3.8"/><circle cx="1908.3" cy="918.7" r="3.8"/><circle cx="1920.8" cy="926.7" r="3.8"/><circle cx="1936.7" cy="922.1" r="3.8"/><circle cx="1951.5" cy="915.3" r="3.8"/><circle cx="1961.8" cy="900.5" r="3.8"/><circle cx="1974.3" cy="888" r="3.8"/><circle cx="1986.8" cy="908.4" r="3.8"/><circle cx="2002.7" cy="895.9" r="3.8"/><circle cx="2017.5" cy="906.2" r="3.8"/><circle cx="2032.3" cy="898.2" r="3.8"/><circle cx="2039.3" cy="862.3" r="3.8"/><circle cx="2048" cy="873" r="3.8"/><circle cx="2052.8" cy="889.1" r="3.8"/><circle cx="2061" cy="875.3" r="3.8"/><circle cx="2069.6" cy="866.6" r="3.8"/><circle cx="2077.8" cy="884.6" r="3.8"/><circle cx="2080.5" cy="845" r="3.8"/><circle cx="2084.8" cy="840.7" r="3.8"/><circle cx="2100" cy="832" r="3.8"/><circle cx="2108.6" cy="851.5" r="3.8"/><circle cx="2119.5" cy="862.3" r="3.8"/><circle cx="2128.1" cy="888.3" r="3.8"/><circle cx="2139" cy="871" r="3.8"/><circle cx="2149.5" cy="898.2" r="3.8"/></g>
<g fill="#404c7e"><circle cx="471.3" cy="1694.5" r="3.2"/><circle cx="478.8" cy="1662.3" r="3.2"/><circle cx="485" cy="1629.9" r="3.2"/><circle cx="490.5" cy="1597.4" r="3.2"/><circle cx="497.3" cy="1565.1" r="3.2"/><circle cx="501.8" cy="1532.4" r="3.2"/><circle cx="505.4" cy="1499.6" r="3.2"/><circle cx="508.5" cy="1466.7" r="3.2"/><circle cx="511.7" cy="1433.9" r="3.2"/><circle cx="515.2" cy="1401.1" r="3.2"/><circle cx="518.5" cy="1368.2" r="3.2"/><circle cx="521.4" cy="1335.4" r="3.2"/><circle cx="524.4" cy="1302.5" r="3.2"/><circle cx="527.9" cy="1269.7" r="3.2"/><circle cx="533.4" cy="1237.2" r="3.2"/><circle cx="542.3" cy="1205.4" r="3.2"/><circle cx="552.4" cy="1174" r="3.2"/><circle cx="563.6" cy="1143" r="3.2"/><circle cx="575.4" cy="1112.2" r="3.2"/><circle cx="592.1" cy="1083.7" r="3.2"/></g>
<g fill="#404c7e"><circle cx="597.9" cy="1090.8" r="3.8"/><circle cx="624" cy="1070.3" r="3.8"/><circle cx="648" cy="1064.6" r="3.8"/><circle cx="668.4" cy="1064.6" r="3.8"/><circle cx="687.7" cy="1074.9" r="3.8"/><circle cx="705" cy="1087" r="3.8"/><circle cx="721.2" cy="1095.8" r="3.8"/><circle cx="732.4" cy="1115.7" r="3.8"/><circle cx="744.9" cy="1123.2" r="3.8"/><circle cx="759.8" cy="1139.4" r="3.8"/><circle cx="769.8" cy="1115.7" r="3.8"/><circle cx="782.2" cy="1135.7" r="3.8"/><circle cx="822" cy="1249" r="3.8"/><circle cx="827" cy="1274" r="3.8"/><circle cx="829.6" cy="1231.6" r="3.8"/><circle cx="852" cy="1211.7" r="3.8"/><circle cx="859.5" cy="1221.6" r="3.8"/><circle cx="874.4" cy="1229.1" r="3.8"/><circle cx="891.9" cy="1241.6" r="3.8"/><circle cx="909.3" cy="1264" r="3.8"/><circle cx="929.3" cy="1280.2" r="3.8"/><circle cx="954.2" cy="1295.2" r="3.8"/><circle cx="989" cy="1313.9" r="3.8"/><circle cx="1022.2" cy="1326" r="3.8"/><circle cx="1058.1" cy="1334.7" r="3.8"/><circle cx="1092.8" cy="1335.9" r="3.8"/><circle cx="1130" cy="1335.9" r="3.8"/><circle cx="1161" cy="1335.9" r="3.8"/><circle cx="1195.8" cy="1329.7" r="3.8"/><circle cx="1234.2" cy="1327.2" r="3.8"/><circle cx="1266.5" cy="1318.5" r="3.8"/><circle cx="1302.4" cy="1313.6" r="3.8"/><circle cx="1333.4" cy="1308.6" r="3.8"/><circle cx="1363.2" cy="1299.9" r="3.8"/><circle cx="1399.1" cy="1292.5" r="3.8"/><circle cx="1436.3" cy="1283.8" r="3.8"/><circle cx="1466.1" cy="1276.4" r="3.8"/><circle cx="1496.8" cy="1266.8" r="3.8"/><circle cx="1528.3" cy="1259.2" r="3.8"/><circle cx="1558.6" cy="1251.6" r="3.8"/><circle cx="1587.8" cy="1233.2" r="3.8"/><circle cx="1610.6" cy="1224.5" r="3.8"/><circle cx="1636.6" cy="1230" r="3.8"/><circle cx="1659.3" cy="1211.5" r="3.8"/><circle cx="1682.1" cy="1205" r="3.8"/><circle cx="1698.4" cy="1191" r="3.8"/><circle cx="1713.5" cy="1192" r="3.8"/><circle cx="1730.9" cy="1181.2" r="3.8"/><circle cx="1743.9" cy="1182.3" r="3.8"/><circle cx="1761.2" cy="1171.4" r="3.8"/><circle cx="1777.4" cy="1170.4" r="3.8"/><circle cx="1795.9" cy="1168.2" r="3.8"/><circle cx="1806.7" cy="1150.9" r="3.8"/><circle cx="1820.8" cy="1149.8" r="3.8"/><circle cx="1833.8" cy="1161.7" r="3.8"/><circle cx="1846.8" cy="1143.3" r="3.8"/><circle cx="1858.2" cy="1121.2" r="3.8"/><circle cx="1871.9" cy="1134.9" r="3.8"/><circle cx="1885.5" cy="1112.1" r="3.8"/><circle cx="1900.3" cy="1101.9" r="3.8"/><circle cx="1912.8" cy="1107.6" r="3.8"/><circle cx="1925.3" cy="1128" r="3.8"/><circle cx="1935.6" cy="1096.2" r="3.8"/><circle cx="1947" cy="1112.1" r="3.8"/><circle cx="1962.9" cy="1084.8" r="3.8"/><circle cx="1978.8" cy="1082.6" r="3.8"/><circle cx="1991.3" cy="1064.3" r="3.8"/><circle cx="2001.6" cy="1073.4" r="3.8"/><circle cx="2016.4" cy="1064.3" r="3.8"/><circle cx="2026.6" cy="1081.4" r="3.8"/><circle cx="2034.6" cy="1047.3" r="3.8"/><circle cx="2042.5" cy="1073.4" r="3.8"/><circle cx="2056.2" cy="1062.1" r="3.8"/><circle cx="2064.2" cy="1039.3" r="3.8"/><circle cx="2074.4" cy="1022.2" r="3.8"/><circle cx="2079" cy="1039.3" r="3.8"/><circle cx="2090.3" cy="1004" r="3.8"/><circle cx="2105.1" cy="1037" r="3.8"/><circle cx="2108.5" cy="1012" r="3.8"/><circle cx="2119.9" cy="1027.9" r="3.8"/><circle cx="2122.2" cy="1067.8" r="3.8"/><circle cx="2129" cy="1046.1" r="3.8"/><circle cx="2132.4" cy="1112.1" r="3.8"/><circle cx="2135.9" cy="1086" r="3.8"/><circle cx="2139.3" cy="1126.9" r="3.8"/><circle cx="2145" cy="1003" r="3.8"/><circle cx="2153" cy="1002" r="3.8"/></g>
<g fill="#3c5a48"><circle cx="477.6" cy="1709.6" r="3.2"/><circle cx="488.8" cy="1678.6" r="3.2"/><circle cx="496" cy="1646.3" r="3.2"/><circle cx="501.9" cy="1613.9" r="3.2"/><circle cx="506.6" cy="1581.2" r="3.2"/><circle cx="510.7" cy="1548.5" r="3.2"/><circle cx="515.1" cy="1515.8" r="3.2"/><circle cx="519.7" cy="1483.1" r="3.2"/><circle cx="524.6" cy="1450.5" r="3.2"/><circle cx="529.9" cy="1417.9" r="3.2"/><circle cx="536.3" cy="1385.5" r="3.2"/><circle cx="542.5" cy="1353.1" r="3.2"/><circle cx="548.8" cy="1320.7" r="3.2"/><circle cx="556.6" cy="1288.7" r="3.2"/><circle cx="566.2" cy="1257.1" r="3.2"/><circle cx="578.6" cy="1226.6" r="3.2"/><circle cx="599.3" cy="1200.9" r="3.2"/></g>
<g fill="#3c5a48"><circle cx="621.7" cy="1193" r="3.8"/><circle cx="647.9" cy="1187.4" r="3.8"/><circle cx="670.6" cy="1190.8" r="3.8"/><circle cx="687.7" cy="1200" r="3.8"/><circle cx="705" cy="1208" r="3.8"/><circle cx="716.2" cy="1219.2" r="3.8"/><circle cx="726.2" cy="1235.4" r="3.8"/><circle cx="738.6" cy="1246.6" r="3.8"/><circle cx="757.3" cy="1259" r="3.8"/><circle cx="772.3" cy="1269" r="3.8"/><circle cx="784.7" cy="1276.5" r="3.8"/><circle cx="800.9" cy="1281.5" r="3.8"/><circle cx="797.2" cy="1301.4" r="3.8"/><circle cx="804.7" cy="1321.3" r="3.8"/><circle cx="809.6" cy="1356.2" r="3.8"/><circle cx="809.6" cy="1383.6" r="3.8"/><circle cx="829.6" cy="1318.8" r="3.8"/><circle cx="839.5" cy="1366.2" r="3.8"/><circle cx="848.3" cy="1326.3" r="3.8"/><circle cx="863.2" cy="1353.7" r="3.8"/><circle cx="869.4" cy="1383.6" r="3.8"/><circle cx="878.2" cy="1358.7" r="3.8"/><circle cx="895.6" cy="1374.9" r="3.8"/><circle cx="910.6" cy="1384.9" r="3.8"/><circle cx="931.8" cy="1403.6" r="3.8"/><circle cx="956.7" cy="1416" r="3.8"/><circle cx="986.8" cy="1434.4" r="3.8"/><circle cx="1021" cy="1443.3" r="3.8"/><circle cx="1052.3" cy="1453.8" r="3.8"/><circle cx="1088" cy="1455.2" r="3.8"/><circle cx="1125.2" cy="1456.7" r="3.8"/><circle cx="1157.9" cy="1459.7" r="3.8"/><circle cx="1193.6" cy="1456.7" r="3.8"/><circle cx="1229.3" cy="1453.8" r="3.8"/><circle cx="1259.1" cy="1449.3" r="3.8"/><circle cx="1288.9" cy="1443.3" r="3.8"/><circle cx="1324.6" cy="1438" r="3.8"/><circle cx="1355.8" cy="1430" r="3.8"/><circle cx="1384.1" cy="1419.5" r="3.8"/><circle cx="1413.9" cy="1410.6" r="3.8"/><circle cx="1448.1" cy="1397.2" r="3.8"/><circle cx="1477.9" cy="1388.3" r="3.8"/><circle cx="1506" cy="1372.6" r="3.8"/><circle cx="1535.7" cy="1369.6" r="3.8"/><circle cx="1560.5" cy="1353.8" r="3.8"/><circle cx="1589.3" cy="1342.9" r="3.8"/><circle cx="1615.1" cy="1334.9" r="3.8"/><circle cx="1644.8" cy="1322" r="3.8"/><circle cx="1667.7" cy="1309.1" r="3.8"/><circle cx="1685.5" cy="1306.2" r="3.8"/><circle cx="1702.4" cy="1298.2" r="3.8"/><circle cx="1722.2" cy="1291.3" r="3.8"/><circle cx="1744" cy="1276.4" r="3.8"/><circle cx="1760.9" cy="1272.4" r="3.8"/><circle cx="1785.7" cy="1281.3" r="3.8"/><circle cx="1772.8" cy="1252.6" r="3.8"/><circle cx="1797.6" cy="1247.6" r="3.8"/><circle cx="1813.5" cy="1245.6" r="3.8"/><circle cx="1827.4" cy="1250.6" r="3.8"/><circle cx="1851.2" cy="1248.6" r="3.8"/><circle cx="1841.3" cy="1231.7" r="3.8"/><circle cx="1863.1" cy="1231.7" r="3.8"/><circle cx="1876" cy="1231.7" r="3.8"/><circle cx="1890.9" cy="1217.9" r="3.8"/><circle cx="1901.4" cy="1208.9" r="3.8"/><circle cx="1920.8" cy="1208.9" r="3.8"/><circle cx="1933.3" cy="1216.8" r="3.8"/><circle cx="1942.4" cy="1202" r="3.8"/><circle cx="1949.2" cy="1190.6" r="3.8"/><circle cx="1959.5" cy="1205.4" r="3.8"/><circle cx="1974.3" cy="1197.5" r="3.8"/><circle cx="1984.5" cy="1194" r="3.8"/><circle cx="1995.9" cy="1183.8" r="3.8"/><circle cx="2008.4" cy="1175.9" r="3.8"/><circle cx="2020.9" cy="1182.7" r="3.8"/><circle cx="2032.3" cy="1155.4" r="3.8"/><circle cx="2039.1" cy="1177" r="3.8"/><circle cx="2047.1" cy="1154.2" r="3.8"/><circle cx="2052.8" cy="1187.2" r="3.8"/><circle cx="2060.8" cy="1205.4" r="3.8"/><circle cx="2065.3" cy="1163.3" r="3.8"/><circle cx="2071" cy="1133.8" r="3.8"/><circle cx="2081.2" cy="1162.2" r="3.8"/><circle cx="2092.6" cy="1124.7" r="3.8"/><circle cx="2099.4" cy="1164.5" r="3.8"/><circle cx="2106.3" cy="1187.2" r="3.8"/><circle cx="2110.8" cy="1148.5" r="3.8"/><circle cx="2116.5" cy="1159.9" r="3.8"/><circle cx="2122.2" cy="1198.6" r="3.8"/><circle cx="2123.3" cy="1225.9" r="3.8"/><circle cx="2130.2" cy="1153.1" r="3.8"/><circle cx="2142.7" cy="1167.9" r="3.8"/><circle cx="2148.4" cy="1190.6" r="3.8"/></g>
<path d="M1647 1357H1843" stroke="#5546a0" stroke-width="6"/>
<path d="M1647 1357H1659M1831 1357H1843" stroke="#4a4478" stroke-width="6" stroke-opacity="0.75"/>
<path d="M1647 1463.2H1843" stroke="#e0261f" stroke-width="6"/>
<path d="M1647 1463.2H1659M1831 1463.2H1843" stroke="#c0403e" stroke-width="6" stroke-opacity="0.75"/>
<path d="M1647 1569.6H1843" stroke="#2c4096" stroke-width="6"/>
<path d="M1647 1569.6H1659M1831 1569.6H1843" stroke="#404c7e" stroke-width="6" stroke-opacity="0.75"/>
<path d="M1647 1676H1843" stroke="#257648" stroke-width="6"/>
<path d="M1647 1676H1659M1831 1676H1843" stroke="#3c5a48" stroke-width="6" stroke-opacity="0.75"/>
<text x="1885.8" y="1387" font-size="81.3" font-family="Liberation Serif, Times New Roman, serif" font-weight="bold">film 1</text>
<text x="1885.8" y="1492.9" font-size="81.3" font-family="Liberation Serif, Times New Roman, serif" font-weight="bold">film 2</text>
<text x="1885.8" y="1598.8" font-size="81.3" font-family="Liberation Serif, Times New Roman, serif" font-weight="bold">film 3</text>
<text x="1885.8" y="1704.7" font-size="81.3" font-family="Liberation Serif, Times New Roman, serif" font-weight="bold">film 4</text>
<text x="285.2" y="408.1" font-size="96" text-anchor="end" font-family="Liberation Serif, Times New Roman, serif" font-weight="bold">100</text>
<text x="285.2" y="681.8" font-size="96" text-anchor="end" font-family="Liberation Serif, Times New Roman, serif" font-weight="bold">80</text>
<text x="285.2" y="955.5" font-size="96" text-anchor="end" font-family="Liberation Serif, Times New Roman, serif" font-weight="bold">60</text>
<text x="285.2" y="1229.2" font-size="96" text-anchor="end" font-family="Liberation Serif, Times New Roman, serif" font-weight="bold">40</text>
<text x="285.2" y="1503" font-size="96" text-anchor="end" font-family="Liberation Serif, Times New Roman, serif" font-weight="bold">20</text>
<text transform="translate(533.2 1874.5) scale(1 1.035)" font-size="103.5" text-anchor="middle" font-family="Liberation Serif, Times New Roman, serif" font-weight="bold">500</text>
<text transform="translate(938.8 1874.5) scale(1 1.035)" font-size="103.5" text-anchor="middle" font-family="Liberation Serif, Times New Roman, serif" font-weight="bold">1000</text>
<text transform="translate(1344.2 1874.5) scale(1 1.035)" font-size="103.5" text-anchor="middle" font-family="Liberation Serif, Times New Roman, serif" font-weight="bold">1500</text>
<text transform="translate(1749.7 1874.5) scale(1 1.035)" font-size="103.5" text-anchor="middle" font-family="Liberation Serif, Times New Roman, serif" font-weight="bold">2000</text>
<text transform="translate(2156 1874.5) scale(1 1.035)" font-size="103.5" text-anchor="middle" font-family="Liberation Serif, Times New Roman, serif" font-weight="bold">2500</text>
<text x="897.8" y="2040.5" font-size="118.6" font-family="Liberation Serif, Times New Roman, serif" font-weight="bold">Wavelength(nm)</text>
<text transform="translate(113 1484.4) rotate(-90)" x="0" y="0" font-size="118.5" font-family="Liberation Serif, Times New Roman, serif" font-weight="bold">Transmittance(%)</text>
<text transform="translate(358.8 487.5) scale(1 0.96)" font-size="84.3" font-family="Liberation Serif, Times New Roman, serif" font-weight="bold">solid line measured @25°C</text>
<text transform="translate(358.8 613.5) scale(1 0.96)" font-size="84.3" font-family="Liberation Serif, Times New Roman, serif" font-weight="bold">dash line measured @90°C</text>
</svg></body></html>
